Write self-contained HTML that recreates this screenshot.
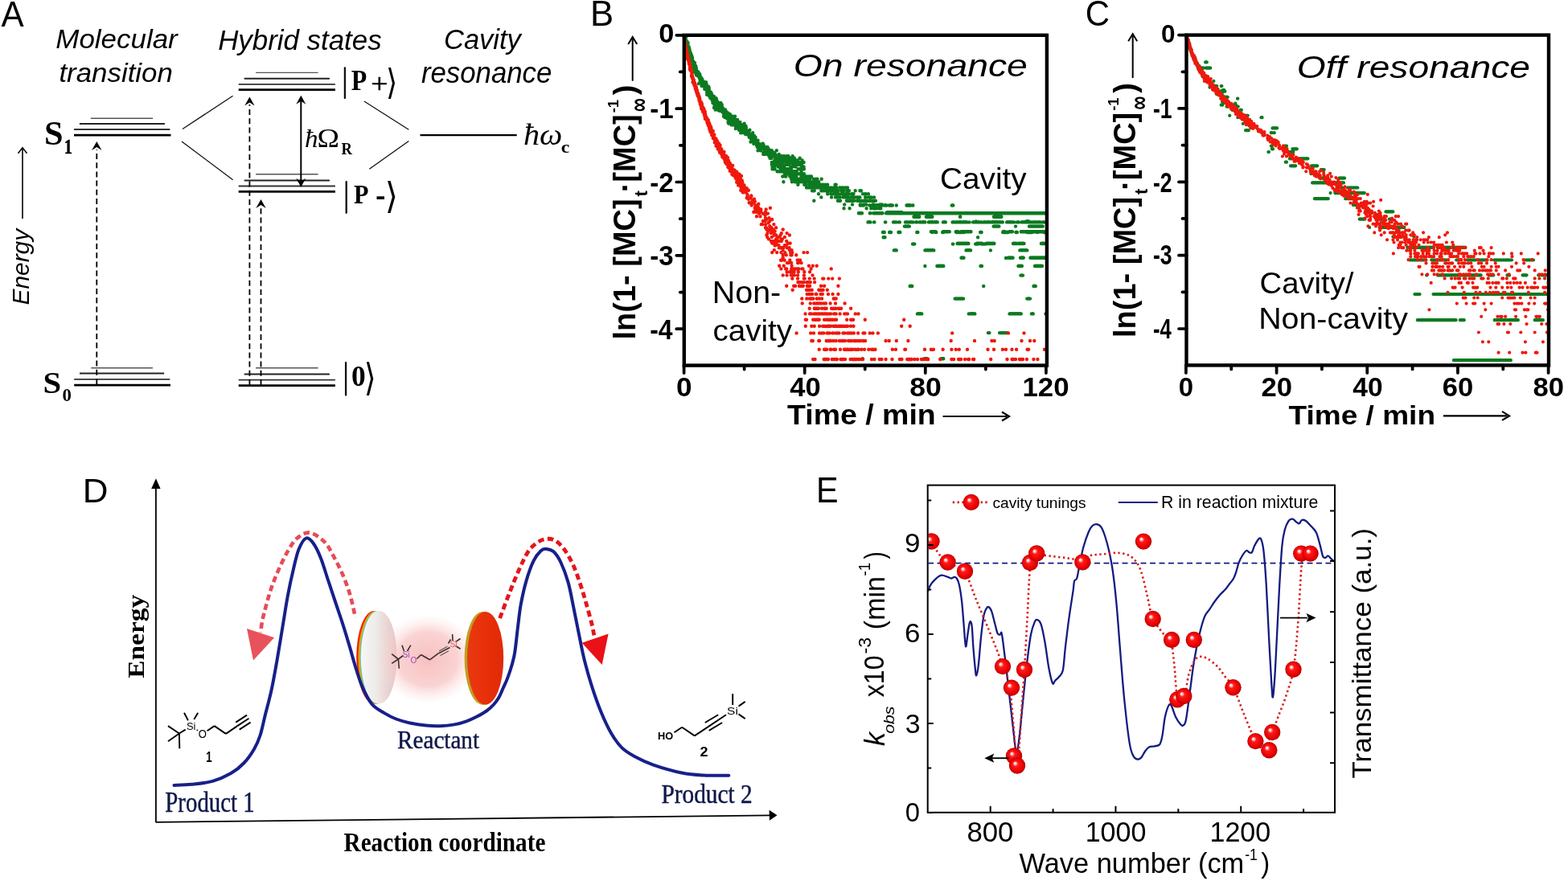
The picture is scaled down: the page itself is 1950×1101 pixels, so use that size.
<!DOCTYPE html>
<html><head><meta charset="utf-8"><title>Figure</title>
<style>html,body{margin:0;padding:0;background:#fff;overflow:hidden}svg{display:block}</style></head>
<body><svg width="1950" height="1101" viewBox="0 0 1950 1101">
<rect width="1950" height="1101" fill="#fff"/>
<text transform="translate(1.50,32.60) scale(0.9557,1)" font-family='"Liberation Sans", Arial, sans-serif' font-size="44.23" fill="#000">A</text>
<text transform="translate(69.35,60.07) scale(1.0271,1)" font-family='"Liberation Sans", Arial, sans-serif' font-size="34.00" font-style="italic" fill="#000">Molecular</text>
<text transform="translate(73.41,102.27) scale(1.0257,1)" font-family='"Liberation Sans", Arial, sans-serif' font-size="34.00" font-style="italic" fill="#000">transition</text>
<text transform="translate(271.15,62.32) scale(1.0200,1)" font-family='"Liberation Sans", Arial, sans-serif' font-size="34.20" font-style="italic" fill="#000">Hybrid states</text>
<text transform="translate(551.98,60.95)" font-family='"Liberation Sans", Arial, sans-serif' font-size="34.52" font-style="italic" fill="#000">Cavity</text>
<text transform="translate(523.96,103.43) scale(0.9543,1)" font-family='"Liberation Sans", Arial, sans-serif' font-size="36.44" font-style="italic" fill="#000">resonance</text>
<text transform="translate(36.36,379.47) rotate(-90) scale(0.9830,1)" font-family='"Liberation Sans", Arial, sans-serif' font-size="30.37" font-style="italic" fill="#000">Energy</text>
<line x1="28.00" y1="272.00" x2="28.00" y2="185.00" stroke="#000" stroke-width="1.6"/>
<path d="M22.50,190.80 L28.00,183.80 L33.50,190.80" fill="none" stroke="#000" stroke-width="1.5" stroke-linejoin="miter"/>
<line x1="112.80" y1="147.30" x2="190.10" y2="147.30" stroke="#555" stroke-width="1.4"/>
<line x1="98.90" y1="154.10" x2="204.90" y2="154.10" stroke="#222" stroke-width="2.0"/>
<line x1="92.00" y1="161.00" x2="211.40" y2="161.00" stroke="#333" stroke-width="1.8"/>
<line x1="92.00" y1="168.10" x2="212.50" y2="168.10" stroke="#000" stroke-width="2.8"/>
<line x1="113.20" y1="457.80" x2="190.00" y2="457.80" stroke="#555" stroke-width="1.4"/>
<line x1="99.00" y1="464.60" x2="204.20" y2="464.60" stroke="#222" stroke-width="2.0"/>
<line x1="92.20" y1="471.80" x2="211.30" y2="471.80" stroke="#333" stroke-width="1.8"/>
<line x1="92.20" y1="479.10" x2="212.00" y2="479.10" stroke="#000" stroke-width="2.8"/>
<line x1="318.10" y1="90.40" x2="395.60" y2="90.40" stroke="#555" stroke-width="1.4"/>
<line x1="303.70" y1="97.80" x2="409.90" y2="97.80" stroke="#222" stroke-width="2.0"/>
<line x1="296.70" y1="104.90" x2="416.90" y2="104.90" stroke="#333" stroke-width="1.8"/>
<line x1="296.70" y1="111.70" x2="416.90" y2="111.70" stroke="#000" stroke-width="2.8"/>
<line x1="318.10" y1="216.80" x2="395.60" y2="216.80" stroke="#555" stroke-width="1.4"/>
<line x1="303.70" y1="224.40" x2="409.90" y2="224.40" stroke="#222" stroke-width="2.0"/>
<line x1="296.70" y1="231.50" x2="416.90" y2="231.50" stroke="#333" stroke-width="1.8"/>
<line x1="296.70" y1="238.40" x2="416.90" y2="238.40" stroke="#000" stroke-width="2.8"/>
<line x1="318.10" y1="457.80" x2="395.60" y2="457.80" stroke="#555" stroke-width="1.4"/>
<line x1="303.70" y1="465.40" x2="409.90" y2="465.40" stroke="#222" stroke-width="2.0"/>
<line x1="296.70" y1="472.70" x2="416.90" y2="472.70" stroke="#333" stroke-width="1.8"/>
<line x1="296.70" y1="479.70" x2="416.90" y2="479.70" stroke="#000" stroke-width="2.8"/>
<line x1="120.30" y1="478.00" x2="120.30" y2="186.00" stroke="#000" stroke-width="1.8" stroke-dasharray="7,4.2"/>
<path d="M120.30,176.00 L126.50,187.00 L120.30,183.00 L114.10,187.00Z" fill="#000"/>
<line x1="310.40" y1="479.00" x2="310.40" y2="130.00" stroke="#000" stroke-width="1.8" stroke-dasharray="7,4.2"/>
<path d="M310.40,120.40 L316.60,131.40 L310.40,127.40 L304.20,131.40Z" fill="#000"/>
<line x1="324.50" y1="479.00" x2="324.50" y2="257.00" stroke="#000" stroke-width="1.8" stroke-dasharray="7,4.2"/>
<path d="M324.50,248.00 L330.70,259.00 L324.50,255.00 L318.30,259.00Z" fill="#000"/>
<line x1="374.30" y1="125.00" x2="374.30" y2="227.00" stroke="#000" stroke-width="2.0"/>
<path d="M374.30,118.80 L380.30,129.80 L374.30,125.80 L368.30,129.80Z" fill="#000"/>
<path d="M374.30,232.80 L380.30,221.80 L374.30,225.80 L368.30,221.80Z" fill="#000"/>
<line x1="227.00" y1="160.50" x2="289.60" y2="119.20" stroke="#111" stroke-width="1.3"/>
<line x1="226.00" y1="175.90" x2="289.60" y2="223.80" stroke="#111" stroke-width="1.3"/>
<line x1="452.90" y1="126.00" x2="508.30" y2="161.30" stroke="#111" stroke-width="1.3"/>
<line x1="459.40" y1="210.20" x2="508.30" y2="175.50" stroke="#111" stroke-width="1.3"/>
<line x1="522.50" y1="168.20" x2="642.70" y2="168.20" stroke="#000" stroke-width="2.2"/>
<text transform="translate(55.11,179.66) scale(1.0313,1)" font-family='"Liberation Serif", "Times New Roman", serif' font-size="41.16" font-weight="700" fill="#000">S</text>
<text transform="translate(79.70,190.70) scale(0.8311,1)" font-family='"Liberation Serif", "Times New Roman", serif' font-size="24.71" font-weight="700" fill="#000" stroke="#000" stroke-width="0.5">1</text>
<text transform="translate(53.49,489.09) scale(1.0492,1)" font-family='"Liberation Serif", "Times New Roman", serif' font-size="38.84" font-weight="700" fill="#000">S</text>
<text transform="translate(77.39,499.43) scale(0.9582,1)" font-family='"Liberation Serif", "Times New Roman", serif' font-size="23.85" font-weight="700" fill="#000">0</text>
<line x1="428.90" y1="84.40" x2="428.90" y2="122.10" stroke="#111" stroke-width="2.3" stroke-linecap="round"/>
<text transform="translate(479.93,116.94) scale(0.8376,1)" font-family='"DejaVu Sans", sans-serif' font-size="43.81" fill="#000">⟩</text>
<text transform="translate(436.70,112.30) scale(0.8974,1)" font-family='"Liberation Serif", "Times New Roman", serif' font-size="35.66" font-weight="700" fill="#000">P</text>
<text transform="translate(461.38,114.93) scale(1.0643,1)" font-family='"Liberation Serif", "Times New Roman", serif' font-size="34.48" fill="#000" stroke="#000" stroke-width="0.7">+</text>
<line x1="430.70" y1="226.10" x2="430.70" y2="264.80" stroke="#111" stroke-width="2.3" stroke-linecap="round"/>
<text transform="translate(478.73,259.48) scale(0.9310,1)" font-family='"DejaVu Sans", sans-serif' font-size="44.91" fill="#000">⟩</text>
<text transform="translate(440.03,253.10) scale(0.9239,1)" font-family='"Liberation Serif", "Times New Roman", serif' font-size="32.76" font-weight="700" fill="#000">P</text>
<rect x="468.5" y="244.3" width="9.5" height="3.7" fill="#000"/>
<line x1="430.10" y1="451.10" x2="430.10" y2="491.60" stroke="#111" stroke-width="2.3" stroke-linecap="round"/>
<text transform="translate(452.80,486.01) scale(0.8188,1)" font-family='"DejaVu Sans", sans-serif' font-size="46.90" fill="#000">⟩</text>
<text transform="translate(436.99,480.05)" font-family='"Liberation Serif", "Times New Roman", serif' font-size="35.35" font-weight="700" fill="#000">0</text>
<text transform="translate(378.96,182.50) scale(1.0266,1)" font-family='"Liberation Serif", "Times New Roman", serif' font-size="32.28" font-style="italic" fill="#000">ħ</text>
<text transform="translate(394.56,182.50) scale(1.0817,1)" font-family='"Liberation Serif", "Times New Roman", serif' font-size="34.23" fill="#000">Ω</text>
<text transform="translate(424.41,191.50) scale(0.8556,1)" font-family='"Liberation Serif", "Times New Roman", serif' font-size="21.79" font-weight="700" fill="#000">R</text>
<text transform="translate(650.95,180.21) scale(1.0689,1)" font-family='"Liberation Serif", "Times New Roman", serif' font-size="37.57" font-style="italic" fill="#000">ħω</text>
<text transform="translate(697.76,190.46) scale(1.0822,1)" font-family='"Liberation Serif", "Times New Roman", serif' font-size="22.00" font-weight="700" fill="#000">c</text>
<text transform="translate(733.89,32.30) scale(0.9912,1)" font-family='"Liberation Sans", Arial, sans-serif' font-size="44.09" fill="#000">B</text>
<path d="M850.7 44.2h0M850.9 46.1h0M851.1 45.1h0M851.3 44.2h0M851.5 50.0h0M851.5 46.6h0M851.5 45.1h0M852.1 46.6h0M852.1 44.7h0M852.2 53.1h0M852.3 47.5h0M852.4 44.7h0M852.7 50.0h0M852.9 49.5h0M852.9 47.5h0M852.9 44.7h0M853.0 46.6h0M853.2 54.2h0M853.5 52.1h0M853.6 54.2h0M853.8 51.6h0M853.9 56.3h0M853.9 51.0h0M854.0 52.1h0M854.2 54.2h0M854.4 58.5h0M854.4 54.2h0M854.5 53.6h0M854.5 52.6h0M854.7 52.1h0M854.8 53.1h0M854.8 52.6h0M855.1 55.2h0M855.2 54.2h0M855.3 59.0h0M855.3 57.4h0M855.3 56.3h0M855.4 54.7h0M855.6 62.4h0M855.6 53.1h0M855.7 59.6h0M855.8 57.9h0M855.9 60.7h0M855.9 59.6h0M856.5 62.4h0M856.5 57.9h0M856.6 58.5h0M856.7 60.7h0M856.8 63.6h0M856.9 63.0h0M856.9 61.8h0M856.9 60.1h0M856.9 59.0h0M857.0 66.5h0M857.0 64.8h0M857.2 64.2h0M857.4 64.8h0M857.5 61.3h0M857.7 63.6h0M857.8 63.0h0M857.9 69.0h0M857.9 67.2h0M858.0 67.8h0M858.3 69.0h0M858.5 70.2h0M858.6 69.6h0M858.6 67.2h0M858.9 69.6h0M858.9 68.4h0M859.0 65.9h0M859.2 71.5h0M859.2 69.0h0M859.3 74.1h0M859.4 70.9h0M859.4 70.2h0M859.5 71.5h0M859.7 75.4h0M859.7 74.8h0M859.9 72.8h0M859.9 72.1h0M859.9 71.5h0M860.1 74.1h0M860.1 73.4h0M860.2 69.0h0M860.3 74.8h0M860.3 72.8h0M860.3 71.5h0M860.4 75.4h0M860.4 74.1h0M861.0 71.5h0M861.1 79.5h0M861.2 82.3h0M861.2 74.1h0M861.3 80.9h0M861.4 79.5h0M861.4 77.4h0M861.4 76.8h0M861.6 83.8h0M861.6 76.1h0M861.6 75.4h0M861.9 81.6h0M862.0 76.8h0M862.2 78.1h0M862.3 85.2h0M862.3 83.8h0M862.6 82.3h0M862.8 86.7h0M862.8 86.0h0M862.9 78.1h0M863.0 82.3h0M863.0 80.2h0M863.0 79.5h0M863.0 77.4h0M863.3 82.3h0M863.4 80.9h0M863.7 89.8h0M863.8 85.2h0M863.8 82.3h0M863.9 83.8h0M864.0 89.8h0M864.0 81.6h0M864.0 78.1h0M864.1 84.5h0M864.6 88.2h0M864.8 90.6h0M864.9 87.5h0M864.9 81.6h0M865.0 84.5h0M865.2 89.0h0M865.3 90.6h0M865.3 86.7h0M865.5 83.0h0M865.6 88.2h0M865.8 90.6h0M865.8 86.7h0M865.9 93.0h0M865.9 85.2h0M866.0 91.4h0M866.1 88.2h0M866.1 87.5h0M866.4 88.2h0M866.5 93.8h0M867.3 91.4h0M867.4 90.6h0M867.5 89.0h0M867.7 93.0h0M867.9 93.8h0M867.9 90.6h0M868.0 92.2h0M868.2 89.8h0M868.3 92.2h0M868.3 90.6h0M868.5 93.8h0M868.5 89.8h0M868.7 94.6h0M868.8 104.1h0M868.8 92.2h0M869.5 96.2h0M869.6 95.4h0M869.9 93.0h0M870.1 97.1h0M870.1 96.2h0M870.1 95.4h0M870.3 92.2h0M870.4 98.8h0M870.4 97.9h0M870.4 97.1h0M870.4 94.6h0M870.5 96.2h0M870.6 101.4h0M870.8 99.6h0M870.8 98.8h0M870.8 96.2h0M870.9 97.9h0M870.9 97.1h0M871.0 101.4h0M871.0 95.4h0M871.3 103.2h0M871.3 95.4h0M871.4 100.5h0M871.9 98.8h0M872.1 97.1h0M872.4 99.6h0M872.6 106.9h0M872.9 104.1h0M872.9 97.9h0M873.0 101.4h0M873.1 105.0h0M873.2 99.6h0M873.3 102.3h0M873.3 101.4h0M873.3 98.8h0M873.8 101.4h0M873.9 104.1h0M873.9 100.5h0M874.5 106.9h0M874.5 105.9h0M874.5 101.4h0M874.9 104.1h0M874.9 101.4h0M875.1 106.9h0M875.1 102.3h0M875.7 105.0h0M876.2 103.2h0M876.3 110.7h0M876.3 108.7h0M876.4 105.9h0M876.5 107.8h0M876.5 104.1h0M876.7 106.9h0M877.1 110.7h0M877.1 105.9h0M877.2 109.7h0M877.4 106.9h0M877.7 104.1h0M877.7 103.2h0M878.0 102.3h0M878.1 109.7h0M878.2 108.7h0M878.5 110.7h0M878.6 107.8h0M878.6 106.9h0M878.7 109.7h0M878.7 105.0h0M879.1 114.7h0M879.1 108.7h0M879.2 117.8h0M879.2 111.7h0M879.3 113.7h0M879.4 111.7h0M879.5 112.7h0M879.6 110.7h0M879.8 112.7h0M879.9 113.7h0M880.1 109.7h0M880.2 115.7h0M880.2 108.7h0M880.3 111.7h0M880.4 108.7h0M880.5 112.7h0M880.9 116.8h0M880.9 114.7h0M880.9 112.7h0M881.0 111.7h0M881.2 107.8h0M881.3 113.7h0M881.3 110.7h0M881.4 116.8h0M881.4 114.7h0M881.7 117.8h0M881.8 109.7h0M882.0 116.8h0M882.0 114.7h0M882.1 112.7h0M882.2 117.8h0M882.3 119.9h0M882.3 116.8h0M882.3 115.7h0M882.6 117.8h0M882.7 113.7h0M882.8 118.9h0M882.8 116.8h0M882.8 114.7h0M883.0 117.8h0M883.4 122.1h0M883.5 119.9h0M883.8 116.8h0M883.9 117.8h0M883.9 114.7h0M884.1 115.7h0M884.3 118.9h0M884.5 121.0h0M884.6 119.9h0M884.6 115.7h0M884.7 117.8h0M884.8 119.9h0M884.8 118.9h0M884.9 116.8h0M885.0 122.1h0M885.0 117.8h0M885.4 119.9h0M885.6 124.4h0M885.6 123.3h0M885.6 122.1h0M885.7 121.0h0M885.9 118.9h0M886.1 119.9h0M886.2 121.0h0M886.4 127.9h0M886.4 126.7h0M886.4 123.3h0M886.8 122.1h0M887.3 121.0h0M887.3 119.9h0M887.5 124.4h0M887.9 127.9h0M887.9 125.5h0M887.9 122.1h0M887.9 121.0h0M887.9 119.9h0M888.0 134.0h0M888.2 129.0h0M888.3 130.2h0M888.3 125.5h0M888.3 123.3h0M888.4 126.7h0M888.5 129.0h0M888.5 124.4h0M888.7 127.9h0M888.8 126.7h0M888.8 124.4h0M888.9 125.5h0M888.9 122.1h0M889.0 127.9h0M889.7 136.5h0M889.7 129.0h0M889.7 123.3h0M889.8 130.2h0M889.8 125.5h0M890.0 131.5h0M890.1 127.9h0M890.3 127.9h0M890.3 126.7h0M890.5 125.5h0M890.5 122.1h0M890.6 124.4h0M890.8 131.5h0M891.0 129.0h0M891.0 123.3h0M891.6 131.5h0M891.6 126.7h0M891.6 125.5h0M891.7 130.2h0M891.8 131.5h0M891.8 129.0h0M891.8 127.9h0M891.9 134.0h0M892.0 126.7h0M892.1 132.7h0M892.3 136.5h0M892.4 130.2h0M892.5 134.0h0M892.5 131.5h0M892.6 132.7h0M892.8 134.0h0M893.2 131.5h0M893.2 130.2h0M893.3 129.0h0M893.5 131.5h0M893.8 136.5h0M893.8 132.7h0M893.8 131.5h0M893.9 129.0h0M893.9 127.9h0M894.1 135.2h0M894.1 130.2h0M894.3 135.2h0M894.3 134.0h0M894.3 132.7h0M894.3 129.0h0M894.5 137.8h0M894.6 131.5h0M895.0 132.7h0M895.1 135.2h0M895.2 136.5h0M895.5 132.7h0M895.6 134.0h0M895.6 131.5h0M896.0 135.2h0M896.0 134.0h0M896.3 135.2h0M896.3 132.7h0M896.4 127.9h0M896.5 137.8h0M896.5 134.0h0M896.9 136.5h0M897.0 135.2h0M897.0 134.0h0M897.3 137.8h0M897.4 135.2h0M897.8 130.2h0M898.0 137.8h0M898.1 136.5h0M898.1 135.2h0M898.3 139.2h0M898.3 137.8h0M898.7 136.5h0M898.7 135.2h0M898.7 134.0h0M899.0 136.5h0M899.0 135.2h0M899.1 137.8h0M899.3 139.2h0M899.6 140.5h0M899.7 137.8h0M900.0 144.7h0M900.0 137.8h0M900.1 141.9h0M900.1 139.2h0M900.2 140.5h0M900.5 140.5h0M900.6 141.9h0M900.7 143.3h0M901.0 136.5h0M901.1 140.5h0M901.4 146.1h0M901.4 140.5h0M901.5 143.3h0M901.5 139.2h0M901.7 141.9h0M901.9 143.3h0M902.0 144.7h0M902.0 141.9h0M902.0 136.5h0M902.3 139.2h0M902.3 137.8h0M902.4 144.7h0M902.5 146.1h0M902.6 143.3h0M902.8 140.5h0M903.1 144.7h0M903.1 143.3h0M903.3 140.5h0M903.5 146.1h0M903.5 141.9h0M903.6 139.2h0M904.0 141.9h0M904.1 144.7h0M904.1 143.3h0M904.2 147.5h0M904.2 140.5h0M904.4 143.3h0M904.4 141.9h0M904.4 140.5h0M904.5 144.7h0M905.0 143.3h0M905.1 146.1h0M905.2 140.5h0M905.4 143.3h0M905.5 152.0h0M905.5 144.7h0M906.1 153.6h0M906.1 147.5h0M906.2 146.1h0M906.2 143.3h0M906.3 149.0h0M906.3 147.5h0M906.4 146.1h0M906.5 144.7h0M906.8 150.5h0M907.0 149.0h0M907.1 147.5h0M907.1 146.1h0M907.5 144.7h0M907.7 153.6h0M907.7 147.5h0M907.8 144.7h0M907.8 141.9h0M907.9 143.3h0M908.0 149.0h0M908.5 147.5h0M908.6 152.0h0M908.6 144.7h0M908.7 149.0h0M908.9 144.7h0M909.1 152.0h0M909.4 152.0h0M909.4 149.0h0M909.5 155.2h0M909.7 147.5h0M910.0 153.6h0M910.2 150.5h0M910.2 149.0h0M910.4 153.6h0M910.5 147.5h0M910.5 144.7h0M910.6 150.5h0M910.7 149.0h0M910.8 152.0h0M910.8 146.1h0M911.1 150.5h0M911.1 147.5h0M911.3 144.7h0M911.4 153.6h0M911.4 149.0h0M911.5 155.2h0M911.6 152.0h0M911.6 150.5h0M911.7 146.1h0M912.0 152.0h0M912.0 147.5h0M912.1 150.5h0M912.1 149.0h0M912.3 153.6h0M912.3 150.5h0M912.7 152.0h0M912.9 150.5h0M913.2 147.5h0M913.3 152.0h0M913.4 150.5h0M913.5 155.2h0M913.6 153.6h0M913.6 149.0h0M913.8 150.5h0M914.0 153.6h0M914.1 144.7h0M914.3 155.2h0M914.3 153.6h0M914.7 152.0h0M914.7 150.5h0M914.7 149.0h0M914.9 160.1h0M914.9 156.8h0M915.0 155.2h0M915.0 152.0h0M915.3 153.6h0M915.6 155.2h0M915.6 152.0h0M915.8 155.2h0M915.9 158.4h0M915.9 156.8h0M915.9 152.0h0M916.0 153.6h0M916.3 152.0h0M916.6 158.4h0M916.7 153.6h0M916.8 155.2h0M916.9 156.8h0M917.2 149.0h0M917.5 155.2h0M917.6 153.6h0M917.6 152.0h0M917.7 156.8h0M917.9 153.6h0M918.1 156.8h0M918.4 158.4h0M918.5 156.8h0M918.7 153.6h0M918.8 156.8h0M918.8 152.0h0M919.0 161.8h0M919.0 155.2h0M919.3 156.8h0M919.4 158.4h0M919.4 153.6h0M919.8 160.1h0M919.9 158.4h0M920.1 155.2h0M920.3 158.4h0M920.3 152.0h0M920.5 153.6h0M920.7 155.2h0M921.1 165.3h0M921.2 163.5h0M921.2 156.8h0M921.3 161.8h0M921.3 160.1h0M921.4 158.4h0M921.4 156.8h0M921.6 165.3h0M922.0 163.5h0M922.0 160.1h0M922.0 158.4h0M922.2 161.8h0M922.2 155.2h0M922.4 163.5h0M922.6 160.1h0M922.6 156.8h0M922.8 158.4h0M923.4 156.8h0M923.5 160.1h0M923.8 156.8h0M924.0 161.8h0M924.3 161.8h0M924.6 158.4h0M924.8 158.4h0M925.0 165.3h0M925.1 163.5h0M925.2 161.8h0M925.2 160.1h0M925.6 161.8h0M925.6 153.6h0M925.6 163.5h0M926.8 160.1h0M927.2 167.1h0M927.2 165.3h0M927.5 163.5h0M927.5 156.8h0M927.9 158.4h0M928.3 161.8h0M928.7 167.1h0M928.7 165.3h0M929.4 165.3h0M930.9 165.3h0M931.3 168.9h0M931.7 170.8h0M931.7 163.5h0M932.4 161.8h0M933.5 176.6h0M933.9 172.7h0M933.9 170.8h0M934.3 167.1h0M935.4 170.8h0M935.8 174.6h0M936.2 165.3h0M936.5 170.8h0M936.9 168.9h0M937.3 178.7h0M937.7 176.6h0M938.0 168.9h0M938.4 174.6h0M938.8 176.6h0M939.2 178.7h0M939.2 174.6h0M939.5 172.7h0M939.5 170.8h0M939.9 174.6h0M940.3 178.7h0M940.7 176.6h0M941.0 180.7h0M941.4 176.6h0M941.8 182.9h0M941.8 180.7h0M942.2 176.6h0M942.5 187.3h0M942.5 178.7h0M942.5 174.6h0M943.3 182.9h0M943.3 178.7h0M944.0 182.9h0M944.0 178.7h0M944.4 185.0h0M944.4 180.7h0M945.2 185.0h0M945.2 182.9h0M945.2 180.7h0M945.9 187.3h0M946.3 182.9h0M947.0 185.0h0M947.0 182.9h0M947.0 180.7h0M948.2 178.7h0M948.5 185.0h0M948.9 182.9h0M948.9 178.7h0M949.3 191.9h0M949.3 189.6h0M949.7 185.0h0M949.7 180.7h0M950.0 191.9h0M950.0 182.9h0M951.2 191.9h0M951.5 189.6h0M951.5 187.3h0M951.5 182.9h0M951.9 185.0h0M953.0 189.6h0M953.4 187.3h0M953.8 185.0h0M954.5 191.9h0M954.5 182.9h0M954.9 187.3h0M955.7 185.0h0M956.4 194.3h0M956.4 191.9h0M956.4 189.6h0M957.2 191.9h0M957.2 189.6h0M957.5 196.8h0M957.9 189.6h0M957.9 187.3h0M958.7 194.3h0M958.7 187.3h0M959.0 189.6h0M959.4 196.8h0M959.8 191.9h0M959.8 187.3h0M960.5 191.9h0M960.9 189.6h0M961.7 194.3h0M962.4 194.3h0M962.8 189.6h0M963.2 199.4h0M963.6 191.9h0M964.3 196.8h0M964.3 191.9h0M965.1 196.8h0M965.4 202.0h0M965.8 199.4h0M965.8 196.8h0M965.8 194.3h0M965.8 187.3h0M966.6 194.3h0M966.9 202.0h0M967.3 199.4h0M967.3 196.8h0M967.7 194.3h0M968.1 202.0h0M968.1 199.4h0M968.1 196.8h0M968.4 194.3h0M968.8 191.9h0M969.2 196.8h0M969.6 204.7h0M969.6 202.0h0M969.6 199.4h0M969.9 194.3h0M970.3 199.4h0M970.7 202.0h0M970.7 196.8h0M971.1 199.4h0M971.4 194.3h0M972.6 202.0h0M972.6 196.8h0M972.9 194.3h0M973.3 204.7h0M973.7 199.4h0M973.7 196.8h0M974.1 194.3h0M974.4 196.8h0M975.6 199.4h0M975.6 194.3h0M976.7 196.8h0M977.1 204.7h0M977.1 202.0h0M978.6 196.8h0M978.6 194.3h0M978.9 204.7h0M979.3 199.4h0M979.7 202.0h0M979.7 196.8h0M980.4 196.8h0M980.4 194.3h0M980.8 204.7h0M980.8 199.4h0M981.6 196.8h0M982.7 202.0h0M982.7 196.8h0M983.4 202.0h0M983.4 196.8h0M983.8 199.4h0M984.2 207.5h0M984.6 202.0h0M984.6 199.4h0M985.3 204.7h0M985.3 196.8h0M985.7 199.4h0M985.7 194.3h0M987.2 202.0h0M987.9 196.8h0M988.3 204.7h0M988.7 202.0h0M989.4 207.5h0M989.4 199.4h0M990.2 202.0h0M990.9 202.0h0M991.3 199.4h0M991.7 202.0h0M992.1 204.7h0M992.1 199.4h0M992.4 202.0h0M993.2 204.7h0M993.2 202.0h0M993.6 210.3h0M994.7 202.0h0M994.7 196.8h0M995.1 210.3h0M995.1 204.7h0M995.8 202.0h0M996.9 207.5h0M996.9 204.7h0M996.9 202.0h0M997.7 199.4h0M998.1 202.0h0M998.8 202.0h0M999.6 207.5h0M999.6 202.0h0M999.9 210.3h0M959.8 204.7h0M959.8 202.0h0M960.5 210.3h0M960.5 207.5h0M960.5 204.7h0M961.3 210.3h0M961.7 204.7h0M962.0 202.0h0M962.4 207.5h0M962.8 204.7h0M963.2 207.5h0M963.6 210.3h0M964.3 204.7h0M964.7 199.4h0M965.4 199.4h0M965.4 196.8h0M966.2 202.0h0M966.6 213.3h0M966.6 204.7h0M967.3 213.3h0M967.7 207.5h0M968.1 204.7h0M968.4 207.5h0M969.2 207.5h0M969.9 213.3h0M969.9 204.7h0M969.9 202.0h0M970.7 210.3h0M970.7 207.5h0M971.1 213.3h0M971.4 207.5h0M971.8 210.3h0M971.8 202.0h0M972.6 213.3h0M972.6 210.3h0M972.9 207.5h0M972.9 204.7h0M972.9 202.0h0M973.3 219.5h0M973.7 213.3h0M974.4 226.2h0M975.2 213.3h0M975.2 210.3h0M975.2 207.5h0M975.9 216.3h0M975.9 210.3h0M976.7 219.5h0M976.7 216.3h0M977.1 213.3h0M977.1 210.3h0M977.4 219.5h0M977.4 216.3h0M977.8 213.3h0M977.8 210.3h0M978.2 216.3h0M978.6 210.3h0M978.9 216.3h0M978.9 213.3h0M979.3 210.3h0M979.7 216.3h0M980.1 213.3h0M980.4 216.3h0M980.4 210.3h0M980.8 213.3h0M982.3 219.5h0M983.1 216.3h0M983.4 207.5h0M983.8 213.3h0M983.8 210.3h0M984.2 222.8h0M984.2 219.5h0M984.2 216.3h0M984.9 226.2h0M985.3 219.5h0M985.3 216.3h0M985.7 207.5h0M986.1 216.3h0M986.4 222.8h0M986.4 213.3h0M987.2 219.5h0M987.9 222.8h0M987.9 216.3h0M987.9 213.3h0M988.7 226.2h0M988.7 219.5h0M988.7 216.3h0M988.7 213.3h0M989.4 222.8h0M989.4 219.5h0M989.8 213.3h0M990.2 226.2h0M990.2 219.5h0M990.6 222.8h0M990.6 213.3h0M990.9 226.2h0M991.3 216.3h0M991.7 222.8h0M992.1 216.3h0M992.4 229.7h0M992.4 226.2h0M992.4 222.8h0M992.8 210.3h0M993.2 226.2h0M993.2 222.8h0M993.9 226.2h0M993.9 222.8h0M993.9 216.3h0M994.7 222.8h0M995.1 226.2h0M995.4 216.3h0M996.6 219.5h0M996.6 216.3h0M996.6 213.3h0M996.6 210.3h0M997.7 222.8h0M998.1 226.2h0M999.6 222.8h0M999.9 226.2h0M999.9 216.3h0M1000.3 229.7h0M1000.3 219.5h0M1000.7 226.2h0M1000.7 222.8h0M1001.1 229.7h0M1001.8 219.5h0M1002.2 229.7h0M1002.2 226.2h0M1002.6 222.8h0M1003.0 233.4h0M1003.3 219.5h0M1004.5 233.4h0M1004.5 222.8h0M1004.8 226.2h0M1006.0 226.2h0M1006.0 219.5h0M1006.3 233.4h0M1006.3 229.7h0M1007.1 222.8h0M1007.5 233.4h0M1007.5 219.5h0M1008.2 226.2h0M1009.0 229.7h0M1009.0 219.5h0M1009.3 233.4h0M1009.7 229.7h0M1010.1 237.2h0M1010.5 229.7h0M1010.8 226.2h0M1011.6 222.8h0M1012.0 237.2h0M1012.3 249.8h0M1012.3 226.2h0M1012.7 237.2h0M1012.7 233.4h0M1013.1 229.7h0M1013.8 226.2h0M1014.6 229.7h0M1014.6 226.2h0M1014.6 222.8h0M1015.3 233.4h0M1015.3 226.2h0M1016.5 229.7h0M1016.5 222.8h0M1016.8 233.4h0M1017.2 226.2h0M1017.6 233.4h0M1018.0 241.2h0M1018.0 229.7h0M1018.3 226.2h0M1018.7 229.7h0M1019.1 233.4h0M1019.5 229.7h0M1019.8 233.4h0M1021.0 233.4h0M1021.3 245.4h0M1021.3 237.2h0M1021.7 222.8h0M1022.1 229.7h0M1022.8 237.2h0M1023.6 237.2h0M1023.6 233.4h0M1024.0 229.7h0M1024.3 233.4h0M1025.1 233.4h0M1026.2 237.2h0M1026.6 229.7h0M1027.3 233.4h0M1027.7 237.2h0M1028.5 237.2h0M1029.2 241.2h0M1029.2 229.7h0M1029.6 233.4h0M1030.3 237.2h0M1030.7 233.4h0M1031.1 237.2h0M1032.6 237.2h0M1033.3 241.2h0M1033.3 237.2h0M1033.7 233.4h0M1034.1 245.4h0M1036.0 241.2h0M1036.0 237.2h0M1036.7 237.2h0M1036.7 233.4h0M1037.1 241.2h0M1037.5 237.2h0M1038.2 237.2h0M1038.6 233.4h0M1038.6 229.7h0M1039.0 245.4h0M1039.4 237.2h0M1039.7 229.7h0M1040.1 241.2h0M1040.1 237.2h0M1040.1 233.4h0M1040.5 245.4h0M1040.9 241.2h0M1042.0 249.8h0M1042.0 237.2h0M1042.4 241.2h0M1043.1 241.2h0M1043.5 245.4h0M1044.2 233.4h0M1044.6 245.4h0M1045.0 249.8h0M1045.0 233.4h0M1046.1 241.2h0M1046.1 237.2h0M1046.9 241.2h0M1047.2 237.2h0M1047.6 233.4h0M1048.0 241.2h0M1048.0 237.2h0M1048.7 245.4h0M1048.7 241.2h0M1048.7 233.4h0M1049.1 237.2h0M1049.5 259.2h0M1049.9 241.2h0M1050.2 254.4h0M1050.2 245.4h0M1050.6 241.2h0M1051.0 245.4h0M1051.4 241.2h0M1051.7 233.4h0M1052.1 245.4h0M1052.1 241.2h0M1052.9 249.8h0M1052.9 245.4h0M1052.9 241.2h0M1053.2 237.2h0M1053.6 245.4h0M1053.6 241.2h0M1054.0 249.8h0M1054.0 233.4h0M1054.4 245.4h0M1054.4 241.2h0M1055.5 241.2h0M1055.9 237.2h0M1056.2 249.8h0M1056.2 245.4h0M1056.6 259.2h0M1057.0 249.8h0M1057.4 245.4h0M1058.5 249.8h0M1058.5 245.4h0M1059.2 241.2h0M1059.6 245.4h0M1060.0 254.4h0M1060.7 249.8h0M1060.7 241.2h0M1061.5 241.2h0M1061.9 245.4h0M1062.2 249.8h0M1063.7 237.2h0M1064.5 245.4h0M1066.0 249.8h0M1066.0 245.4h0M1066.7 245.4h0M1067.9 249.8h0M1068.6 249.8h0M1068.6 245.4h0M1069.4 245.4h0M1069.4 237.2h0M1069.7 254.4h0M1070.9 254.4h0M1070.9 237.2h0M1071.6 249.8h0M1073.1 241.2h0M1073.9 254.4h0M1074.6 249.8h0M1075.0 254.4h0M1075.8 241.2h0M1076.1 245.4h0M1076.5 254.4h0M1076.5 249.8h0M1076.5 241.2h0M1077.3 254.4h0M1077.3 245.4h0M1077.6 259.2h0M1079.1 249.8h0M1079.9 241.2h0M1081.0 245.4h0M1081.8 249.8h0M1082.1 245.4h0M1083.3 259.2h0M1083.3 245.4h0M1084.0 249.8h0M1085.5 254.4h0M1085.9 249.8h0M1086.3 254.4h0M1087.0 259.2h0M1087.0 245.4h0M1088.9 249.8h0M1089.6 259.2h0M1093.4 259.2h0M1094.5 254.4h0M1095.3 259.2h0M1096.8 254.4h0M1067.9 265.3h0M1068.6 265.3h0M1069.0 265.3h0M1069.4 265.3h0M1069.7 255.5h0M1070.1 265.3h0M1070.1 255.5h0M1070.5 265.3h0M1070.5 255.5h0M1070.9 265.3h0M1071.6 265.3h0M1072.0 265.3h0M1072.7 255.5h0M1073.1 255.5h0M1073.5 255.5h0M1073.9 255.5h0M1079.5 276.4h0M1079.9 276.4h0M1080.3 276.4h0M1081.0 276.4h0M1081.4 276.4h0M1081.4 255.5h0M1081.8 276.4h0M1081.8 265.3h0M1081.8 255.5h0M1082.5 276.4h0M1082.5 265.3h0M1084.4 255.5h0M1084.8 255.5h0M1085.5 255.5h0M1086.3 265.3h0M1087.0 276.4h0M1087.0 265.3h0M1087.0 255.5h0M1087.4 276.4h0M1087.4 265.3h0M1087.4 255.5h0M1087.8 265.3h0M1087.8 255.5h0M1088.5 265.3h0M1088.5 255.5h0M1088.9 265.3h0M1088.9 255.5h0M1089.3 265.3h0M1089.3 255.5h0M1090.0 265.3h0M1090.0 255.5h0M1090.4 265.3h0M1090.4 255.5h0M1090.8 265.3h0M1090.8 255.5h0M1091.5 265.3h0M1091.5 255.5h0M1091.9 265.3h0M1091.9 255.5h0M1092.3 265.3h0M1092.3 255.5h0M1093.0 265.3h0M1093.8 265.3h0M1093.8 255.5h0M1094.5 265.3h0M1094.9 265.3h0M1095.3 265.3h0M1096.0 265.3h0M1096.4 265.3h0M1096.8 265.3h0M1097.1 255.5h0M1097.5 265.3h0M1097.9 289.0h0M1098.3 289.0h0M1099.0 289.0h0M1099.4 289.0h0M1099.8 289.0h0M1100.1 255.5h0M1100.5 255.5h0M1100.9 276.4h0M1100.9 255.5h0M1101.3 276.4h0M1101.3 255.5h0M1102.0 265.3h0M1102.0 255.5h0M1102.4 255.5h0M1102.8 265.3h0M1103.5 265.3h0M1103.9 265.3h0M1105.0 265.3h0M1105.4 265.3h0M1105.8 265.3h0M1105.8 255.5h0M1106.1 289.0h0M1106.5 289.0h0M1106.5 255.5h0M1106.9 289.0h0M1106.9 265.3h0M1106.9 255.5h0M1107.3 289.0h0M1107.3 265.3h0M1107.3 255.5h0M1108.0 289.0h0M1108.0 255.5h0M1108.4 265.3h0M1108.4 255.5h0M1108.8 265.3h0M1109.5 255.5h0M1109.9 265.3h0M1109.9 255.5h0M1110.3 265.3h0M1111.0 276.4h0M1111.0 265.3h0M1111.4 276.4h0M1111.4 265.3h0M1111.8 276.4h0M1112.1 265.3h0M1112.5 265.3h0M1112.9 265.3h0M1113.3 276.4h0M1113.7 265.3h0M1114.0 276.4h0M1114.0 265.3h0M1114.4 276.4h0M1114.4 265.3h0M1114.8 265.3h0M1114.8 255.5h0M1115.5 265.3h0M1116.7 265.3h0M1117.0 265.3h0M1117.4 289.0h0M1117.8 289.0h0M1117.8 276.4h0M1118.5 289.0h0M1118.5 276.4h0M1118.5 265.3h0M1118.9 289.0h0M1118.9 276.4h0M1118.9 265.3h0M1119.3 289.0h0M1119.3 265.3h0M1120.4 265.3h0M1120.8 265.3h0M1121.5 265.3h0M1121.9 265.3h0M1122.3 265.3h0M1123.0 265.3h0M1123.4 265.3h0M1123.8 265.3h0M1124.5 265.3h0M1124.9 265.3h0M1125.3 265.3h0M1126.0 276.4h0M1126.0 265.3h0M1126.4 276.4h0M1126.4 265.3h0M1126.8 265.3h0M1127.5 265.3h0M1127.5 255.5h0M1127.9 276.4h0M1127.9 265.3h0M1127.9 255.5h0M1128.3 276.4h0M1128.3 265.3h0M1128.3 255.5h0M1129.0 276.4h0M1129.0 255.5h0M1129.4 265.3h0M1129.4 255.5h0M1129.8 265.3h0M1129.8 255.5h0M1130.5 265.3h0M1130.5 255.5h0M1130.9 265.3h0M1130.9 255.5h0M1131.3 276.4h0M1131.3 255.5h0M1131.7 265.3h0M1132.0 276.4h0M1132.0 265.3h0M1132.0 255.5h0M1132.4 276.4h0M1132.4 255.5h0M1132.8 276.4h0M1132.8 265.3h0M1133.5 276.4h0M1133.9 265.3h0M1134.3 265.3h0M1135.0 303.6h0M1135.0 265.3h0M1135.0 255.5h0M1135.4 303.6h0M1135.4 276.4h0M1135.4 265.3h0M1135.4 255.5h0M1135.8 303.6h0M1136.2 265.3h0M1136.5 303.6h0M1136.5 265.3h0M1136.9 303.6h0M1136.9 265.3h0M1137.3 303.6h0M1137.3 265.3h0M1138.0 265.3h0M1138.4 265.3h0M1138.8 265.3h0M1139.2 276.4h0M1139.5 276.4h0M1139.9 276.4h0M1139.9 265.3h0M1140.3 289.0h0M1140.3 276.4h0M1140.3 265.3h0M1141.0 289.0h0M1141.0 265.3h0M1141.4 289.0h0M1141.4 265.3h0M1141.8 265.3h0M1142.5 265.3h0M1142.9 265.3h0M1143.7 276.4h0M1143.7 265.3h0M1144.0 276.4h0M1144.0 265.3h0M1144.4 265.3h0M1144.8 276.4h0M1144.8 265.3h0M1145.5 265.3h0M1145.9 265.3h0M1146.3 265.3h0M1146.7 276.4h0M1147.0 265.3h0M1147.4 276.4h0M1147.4 265.3h0M1147.8 276.4h0M1147.8 265.3h0M1148.5 276.4h0M1148.5 265.3h0M1148.9 276.4h0M1148.9 265.3h0M1149.3 276.4h0M1149.3 265.3h0M1150.0 276.4h0M1150.0 265.3h0M1150.4 276.4h0M1150.8 265.3h0M1151.6 265.3h0M1151.9 265.3h0M1152.3 265.3h0M1153.1 265.3h0M1153.4 265.3h0M1153.8 265.3h0M1154.6 265.3h0M1154.9 276.4h0M1155.3 276.4h0M1155.3 265.3h0M1156.1 276.4h0M1156.1 265.3h0M1156.4 276.4h0M1156.4 265.3h0M1156.8 276.4h0M1156.8 265.3h0M1157.6 276.4h0M1157.9 276.4h0M1157.9 265.3h0M1158.7 276.4h0M1158.7 265.3h0M1159.1 276.4h0M1159.4 289.0h0M1159.4 276.4h0M1159.4 265.3h0M1159.8 276.4h0M1160.2 265.3h0M1160.9 265.3h0M1161.3 265.3h0M1161.7 276.4h0M1162.1 276.4h0M1162.1 265.3h0M1162.4 276.4h0M1162.8 276.4h0M1162.8 265.3h0M1163.6 289.0h0M1163.6 276.4h0M1163.6 265.3h0M1163.9 289.0h0M1163.9 276.4h0M1163.9 265.3h0M1164.3 289.0h0M1164.3 276.4h0M1164.3 265.3h0M1165.1 276.4h0M1165.1 265.3h0M1165.4 276.4h0M1165.4 265.3h0M1165.8 276.4h0M1165.8 265.3h0M1166.6 265.3h0M1167.3 265.3h0M1168.1 265.3h0M1168.8 265.3h0M1169.6 265.3h0M1169.9 265.3h0M1170.3 265.3h0M1171.1 265.3h0M1171.4 265.3h0M1171.8 265.3h0M1172.2 289.0h0M1172.6 289.0h0M1172.6 265.3h0M1172.9 289.0h0M1172.9 276.4h0M1172.9 265.3h0M1173.3 276.4h0M1173.3 265.3h0M1174.1 276.4h0M1174.1 265.3h0M1174.4 276.4h0M1174.4 265.3h0M1174.8 276.4h0M1175.2 265.3h0M1175.6 276.4h0M1175.6 265.3h0M1175.9 276.4h0M1175.9 265.3h0M1176.3 265.3h0M1177.1 265.3h0M1177.8 265.3h0M1178.6 265.3h0M1178.9 265.3h0M1179.7 265.3h0M1180.1 265.3h0M1180.4 265.3h0M1180.8 265.3h0M1181.9 265.3h0M1182.3 265.3h0M1183.1 265.3h0M1183.8 265.3h0M1183.8 255.5h0M1184.6 276.4h0M1184.6 255.5h0M1184.9 303.6h0M1184.9 265.3h0M1184.9 255.5h0M1185.3 303.6h0M1185.3 265.3h0M1185.3 255.5h0M1185.7 276.4h0M1186.1 276.4h0M1186.1 265.3h0M1186.4 276.4h0M1186.8 276.4h0M1186.8 265.3h0M1187.6 265.3h0M1187.9 265.3h0M1188.3 265.3h0M1189.1 276.4h0M1189.1 265.3h0M1189.5 289.0h0M1189.5 276.4h0M1189.5 265.3h0M1189.8 289.0h0M1189.8 276.4h0M1190.2 265.3h0M1190.6 289.0h0M1190.6 265.3h0M1191.0 289.0h0M1191.0 276.4h0M1191.0 265.3h0M1191.3 276.4h0M1191.3 265.3h0M1192.1 265.3h0M1192.5 265.3h0M1192.8 289.0h0M1192.8 265.3h0M1193.2 276.4h0M1193.6 289.0h0M1193.6 276.4h0M1194.0 289.0h0M1194.0 276.4h0M1194.0 265.3h0M1194.3 289.0h0M1194.3 276.4h0M1194.3 265.3h0M1195.1 289.0h0M1195.1 276.4h0M1195.1 265.3h0M1195.5 289.0h0M1195.5 276.4h0M1195.5 265.3h0M1195.8 265.3h0M1197.0 276.4h0M1197.0 265.3h0M1197.3 276.4h0M1197.3 265.3h0M1198.1 276.4h0M1198.1 265.3h0M1198.5 289.0h0M1198.5 276.4h0M1198.5 265.3h0M1198.8 289.0h0M1198.8 276.4h0M1199.2 265.3h0M1199.6 276.4h0M1199.6 265.3h0M1200.0 276.4h0M1200.0 265.3h0M1200.3 276.4h0M1200.7 265.3h0M1201.1 276.4h0M1201.5 276.4h0M1201.5 265.3h0M1201.8 276.4h0M1201.8 265.3h0M1202.6 276.4h0M1202.6 265.3h0M1203.0 265.3h0M1203.7 265.3h0M1204.1 265.3h0M1204.5 265.3h0M1205.2 265.3h0M1205.6 276.4h0M1205.6 265.3h0M1206.0 265.3h0M1206.7 265.3h0M1207.1 265.3h0M1207.5 265.3h0M1207.8 265.3h0M1208.6 265.3h0M1209.0 265.3h0M1209.3 265.3h0M1210.1 276.4h0M1210.1 265.3h0M1210.5 276.4h0M1210.5 265.3h0M1210.8 276.4h0M1210.8 265.3h0M1211.6 276.4h0M1211.6 265.3h0M1212.0 276.4h0M1212.0 265.3h0M1212.3 276.4h0M1212.3 265.3h0M1213.1 303.6h0M1213.1 265.3h0M1213.5 303.6h0M1213.5 265.3h0M1213.8 303.6h0M1213.8 265.3h0M1214.2 276.4h0M1214.6 303.6h0M1214.6 276.4h0M1214.6 265.3h0M1215.0 303.6h0M1215.0 276.4h0M1215.0 265.3h0M1215.3 303.6h0M1215.3 276.4h0M1215.3 265.3h0M1216.1 303.6h0M1216.1 276.4h0M1216.1 265.3h0M1216.5 276.4h0M1216.5 265.3h0M1216.8 276.4h0M1216.8 265.3h0M1217.6 276.4h0M1217.6 265.3h0M1218.0 276.4h0M1218.0 265.3h0M1218.3 276.4h0M1218.3 265.3h0M1219.1 289.0h0M1219.1 265.3h0M1219.5 289.0h0M1219.8 289.0h0M1219.8 265.3h0M1220.6 289.0h0M1220.6 276.4h0M1221.0 303.6h0M1221.0 276.4h0M1221.0 265.3h0M1221.3 303.6h0M1221.3 265.3h0M1222.1 303.6h0M1222.1 265.3h0M1222.5 303.6h0M1222.5 265.3h0M1222.8 303.6h0M1223.2 265.3h0M1223.6 303.6h0M1223.6 276.4h0M1224.0 303.6h0M1224.0 276.4h0M1224.0 265.3h0M1224.3 303.6h0M1224.3 276.4h0M1224.7 265.3h0M1225.1 303.6h0M1225.1 276.4h0M1225.1 265.3h0M1225.5 303.6h0M1225.5 276.4h0M1225.9 265.3h0M1226.6 265.3h0M1227.0 265.3h0M1227.4 276.4h0M1227.4 265.3h0M1228.1 276.4h0M1228.1 265.3h0M1228.5 276.4h0M1228.5 265.3h0M1228.9 276.4h0M1228.9 265.3h0M1229.6 276.4h0M1230.0 276.4h0M1230.0 265.3h0M1230.4 276.4h0M1230.4 265.3h0M1231.1 276.4h0M1231.1 265.3h0M1231.5 265.3h0M1231.9 276.4h0M1231.9 265.3h0M1233.0 276.4h0M1233.0 265.3h0M1233.4 265.3h0M1233.7 276.4h0M1234.1 276.4h0M1234.1 265.3h0M1234.5 276.4h0M1234.5 265.3h0M1234.9 276.4h0M1234.9 265.3h0M1235.6 276.4h0M1236.0 276.4h0M1236.0 265.3h0M1236.4 276.4h0M1236.4 265.3h0M1237.1 276.4h0M1237.1 265.3h0M1237.5 276.4h0M1237.5 265.3h0M1237.9 276.4h0M1237.9 265.3h0M1238.6 276.4h0M1239.0 276.4h0M1239.0 265.3h0M1239.4 276.4h0M1239.7 265.3h0M1240.1 276.4h0M1240.5 276.4h0M1240.5 265.3h0M1240.9 276.4h0M1240.9 265.3h0M1241.6 265.3h0M1242.0 265.3h0M1242.4 265.3h0M1242.7 276.4h0M1243.1 276.4h0M1243.1 265.3h0M1243.5 276.4h0M1243.5 265.3h0M1243.9 276.4h0M1243.9 265.3h0M1244.6 265.3h0M1245.0 265.3h0M1245.4 276.4h0M1245.4 265.3h0M1246.1 276.4h0M1246.1 265.3h0M1246.5 276.4h0M1246.5 265.3h0M1246.9 276.4h0M1247.2 289.0h0M1247.2 265.3h0M1247.6 289.0h0M1247.6 265.3h0M1248.0 289.0h0M1248.0 265.3h0M1248.4 289.0h0M1248.7 265.3h0M1249.1 289.0h0M1249.5 289.0h0M1249.5 265.3h0M1249.9 289.0h0M1249.9 265.3h0M1250.6 289.0h0M1251.0 321.0h0M1251.0 289.0h0M1251.0 265.3h0M1251.4 321.0h0M1251.4 289.0h0M1251.4 265.3h0M1252.1 289.0h0M1252.1 276.4h0M1252.1 265.3h0M1252.5 289.0h0M1252.5 276.4h0M1252.9 289.0h0M1252.9 276.4h0M1252.9 265.3h0M1253.6 289.0h0M1253.6 276.4h0M1253.6 265.3h0M1254.0 276.4h0M1254.0 265.3h0M1254.4 276.4h0M1254.4 265.3h0M1255.1 276.4h0M1255.1 265.3h0M1255.5 276.4h0M1255.5 265.3h0M1255.9 276.4h0M1255.9 265.3h0M1256.6 276.4h0M1256.6 265.3h0M1257.0 276.4h0M1257.0 265.3h0M1257.4 276.4h0M1257.4 265.3h0M1258.1 276.4h0M1258.1 265.3h0M1258.5 276.4h0M1258.9 276.4h0M1258.9 265.3h0M1259.6 265.3h0M1260.0 265.3h0M1260.4 276.4h0M1260.4 265.3h0M1261.1 276.4h0M1261.1 265.3h0M1261.9 265.3h0M1262.6 265.3h0M1263.0 265.3h0M1263.4 289.0h0M1263.4 265.3h0M1263.8 289.0h0M1263.8 265.3h0M1264.5 289.0h0M1264.5 265.3h0M1264.9 289.0h0M1264.9 276.4h0M1265.3 265.3h0M1266.0 276.4h0M1266.0 265.3h0M1266.4 276.4h0M1266.4 265.3h0M1266.8 276.4h0M1266.8 265.3h0M1267.5 265.3h0M1267.9 265.3h0M1268.3 265.3h0M1269.0 265.3h0M1269.4 265.3h0M1269.8 265.3h0M1270.5 276.4h0M1270.5 265.3h0M1270.9 276.4h0M1270.9 265.3h0M1271.3 276.4h0M1271.6 265.3h0M1272.0 276.4h0M1272.0 265.3h0M1272.4 276.4h0M1272.4 265.3h0M1272.8 265.3h0M1273.1 276.4h0M1273.5 276.4h0M1273.9 276.4h0M1273.9 265.3h0M1274.3 276.4h0M1274.3 265.3h0M1275.0 265.3h0M1275.4 265.3h0M1275.8 276.4h0M1276.1 265.3h0M1276.5 265.3h0M1276.9 276.4h0M1276.9 265.3h0M1277.3 289.0h0M1277.3 276.4h0M1277.3 265.3h0M1278.0 289.0h0M1278.0 276.4h0M1278.4 276.4h0M1278.4 265.3h0M1278.8 289.0h0M1278.8 276.4h0M1278.8 265.3h0M1279.5 289.0h0M1279.5 276.4h0M1279.5 265.3h0M1279.9 276.4h0M1280.3 265.3h0M1280.6 289.0h0M1281.0 289.0h0M1281.4 265.3h0M1282.1 265.3h0M1282.5 289.0h0M1282.5 276.4h0M1282.5 265.3h0M1282.9 289.0h0M1282.9 265.3h0M1283.3 289.0h0M1283.3 265.3h0M1283.6 276.4h0M1284.0 265.3h0M1284.4 265.3h0M1284.8 276.4h0M1284.8 265.3h0M1285.5 276.4h0M1285.5 265.3h0M1285.9 276.4h0M1285.9 265.3h0M1286.3 276.4h0M1286.3 265.3h0M1287.0 265.3h0M1287.4 265.3h0M1287.8 276.4h0M1287.8 265.3h0M1288.5 276.4h0M1288.9 276.4h0M1288.9 265.3h0M1289.3 276.4h0M1289.3 265.3h0M1290.0 289.0h0M1290.0 265.3h0M1290.4 289.0h0M1290.4 276.4h0M1290.8 265.3h0M1291.5 276.4h0M1291.5 265.3h0M1291.9 276.4h0M1291.9 265.3h0M1292.3 276.4h0M1292.3 265.3h0M1293.0 276.4h0M1293.0 265.3h0M1293.4 276.4h0M1293.4 265.3h0M1293.8 276.4h0M1293.8 265.3h0M1294.9 265.3h0M1295.3 265.3h0M1296.4 265.3h0M1296.8 276.4h0M1296.8 265.3h0M1297.5 276.4h0M1297.5 265.3h0M1297.9 276.4h0M1298.3 289.0h0M1298.3 276.4h0M1298.3 265.3h0M1299.0 289.0h0M1299.0 265.3h0M1299.8 265.3h0M1300.5 289.0h0M1300.5 276.4h0M1300.5 265.3h0M1300.9 289.0h0M1300.9 276.4h0M1300.9 265.3h0M1072.7 446.3h0M1098.6 295.3h0M1099.0 295.3h0M1099.4 295.3h0M1099.8 295.3h0M1100.5 295.3h0M1103.1 264.3h0M1103.5 264.3h0M1103.9 264.3h0M1104.3 264.3h0M1105.0 264.3h0M1105.4 264.3h0M1105.8 264.3h0M1106.5 264.3h0M1106.9 264.3h0M1107.3 264.3h0M1108.0 264.3h0M1108.4 264.3h0M1108.8 264.3h0M1109.5 264.3h0M1109.9 264.3h0M1110.3 264.3h0M1111.0 264.3h0M1111.4 264.3h0M1111.8 311.4h0M1111.8 264.3h0M1112.5 311.4h0M1112.5 264.3h0M1112.9 311.4h0M1112.9 264.3h0M1113.3 311.4h0M1113.3 264.3h0M1114.0 311.4h0M1114.0 264.3h0M1114.4 311.4h0M1114.4 264.3h0M1114.8 311.4h0M1114.8 264.3h0M1115.5 264.3h0M1115.9 264.3h0M1116.3 264.3h0M1117.0 264.3h0M1117.4 264.3h0M1117.8 264.3h0M1118.5 264.3h0M1118.9 264.3h0M1119.3 264.3h0M1120.0 264.3h0M1120.4 264.3h0M1120.8 264.3h0M1121.5 264.3h0M1124.9 281.6h0M1125.3 281.6h0M1126.0 281.6h0M1126.4 281.6h0M1126.8 281.6h0M1127.5 281.6h0M1127.9 281.6h0M1128.3 281.6h0M1129.0 281.6h0M1129.4 281.6h0M1129.8 281.6h0M1130.5 281.6h0M1130.9 281.6h0M1131.7 356.0h0M1132.0 356.0h0M1132.4 356.0h0M1132.8 356.0h0M1133.5 356.0h0M1133.9 356.0h0M1134.3 356.0h0M1136.5 269.7h0M1136.9 269.7h0M1137.3 269.7h0M1138.0 269.7h0M1138.4 269.7h0M1138.8 269.7h0M1139.5 269.7h0M1139.9 269.7h0M1140.3 269.7h0M1141.0 390.4h0M1141.0 269.7h0M1141.4 390.4h0M1141.4 269.7h0M1141.8 390.4h0M1141.8 269.7h0M1142.5 390.4h0M1142.5 269.7h0M1142.9 390.4h0M1142.9 269.7h0M1143.3 390.4h0M1143.3 269.7h0M1144.0 390.4h0M1144.4 390.4h0M1144.8 390.4h0M1145.5 390.4h0M1145.9 390.4h0M1146.3 390.4h0M1149.7 446.3h0M1150.0 446.3h0M1150.4 446.3h0M1150.4 331.0h0M1150.4 311.4h0M1150.8 446.3h0M1150.8 311.4h0M1151.6 446.3h0M1151.6 311.4h0M1151.9 446.3h0M1151.9 311.4h0M1151.9 269.7h0M1152.3 446.3h0M1152.3 311.4h0M1152.3 269.7h0M1153.1 446.3h0M1153.1 311.4h0M1153.1 269.7h0M1153.4 311.4h0M1153.4 269.7h0M1153.8 311.4h0M1153.8 269.7h0M1154.6 311.4h0M1154.6 269.7h0M1154.9 311.4h0M1154.9 269.7h0M1155.3 311.4h0M1155.3 269.7h0M1156.1 311.4h0M1156.1 269.7h0M1156.4 311.4h0M1156.4 269.7h0M1156.8 311.4h0M1156.8 269.7h0M1157.6 311.4h0M1157.6 269.7h0M1157.9 311.4h0M1157.9 288.2h0M1157.9 269.7h0M1158.3 311.4h0M1158.3 288.2h0M1158.3 269.7h0M1159.1 311.4h0M1159.1 288.2h0M1159.1 269.7h0M1159.4 311.4h0M1159.4 288.2h0M1159.4 269.7h0M1159.8 311.4h0M1159.8 288.2h0M1160.6 311.4h0M1160.6 288.2h0M1160.9 311.4h0M1160.9 288.2h0M1161.3 311.4h0M1161.3 288.2h0M1162.1 288.2h0M1162.4 288.2h0M1162.8 288.2h0M1163.6 288.2h0M1165.4 331.0h0M1165.8 331.0h0M1166.6 331.0h0M1166.9 331.0h0M1167.3 331.0h0M1168.1 331.0h0M1168.4 331.0h0M1168.8 331.0h0M1169.6 331.0h0M1169.9 331.0h0M1170.3 446.3h0M1170.3 331.0h0M1171.1 446.3h0M1171.1 331.0h0M1171.4 446.3h0M1171.4 331.0h0M1171.8 446.3h0M1171.8 331.0h0M1172.6 446.3h0M1172.6 331.0h0M1172.9 446.3h0M1172.9 331.0h0M1172.9 288.2h0M1173.3 446.3h0M1173.3 331.0h0M1173.3 288.2h0M1174.1 288.2h0M1174.4 288.2h0M1174.8 288.2h0M1175.6 288.2h0M1175.9 288.2h0M1176.3 288.2h0M1177.1 288.2h0M1177.4 288.2h0M1177.8 288.2h0M1178.6 288.2h0M1178.9 288.2h0M1179.3 288.2h0M1180.1 288.2h0M1180.4 288.2h0M1180.8 288.2h0M1187.6 371.6h0M1187.9 371.6h0M1188.3 371.6h0M1188.7 288.2h0M1189.1 371.6h0M1189.1 288.2h0M1189.5 371.6h0M1189.5 288.2h0M1189.8 371.6h0M1189.8 288.2h0M1190.6 371.6h0M1190.6 303.0h0M1190.6 288.2h0M1191.0 371.6h0M1191.0 303.0h0M1191.0 288.2h0M1191.3 371.6h0M1191.3 303.0h0M1191.3 288.2h0M1192.1 371.6h0M1192.1 303.0h0M1192.5 371.6h0M1192.5 303.0h0M1192.8 371.6h0M1192.8 303.0h0M1193.6 371.6h0M1193.6 303.0h0M1194.0 371.6h0M1194.0 303.0h0M1194.0 269.7h0M1194.3 371.6h0M1194.3 303.0h0M1194.3 269.7h0M1195.1 371.6h0M1195.1 303.0h0M1195.1 288.2h0M1195.5 371.6h0M1195.5 320.7h0M1195.5 303.0h0M1195.5 288.2h0M1195.8 371.6h0M1195.8 320.7h0M1195.8 303.0h0M1195.8 288.2h0M1196.6 371.6h0M1196.6 320.7h0M1196.6 303.0h0M1196.6 288.2h0M1197.0 371.6h0M1197.0 320.7h0M1197.0 303.0h0M1197.0 288.2h0M1197.3 371.6h0M1197.3 320.7h0M1197.3 303.0h0M1197.3 288.2h0M1198.1 371.6h0M1198.1 320.7h0M1198.1 303.0h0M1198.1 288.2h0M1198.5 320.7h0M1198.5 303.0h0M1198.5 288.2h0M1198.8 303.0h0M1198.8 288.2h0M1199.6 303.0h0M1199.6 288.2h0M1200.0 303.0h0M1200.0 288.2h0M1200.3 303.0h0M1200.3 288.2h0M1201.1 303.0h0M1201.1 288.2h0M1201.5 311.4h0M1201.5 303.0h0M1201.5 288.2h0M1201.8 311.4h0M1201.8 303.0h0M1201.8 288.2h0M1202.6 311.4h0M1202.6 303.0h0M1202.6 288.2h0M1203.0 311.4h0M1203.0 303.0h0M1203.0 288.2h0M1203.3 311.4h0M1203.3 303.0h0M1203.3 288.2h0M1204.1 311.4h0M1204.1 303.0h0M1204.1 288.2h0M1204.5 311.4h0M1204.5 303.0h0M1204.5 288.2h0M1204.8 390.4h0M1204.8 311.4h0M1204.8 288.2h0M1205.6 311.4h0M1205.6 288.2h0M1206.0 390.4h0M1206.0 311.4h0M1206.0 288.2h0M1206.3 390.4h0M1206.3 311.4h0M1206.3 288.2h0M1207.1 390.4h0M1207.1 311.4h0M1207.1 288.2h0M1207.5 390.4h0M1207.5 288.2h0M1207.8 390.4h0M1208.6 390.4h0M1209.0 390.4h0M1209.3 390.4h0M1210.1 390.4h0M1210.5 390.4h0M1210.8 390.4h0M1211.6 390.4h0M1212.0 390.4h0M1212.3 390.4h0M1213.8 275.5h0M1214.6 303.0h0M1215.0 303.0h0M1215.3 303.0h0M1216.1 303.0h0M1216.1 295.3h0M1216.5 303.0h0M1216.8 303.0h0M1217.6 303.0h0M1218.0 303.0h0M1218.3 303.0h0M1219.1 303.0h0M1219.5 331.0h0M1219.5 303.0h0M1219.8 331.0h0M1219.8 303.0h0M1220.6 331.0h0M1220.6 303.0h0M1221.0 331.0h0M1221.0 303.0h0M1221.3 303.0h0M1223.2 356.0h0M1226.6 303.0h0M1227.0 303.0h0M1227.4 303.0h0M1228.1 303.0h0M1228.5 303.0h0M1228.9 414.1h0M1228.9 303.0h0M1229.6 414.1h0M1229.6 303.0h0M1230.0 414.1h0M1230.0 303.0h0M1230.4 414.1h0M1230.4 303.0h0M1231.1 303.0h0M1231.5 303.0h0M1231.9 311.4h0M1231.9 303.0h0M1232.6 303.0h0M1233.0 303.0h0M1233.4 303.0h0M1234.1 303.0h0M1234.5 303.0h0M1234.9 303.0h0M1235.6 303.0h0M1235.6 281.6h0M1236.0 303.0h0M1236.0 281.6h0M1236.0 269.7h0M1236.4 303.0h0M1236.4 281.6h0M1236.4 269.7h0M1237.1 281.6h0M1237.1 269.7h0M1237.5 281.6h0M1237.5 269.7h0M1237.9 281.6h0M1237.9 269.7h0M1238.6 281.6h0M1238.6 269.7h0M1239.0 281.6h0M1239.0 269.7h0M1239.4 281.6h0M1239.4 269.7h0M1240.1 281.6h0M1240.1 269.7h0M1240.5 281.6h0M1240.5 269.7h0M1240.9 281.6h0M1240.9 269.7h0M1241.6 281.6h0M1241.6 269.7h0M1242.0 281.6h0M1242.0 269.7h0M1242.4 281.6h0M1242.4 269.7h0M1243.1 414.1h0M1243.1 269.7h0M1243.5 414.1h0M1243.5 269.7h0M1243.9 414.1h0M1243.9 269.7h0M1244.6 414.1h0M1244.6 269.7h0M1245.0 414.1h0M1245.0 269.7h0M1245.4 414.1h0M1245.4 269.7h0M1246.1 414.1h0M1246.5 414.1h0M1246.9 414.1h0M1247.6 414.1h0M1247.6 288.2h0M1248.0 414.1h0M1248.0 288.2h0M1248.4 414.1h0M1248.4 288.2h0M1249.1 414.1h0M1249.1 288.2h0M1249.5 414.1h0M1249.5 288.2h0M1249.9 414.1h0M1250.6 414.1h0M1251.0 414.1h0M1251.4 414.1h0M1252.1 414.1h0M1252.5 414.1h0M1252.9 414.1h0M1254.0 320.7h0M1254.4 320.7h0M1255.1 320.7h0M1255.1 288.2h0M1255.5 390.4h0M1255.5 320.7h0M1255.5 288.2h0M1255.9 390.4h0M1255.9 320.7h0M1255.9 288.2h0M1256.6 390.4h0M1256.6 320.7h0M1256.6 288.2h0M1257.0 390.4h0M1257.0 320.7h0M1257.0 288.2h0M1257.4 390.4h0M1257.4 320.7h0M1257.4 288.2h0M1258.1 390.4h0M1258.1 320.7h0M1258.1 288.2h0M1258.5 390.4h0M1258.5 320.7h0M1258.5 288.2h0M1258.9 390.4h0M1258.9 320.7h0M1258.9 288.2h0M1259.6 390.4h0M1259.6 320.7h0M1260.0 390.4h0M1260.0 303.0h0M1260.4 390.4h0M1260.4 303.0h0M1261.1 390.4h0M1261.1 303.0h0M1261.5 390.4h0M1261.5 303.0h0M1261.9 390.4h0M1261.9 303.0h0M1262.6 390.4h0M1262.6 303.0h0M1263.0 390.4h0M1263.0 303.0h0M1263.0 281.6h0M1263.4 390.4h0M1263.4 303.0h0M1263.8 390.4h0M1263.8 303.0h0M1264.5 390.4h0M1264.5 303.0h0M1264.9 390.4h0M1265.3 390.4h0M1266.0 390.4h0M1266.4 390.4h0M1266.4 331.0h0M1266.4 303.0h0M1266.8 390.4h0M1266.8 331.0h0M1266.8 303.0h0M1267.5 390.4h0M1267.5 331.0h0M1267.5 303.0h0M1267.9 390.4h0M1267.9 331.0h0M1267.9 303.0h0M1268.3 390.4h0M1268.3 331.0h0M1268.3 311.4h0M1268.3 303.0h0M1269.0 390.4h0M1269.0 331.0h0M1269.0 320.7h0M1269.0 311.4h0M1269.0 303.0h0M1269.4 390.4h0M1269.4 342.6h0M1269.4 331.0h0M1269.4 320.7h0M1269.4 311.4h0M1269.4 303.0h0M1269.8 390.4h0M1269.8 342.6h0M1269.8 331.0h0M1269.8 320.7h0M1269.8 311.4h0M1269.8 303.0h0M1269.8 288.2h0M1270.5 342.6h0M1270.5 331.0h0M1270.5 320.7h0M1270.5 311.4h0M1270.5 303.0h0M1270.5 288.2h0M1270.9 342.6h0M1270.9 331.0h0M1270.9 320.7h0M1270.9 311.4h0M1270.9 303.0h0M1270.9 288.2h0M1271.3 342.6h0M1271.3 320.7h0M1271.3 311.4h0M1271.3 303.0h0M1271.3 288.2h0M1272.0 342.6h0M1272.0 320.7h0M1272.0 311.4h0M1272.0 303.0h0M1272.0 288.2h0M1272.4 320.7h0M1272.4 311.4h0M1272.4 303.0h0M1272.4 288.2h0M1272.8 320.7h0M1272.8 311.4h0M1272.8 303.0h0M1272.8 288.2h0M1273.5 311.4h0M1273.5 303.0h0M1273.5 288.2h0M1273.9 311.4h0M1273.9 288.2h0M1274.3 311.4h0M1274.3 288.2h0M1275.0 311.4h0M1275.0 288.2h0M1275.4 311.4h0M1275.4 288.2h0M1275.8 311.4h0M1275.8 288.2h0M1276.5 311.4h0M1276.5 288.2h0M1276.5 275.5h0M1276.9 311.4h0M1276.9 288.2h0M1276.9 275.5h0M1277.3 371.6h0M1277.3 311.4h0M1277.3 288.2h0M1277.3 275.5h0M1278.0 371.6h0M1278.0 288.2h0M1278.0 275.5h0M1278.4 371.6h0M1278.4 288.2h0M1278.4 275.5h0M1278.8 371.6h0M1278.8 288.2h0M1278.8 275.5h0M1279.5 371.6h0M1279.5 288.2h0M1279.5 275.5h0M1279.9 371.6h0M1279.9 288.2h0M1279.9 281.6h0M1280.3 371.6h0M1280.3 288.2h0M1280.3 281.6h0M1281.0 371.6h0M1281.0 288.2h0M1281.0 281.6h0M1281.4 320.7h0M1281.4 288.2h0M1281.4 281.6h0M1281.8 320.7h0M1281.8 288.2h0M1281.8 281.6h0M1282.5 320.7h0M1282.5 288.2h0M1282.5 281.6h0M1282.9 390.4h0M1282.9 320.7h0M1282.9 288.2h0M1282.9 281.6h0M1283.3 390.4h0M1283.3 320.7h0M1283.3 288.2h0M1283.3 281.6h0M1284.0 390.4h0M1284.0 320.7h0M1284.0 288.2h0M1284.0 281.6h0M1284.4 390.4h0M1284.4 320.7h0M1284.4 288.2h0M1284.4 281.6h0M1284.8 390.4h0M1284.8 320.7h0M1284.8 288.2h0M1284.8 281.6h0M1285.5 356.0h0M1285.5 320.7h0M1285.5 288.2h0M1285.5 281.6h0M1285.9 356.0h0M1285.9 320.7h0M1285.9 288.2h0M1285.9 281.6h0M1286.3 356.0h0M1286.3 320.7h0M1286.3 288.2h0M1286.3 281.6h0M1287.0 356.0h0M1287.0 331.0h0M1287.0 320.7h0M1287.0 288.2h0M1287.0 281.6h0M1287.4 356.0h0M1287.4 331.0h0M1287.4 320.7h0M1287.4 288.2h0M1287.4 281.6h0M1287.8 356.0h0M1287.8 331.0h0M1287.8 320.7h0M1287.8 288.2h0M1287.8 281.6h0M1288.5 331.0h0M1288.5 320.7h0M1288.5 288.2h0M1288.5 281.6h0M1288.9 331.0h0M1288.9 320.7h0M1288.9 288.2h0M1288.9 281.6h0M1289.3 331.0h0M1289.3 320.7h0M1289.3 288.2h0M1289.3 281.6h0M1290.0 331.0h0M1290.0 320.7h0M1290.0 288.2h0M1290.0 281.6h0M1290.4 331.0h0M1290.4 320.7h0M1290.4 288.2h0M1290.4 281.6h0M1290.8 331.0h0M1290.8 320.7h0M1290.8 288.2h0M1290.8 281.6h0M1291.5 331.0h0M1291.5 320.7h0M1291.5 288.2h0M1291.5 281.6h0M1291.9 331.0h0M1291.9 320.7h0M1291.9 288.2h0M1291.9 281.6h0M1292.3 331.0h0M1292.3 320.7h0M1292.3 288.2h0M1292.3 281.6h0M1293.0 331.0h0M1293.0 320.7h0M1293.0 288.2h0M1293.0 281.6h0M1293.4 331.0h0M1293.4 320.7h0M1293.4 288.2h0M1293.4 281.6h0M1293.8 331.0h0M1293.8 320.7h0M1293.8 288.2h0M1293.8 281.6h0M1294.5 331.0h0M1294.5 320.7h0M1294.5 288.2h0M1294.5 281.6h0M1294.9 331.0h0M1294.9 320.7h0M1294.9 303.0h0M1294.9 288.2h0M1294.9 281.6h0M1295.3 331.0h0M1295.3 320.7h0M1295.3 303.0h0M1295.3 288.2h0M1295.3 281.6h0M1296.0 331.0h0M1296.0 320.7h0M1296.0 303.0h0M1296.0 288.2h0M1296.0 281.6h0M1296.4 320.7h0M1296.4 303.0h0M1296.4 288.2h0M1296.4 281.6h0M1296.8 320.7h0M1296.8 303.0h0M1296.8 288.2h0M1296.8 281.6h0M1297.5 320.7h0M1297.5 303.0h0M1297.5 288.2h0M1297.9 320.7h0M1297.9 303.0h0M1297.9 288.2h0M1298.3 320.7h0M1298.3 303.0h0M1298.3 288.2h0M1299.0 320.7h0M1299.0 303.0h0M1299.4 320.7h0M1299.4 303.0h0M1299.8 320.7h0M1300.5 390.4h0M1300.5 320.7h0M1300.9 390.4h0M1300.9 320.7h0" stroke="#0c7a20" stroke-width="4.4" stroke-linecap="round" fill="none"/>
<path d="M850.6 44.9h0M850.6 44.3h0M850.8 45.9h0M850.8 44.4h0M851.3 48.2h0M851.7 51.9h0M851.8 52.9h0M852.2 56.3h0M852.2 53.5h0M852.4 56.7h0M852.5 58.3h0M852.5 56.9h0M852.6 57.8h0M852.9 58.3h0M853.0 62.1h0M853.1 61.7h0M853.3 60.8h0M853.4 62.5h0M853.8 61.7h0M853.9 67.7h0M853.9 65.5h0M854.0 66.1h0M854.5 63.9h0M855.1 73.6h0M855.1 72.3h0M855.1 69.8h0M855.2 70.4h0M855.2 68.5h0M855.4 73.6h0M855.4 72.3h0M855.4 71.7h0M855.4 70.8h0M855.4 69.6h0M855.6 70.6h0M855.6 70.2h0M856.0 74.7h0M856.2 75.6h0M856.3 74.7h0M856.5 74.1h0M856.8 78.4h0M856.8 77.9h0M856.9 79.3h0M856.9 79.0h0M856.9 75.6h0M857.1 80.0h0M857.1 77.0h0M857.4 78.6h0M857.5 80.9h0M857.6 77.4h0M857.7 79.5h0M857.8 81.6h0M857.8 80.5h0M857.9 86.3h0M858.0 84.1h0M858.1 84.8h0M858.3 87.1h0M858.5 84.3h0M858.5 82.8h0M858.7 86.0h0M858.7 83.6h0M858.7 81.9h0M858.8 87.8h0M858.8 87.1h0M858.8 86.6h0M858.9 87.3h0M859.3 86.8h0M859.5 88.1h0M859.6 87.3h0M859.9 94.7h0M859.9 87.6h0M860.1 92.3h0M860.1 92.0h0M860.3 90.7h0M860.4 92.8h0M860.8 96.1h0M861.0 94.2h0M861.2 97.8h0M861.3 97.5h0M861.4 98.1h0M861.4 95.8h0M861.5 102.2h0M861.7 97.0h0M861.9 101.0h0M862.0 101.9h0M862.1 99.5h0M862.3 98.7h0M862.4 103.1h0M862.6 103.7h0M862.6 100.4h0M862.8 100.7h0M862.9 102.5h0M862.9 99.5h0M863.1 104.0h0M863.2 104.9h0M863.3 104.0h0M863.3 102.2h0M863.4 104.6h0M863.5 103.1h0M863.7 106.8h0M863.8 102.8h0M863.9 104.0h0M864.0 105.9h0M864.2 104.6h0M864.3 105.2h0M864.6 107.4h0M864.6 106.8h0M864.7 110.3h0M864.7 108.4h0M864.8 107.4h0M864.9 109.0h0M864.9 106.2h0M865.2 110.0h0M865.2 108.1h0M865.5 112.0h0M865.5 111.3h0M865.5 111.0h0M865.5 110.0h0M865.5 109.4h0M865.6 110.7h0M865.7 109.0h0M865.8 112.0h0M865.8 110.7h0M865.9 113.7h0M865.9 108.4h0M866.0 113.0h0M866.0 109.4h0M866.6 115.4h0M866.6 113.7h0M866.6 112.7h0M866.8 116.4h0M866.8 112.0h0M866.9 115.4h0M867.0 114.0h0M867.1 114.4h0M867.5 118.6h0M867.5 117.5h0M867.5 116.4h0M867.5 115.0h0M867.6 118.9h0M867.6 116.8h0M867.7 117.8h0M867.8 119.3h0M867.8 117.5h0M868.2 118.6h0M868.3 116.4h0M868.5 120.4h0M868.5 120.0h0M868.6 119.3h0M868.6 118.9h0M868.6 118.2h0M868.9 120.4h0M869.3 123.0h0M869.4 121.1h0M869.5 124.9h0M869.5 120.0h0M869.7 125.6h0M869.9 123.3h0M869.9 123.0h0M870.0 121.5h0M870.1 122.6h0M870.3 124.1h0M870.3 123.3h0M870.4 124.9h0M870.5 127.6h0M870.8 129.6h0M871.0 129.2h0M871.0 127.6h0M871.0 127.2h0M871.3 129.6h0M871.4 127.6h0M871.8 132.0h0M871.9 129.6h0M871.9 128.8h0M872.0 130.4h0M872.0 127.2h0M872.1 130.0h0M872.2 135.0h0M872.3 130.0h0M872.3 129.2h0M872.4 130.8h0M872.6 132.9h0M872.7 133.7h0M872.7 131.6h0M872.8 134.6h0M872.8 129.6h0M872.9 133.3h0M872.9 130.4h0M872.9 129.2h0M873.1 135.9h0M873.1 134.1h0M873.3 134.6h0M873.5 135.0h0M873.5 134.1h0M873.6 135.4h0M873.9 135.4h0M874.0 138.5h0M874.0 133.3h0M874.1 138.9h0M874.1 136.3h0M874.4 138.9h0M874.4 136.7h0M874.5 137.2h0M874.7 138.5h0M875.0 138.9h0M875.0 138.5h0M875.0 138.1h0M875.1 139.4h0M875.1 135.0h0M875.4 138.1h0M875.4 137.6h0M875.5 137.2h0M875.6 141.2h0M875.6 140.3h0M875.7 136.7h0M875.9 142.6h0M875.9 139.8h0M875.9 138.9h0M876.0 140.8h0M876.2 142.1h0M876.3 141.7h0M876.3 139.8h0M876.4 145.0h0M876.4 141.2h0M876.5 143.5h0M876.5 143.1h0M876.8 144.0h0M876.8 138.9h0M876.9 147.9h0M876.9 143.1h0M876.9 142.1h0M877.1 142.6h0M877.1 141.7h0M877.2 145.4h0M877.2 144.5h0M877.4 145.4h0M877.7 147.4h0M877.8 145.4h0M878.0 145.0h0M878.1 146.9h0M878.2 147.4h0M878.4 148.4h0M878.4 146.9h0M879.0 147.9h0M879.2 150.9h0M879.4 147.4h0M879.5 151.9h0M879.5 151.4h0M879.5 150.4h0M879.8 153.5h0M879.9 151.4h0M880.7 155.1h0M880.8 156.1h0M880.9 154.5h0M880.9 151.9h0M880.9 149.4h0M881.0 152.9h0M881.3 155.1h0M881.3 153.5h0M881.6 156.1h0M881.6 154.0h0M881.7 152.4h0M881.9 155.6h0M882.0 158.3h0M882.2 154.5h0M882.3 160.6h0M882.5 154.5h0M883.2 163.4h0M883.2 160.0h0M883.4 161.1h0M883.4 160.6h0M883.5 157.8h0M883.6 160.0h0M883.7 159.4h0M883.8 164.6h0M883.8 157.2h0M884.1 160.6h0M884.3 162.9h0M884.4 158.9h0M884.5 165.2h0M884.5 161.1h0M885.0 161.7h0M885.2 168.3h0M885.2 167.0h0M885.2 165.2h0M885.3 166.4h0M885.7 164.6h0M886.2 167.6h0M886.6 166.4h0M886.7 164.0h0M886.7 162.9h0M886.8 172.0h0M887.0 170.8h0M887.1 168.9h0M887.2 168.3h0M887.4 170.1h0M887.6 171.4h0M887.9 172.0h0M888.0 171.4h0M888.4 172.0h0M888.4 167.6h0M888.5 173.3h0M888.8 177.3h0M889.0 176.7h0M889.0 176.0h0M889.0 172.7h0M889.1 174.0h0M889.3 176.0h0M889.3 175.3h0M889.4 172.0h0M889.7 174.6h0M889.7 173.3h0M889.9 176.0h0M890.5 181.5h0M890.5 178.7h0M890.5 178.0h0M890.5 176.7h0M890.5 174.0h0M890.5 172.7h0M890.6 176.0h0M890.8 176.7h0M890.9 180.1h0M890.9 174.6h0M890.9 174.0h0M891.0 180.8h0M891.2 177.3h0M891.4 180.8h0M891.5 181.5h0M891.5 180.1h0M891.6 178.7h0M891.6 175.3h0M891.7 182.2h0M891.7 179.4h0M891.8 180.1h0M891.8 178.7h0M891.8 176.7h0M892.0 182.2h0M892.3 176.0h0M892.4 176.7h0M892.8 185.2h0M892.8 183.0h0M893.0 182.2h0M893.2 180.8h0M893.3 185.2h0M893.3 184.4h0M893.5 180.1h0M893.7 183.0h0M894.1 186.7h0M894.1 178.7h0M894.2 185.2h0M894.3 184.4h0M894.5 183.7h0M894.5 179.4h0M894.7 183.0h0M894.7 181.5h0M895.1 189.7h0M895.1 186.7h0M895.2 184.4h0M895.3 183.0h0M895.4 184.4h0M895.5 186.7h0M895.6 188.2h0M895.6 187.4h0M895.6 180.8h0M896.1 188.2h0M896.1 185.2h0M896.2 186.7h0M896.3 188.2h0M896.5 190.5h0M896.8 188.2h0M896.8 185.9h0M896.9 185.2h0M897.0 189.0h0M897.3 190.5h0M897.3 189.7h0M897.4 185.9h0M897.5 188.2h0M897.7 192.9h0M897.9 190.5h0M898.0 189.7h0M898.0 188.2h0M898.1 193.7h0M898.1 191.3h0M898.4 195.4h0M898.7 191.3h0M898.7 189.7h0M898.8 193.7h0M898.8 190.5h0M898.9 194.5h0M899.2 195.4h0M899.2 192.9h0M899.3 191.3h0M899.3 190.5h0M899.3 189.7h0M899.8 194.5h0M899.8 191.3h0M899.8 189.7h0M900.1 192.9h0M900.1 192.1h0M900.2 193.7h0M900.4 196.2h0M900.5 197.0h0M900.5 194.5h0M900.5 189.0h0M900.7 197.9h0M900.8 196.2h0M900.9 195.4h0M901.3 195.4h0M901.5 193.7h0M901.6 194.5h0M901.7 201.4h0M901.7 198.7h0M901.7 197.9h0M901.8 197.0h0M901.9 197.9h0M902.2 198.7h0M902.3 199.6h0M902.4 202.3h0M902.4 193.7h0M902.7 197.9h0M903.1 199.6h0M903.2 197.0h0M903.3 201.4h0M903.3 199.6h0M903.4 204.1h0M903.4 198.7h0M903.4 194.5h0M903.5 203.2h0M903.7 200.5h0M903.8 203.2h0M904.0 199.6h0M904.1 200.5h0M904.3 202.3h0M904.3 201.4h0M904.3 200.5h0M904.4 204.1h0M904.4 197.9h0M904.5 198.7h0M904.7 203.2h0M904.9 199.6h0M905.1 200.5h0M905.1 196.2h0M905.3 207.8h0M905.5 203.2h0M905.6 204.1h0M905.9 205.9h0M905.9 205.0h0M905.9 199.6h0M906.0 200.5h0M906.2 204.1h0M906.2 202.3h0M906.3 208.8h0M906.4 205.0h0M906.4 203.2h0M906.5 204.1h0M906.7 207.8h0M906.8 203.2h0M907.0 207.8h0M907.0 202.3h0M907.2 205.0h0M907.3 206.9h0M907.6 205.9h0M907.7 207.8h0M907.8 212.7h0M907.9 210.7h0M907.9 203.2h0M908.0 206.9h0M908.1 211.7h0M908.1 208.8h0M908.2 207.8h0M908.4 212.7h0M908.5 208.8h0M908.6 207.8h0M908.6 205.0h0M908.8 209.7h0M908.9 211.7h0M908.9 210.7h0M909.0 206.9h0M909.5 212.7h0M909.6 211.7h0M909.6 209.7h0M909.7 207.8h0M909.8 206.9h0M910.0 211.7h0M910.0 210.7h0M910.0 208.8h0M910.3 216.8h0M910.3 213.7h0M910.4 209.7h0M910.6 211.7h0M910.6 210.7h0M910.8 211.7h0M911.1 210.7h0M911.2 214.7h0M911.2 205.9h0M911.4 217.8h0M911.5 210.7h0M911.6 212.7h0M911.7 213.7h0M912.1 213.7h0M912.1 212.7h0M912.4 217.8h0M912.7 214.7h0M912.7 213.7h0M912.7 212.7h0M913.1 212.7h0M913.2 211.7h0M913.3 215.7h0M913.6 214.7h0M913.6 213.7h0M913.6 211.7h0M913.8 218.9h0M913.8 217.8h0M914.1 220.0h0M914.2 215.7h0M914.5 215.7h0M914.8 216.8h0M914.9 218.9h0M915.0 221.1h0M915.3 222.2h0M915.3 218.9h0M915.3 217.8h0M915.4 216.8h0M915.6 220.0h0M915.9 223.3h0M915.9 220.0h0M916.0 222.2h0M916.0 217.8h0M916.1 218.9h0M916.2 226.8h0M916.2 213.7h0M916.3 225.6h0M916.3 222.2h0M916.3 221.1h0M916.5 220.0h0M916.7 223.3h0M916.7 218.9h0M916.8 221.1h0M916.9 220.0h0M916.9 217.8h0M917.0 218.9h0M917.6 226.8h0M917.6 220.0h0M917.6 218.9h0M917.8 223.3h0M918.0 225.6h0M918.1 230.4h0M918.3 223.3h0M918.3 216.8h0M918.4 224.5h0M918.4 221.1h0M918.5 227.9h0M918.5 220.0h0M918.6 225.6h0M918.7 222.2h0M918.8 227.9h0M918.8 216.8h0M918.9 226.8h0M919.0 221.1h0M919.2 229.1h0M919.2 218.9h0M919.4 218.9h0M919.5 230.4h0M919.5 223.3h0M919.6 216.8h0M919.8 222.2h0M919.9 227.9h0M920.1 224.5h0M920.4 231.6h0M920.4 223.3h0M920.7 230.4h0M920.7 221.1h0M920.8 229.1h0M921.0 224.5h0M921.1 223.3h0M921.2 230.4h0M921.3 236.7h0M921.6 232.8h0M921.6 230.4h0M921.6 229.1h0M921.6 225.6h0M921.7 235.4h0M921.7 226.8h0M921.9 231.6h0M922.0 235.4h0M922.0 227.9h0M922.0 218.9h0M922.1 230.4h0M922.2 226.8h0M922.3 234.1h0M922.4 226.8h0M922.8 235.4h0M922.8 232.8h0M922.8 226.8h0M922.8 224.5h0M922.9 230.4h0M923.0 234.1h0M923.1 227.9h0M923.2 231.6h0M923.3 227.9h0M923.3 226.8h0M923.7 239.3h0M924.1 232.8h0M924.2 238.0h0M924.2 234.1h0M924.9 234.1h0M925.2 235.4h0M925.3 239.3h0M925.5 234.1h0M925.5 231.6h0M925.5 230.4h0M925.6 236.7h0M926.0 232.8h0M926.8 238.0h0M927.2 236.7h0M927.9 239.3h0M928.7 246.3h0M928.7 234.1h0M929.4 244.8h0M929.4 242.0h0M929.8 243.4h0M930.9 247.7h0M930.9 236.7h0M931.7 252.3h0M933.2 246.3h0M933.5 252.3h0M934.3 244.8h0M934.3 243.4h0M934.7 255.4h0M935.4 252.3h0M935.4 250.7h0M935.8 249.2h0M937.3 263.8h0M938.0 252.3h0M938.0 250.7h0M938.0 247.7h0M938.8 258.7h0M938.8 250.7h0M939.2 262.1h0M939.5 255.4h0M940.3 263.8h0M940.7 258.7h0M941.0 269.2h0M941.0 263.8h0M941.4 262.1h0M941.4 258.7h0M942.5 262.1h0M942.5 260.4h0M942.5 255.4h0M943.3 258.7h0M943.3 253.8h0M944.0 265.6h0M944.0 260.4h0M945.5 269.2h0M945.5 263.8h0M945.5 262.1h0M946.3 262.1h0M946.3 260.4h0M946.7 279.1h0M948.5 279.1h0M948.5 265.6h0M948.9 275.0h0M951.5 275.0h0M951.5 267.4h0M951.9 283.3h0M951.9 271.1h0M951.9 263.8h0M952.3 279.1h0M952.7 260.4h0M953.0 283.3h0M953.0 273.0h0M953.4 292.5h0M953.4 285.5h0M953.8 265.6h0M954.2 294.9h0M954.5 290.1h0M954.5 285.5h0M954.9 265.6h0M955.3 287.8h0M955.7 277.0h0M956.0 297.4h0M956.0 285.5h0M956.4 271.1h0M956.8 285.5h0M957.2 281.2h0M957.2 275.0h0M957.9 258.7h0M959.0 300.0h0M959.0 290.1h0M959.4 285.5h0M959.4 283.3h0M959.8 294.9h0M959.8 287.8h0M960.2 314.1h0M960.2 302.6h0M960.2 273.0h0M961.3 302.6h0M961.3 300.0h0M961.3 285.5h0M962.4 302.6h0M962.4 279.1h0M962.8 311.1h0M962.8 292.5h0M963.2 290.1h0M963.6 305.3h0M963.6 287.8h0M963.9 292.5h0M964.3 305.3h0M964.3 300.0h0M965.1 297.4h0M965.1 292.5h0M965.1 283.3h0M965.4 302.6h0M966.2 314.1h0M966.2 297.4h0M967.3 294.9h0M968.1 300.0h0M968.4 305.3h0M968.4 294.9h0M968.8 308.2h0M969.2 330.7h0M969.2 294.9h0M969.9 300.0h0M970.7 308.2h0M970.7 292.5h0M971.1 323.7h0M971.4 334.4h0M971.4 314.1h0M971.4 308.2h0M971.8 323.7h0M971.8 300.0h0M971.8 297.4h0M971.8 290.1h0M972.6 308.2h0M972.9 297.4h0M973.7 342.4h0M973.7 320.4h0M973.7 317.2h0M973.7 311.1h0M973.7 285.5h0M974.4 308.2h0M974.8 330.7h0M975.6 323.7h0M975.9 305.3h0M975.9 294.9h0M976.3 314.1h0M976.7 305.3h0M977.1 334.4h0M977.8 317.2h0M977.8 305.3h0M978.2 355.8h0M978.2 334.4h0M978.2 300.0h0M978.6 342.4h0M978.6 338.3h0M978.6 290.1h0M978.9 327.1h0M978.9 308.2h0M979.7 327.1h0M979.7 302.6h0M980.4 327.1h0M980.8 302.6h0M981.6 308.2h0M981.9 311.1h0M981.9 292.5h0M982.3 338.3h0M982.3 323.7h0M982.7 302.6h0M983.1 314.1h0M983.4 317.2h0M983.8 342.4h0M984.2 334.4h0M984.2 327.1h0M984.6 330.7h0M984.6 317.2h0M984.6 311.1h0M984.9 342.4h0M985.3 346.6h0M985.3 338.3h0M985.3 314.1h0M985.7 360.7h0M986.1 334.4h0M986.8 342.4h0M987.2 355.8h0M987.6 338.3h0M987.9 342.4h0M988.3 334.4h0M989.1 355.8h0M990.2 334.4h0M990.2 317.2h0M990.6 414.4h0M991.7 334.4h0M991.7 323.7h0M992.1 346.6h0M992.1 342.4h0M992.1 327.1h0M992.4 351.1h0M992.4 334.4h0M992.8 338.3h0M992.8 327.1h0M992.8 323.7h0M993.2 334.4h0M993.9 355.8h0M993.9 351.1h0M993.9 323.7h0M994.7 351.1h0M995.1 323.7h0M996.6 327.1h0M996.9 355.8h0M996.9 351.1h0M997.3 371.5h0M997.3 334.4h0M997.7 377.4h0M998.4 334.4h0M998.8 355.8h0M999.6 351.1h0M999.6 314.1h0M999.9 346.6h0M999.9 342.4h0M1000.3 338.3h0M1000.7 346.6h0M1001.5 390.4h0M1001.8 405.7h0M1001.8 397.8h0M1003.0 397.8h0M1003.0 360.7h0M1003.3 371.5h0M1003.3 351.1h0M1003.7 365.9h0M1003.7 355.8h0M1004.1 360.7h0M1004.1 351.1h0M1004.1 314.1h0M1004.5 355.8h0M1005.6 360.7h0M1005.6 351.1h0M1006.0 365.9h0M1006.0 330.7h0M1006.7 383.7h0M1006.7 346.6h0M1007.1 390.4h0M1007.1 371.5h0M1007.1 360.7h0M1007.1 355.8h0M1007.1 338.3h0M1007.5 365.9h0M1007.8 390.4h0M1007.8 377.4h0M1007.8 351.1h0M1008.2 414.4h0M1008.2 371.5h0M1008.6 390.4h0M1008.6 334.4h0M1009.3 424.0h0M1009.3 405.7h0M1009.3 371.5h0M1009.7 360.7h0M1010.1 365.9h0M1010.5 342.4h0M1010.8 424.0h0M1010.8 330.7h0M1011.2 447.0h0M1011.2 397.8h0M1011.2 371.5h0M1012.0 414.4h0M1012.3 390.4h0M1012.3 377.4h0M1012.7 405.7h0M1012.7 383.7h0M1012.7 346.6h0M1013.1 377.4h0M1013.1 351.1h0M1013.5 447.0h0M1013.5 397.8h0M1013.5 383.7h0M1014.2 390.4h0M1014.6 365.9h0M1015.0 397.8h0M1015.3 390.4h0M1015.3 365.9h0M1015.7 383.7h0M1015.7 377.4h0M1015.7 371.5h0M1015.7 330.7h0M1016.5 377.4h0M1016.8 397.8h0M1016.8 390.4h0M1017.6 397.8h0M1017.6 377.4h0M1018.0 383.7h0M1018.3 424.0h0M1018.3 390.4h0M1018.3 360.7h0M1018.7 434.8h0M1018.7 397.8h0M1018.7 371.5h0M1019.1 424.0h0M1019.1 414.4h0M1019.1 405.7h0M1019.5 377.4h0M1019.5 360.7h0M1020.2 390.4h0M1020.6 365.9h0M1020.6 360.7h0M1021.0 377.4h0M1021.0 355.8h0M1021.3 365.9h0M1021.7 390.4h0M1022.1 414.4h0M1022.1 383.7h0M1022.1 371.5h0M1022.5 390.4h0M1022.8 365.9h0M1023.2 405.7h0M1023.2 346.6h0M1023.6 360.7h0M1024.0 390.4h0M1024.3 414.4h0M1024.3 377.4h0M1024.3 346.6h0M1024.7 447.0h0M1025.1 434.8h0M1025.1 397.8h0M1025.1 390.4h0M1025.1 355.8h0M1025.5 405.7h0M1025.5 383.7h0M1025.8 447.0h0M1025.8 377.4h0M1026.2 390.4h0M1026.2 383.7h0M1026.6 447.0h0M1027.0 434.8h0M1027.0 377.4h0M1027.7 424.0h0M1027.7 397.8h0M1027.7 383.7h0M1028.1 434.8h0M1028.1 390.4h0M1028.5 414.4h0M1028.5 405.7h0M1028.8 447.0h0M1028.8 424.0h0M1028.8 360.7h0M1029.2 390.4h0M1029.6 405.7h0M1030.0 447.0h0M1030.0 397.8h0M1030.0 365.9h0M1030.3 424.0h0M1030.3 414.4h0M1030.3 405.7h0M1030.3 346.6h0M1031.1 405.7h0M1031.1 397.8h0M1031.5 424.0h0M1031.8 414.4h0M1031.8 390.4h0M1032.2 424.0h0M1032.2 397.8h0M1032.6 434.8h0M1032.6 377.4h0M1033.0 424.0h0M1033.0 405.7h0M1033.0 390.4h0M1033.3 434.8h0M1033.7 334.4h0M1034.1 383.7h0M1034.5 397.8h0M1034.8 447.0h0M1035.2 346.6h0M1035.6 447.0h0M1035.6 414.4h0M1035.6 397.8h0M1035.6 365.9h0M1036.3 424.0h0M1036.3 414.4h0M1036.3 405.7h0M1036.7 383.7h0M1036.7 371.5h0M1037.1 434.8h0M1037.1 390.4h0M1037.5 405.7h0M1037.8 447.0h0M1037.8 390.4h0M1038.2 397.8h0M1038.6 405.7h0M1038.6 371.5h0M1039.0 434.8h0M1039.0 377.4h0M1039.4 383.7h0M1039.7 447.0h0M1039.7 424.0h0M1039.7 414.4h0M1039.7 390.4h0M1039.7 371.5h0M1040.1 397.8h0M1040.5 405.7h0M1040.9 447.0h0M1041.6 414.4h0M1042.4 414.4h0M1042.4 365.9h0M1042.4 355.8h0M1042.7 383.7h0M1043.1 405.7h0M1043.5 414.4h0M1043.9 424.0h0M1043.9 346.6h0M1044.6 390.4h0M1045.0 434.8h0M1045.0 405.7h0M1045.0 383.7h0M1045.4 447.0h0M1046.1 424.0h0M1046.1 383.7h0M1046.9 447.0h0M1047.2 405.7h0M1048.0 424.0h0M1048.4 447.0h0M1048.4 414.4h0M1048.7 424.0h0M1048.7 405.7h0M1049.1 414.4h0M1049.9 434.8h0M1050.2 414.4h0M1050.2 390.4h0M1050.6 434.8h0M1050.6 377.4h0M1051.0 447.0h0M1051.0 424.0h0M1051.7 405.7h0M1051.7 390.4h0M1052.5 434.8h0M1053.2 397.8h0M1053.6 434.8h0M1054.0 414.4h0M1054.0 405.7h0M1054.0 390.4h0M1054.4 434.8h0M1055.1 424.0h0M1055.9 414.4h0M1057.0 424.0h0M1057.4 434.8h0M1057.4 414.4h0M1057.7 447.0h0M1058.1 434.8h0M1058.1 405.7h0M1058.1 397.8h0M1058.1 383.7h0M1058.5 424.0h0M1058.5 414.4h0M1059.6 397.8h0M1060.0 447.0h0M1060.4 434.8h0M1061.1 414.4h0M1061.1 397.8h0M1061.5 447.0h0M1061.5 405.7h0M1061.9 424.0h0M1061.9 414.4h0M1063.0 447.0h0M1063.4 424.0h0M1063.7 434.8h0M1063.7 390.4h0M1064.1 447.0h0M1064.9 424.0h0M1065.2 447.0h0M1066.7 434.8h0M1067.1 414.4h0M1067.5 447.0h0M1067.5 434.8h0M1067.5 390.4h0M1067.9 424.0h0M1068.2 447.0h0M1069.7 424.0h0M1071.2 447.0h0M1071.2 434.8h0M1073.1 447.0h0M1073.1 424.0h0M1073.5 414.4h0M1074.2 424.0h0M1075.0 434.8h0M1075.4 414.4h0M1075.8 397.8h0M1076.1 424.0h0M1080.3 434.8h0M1081.8 414.4h0M1084.0 447.0h0M1084.0 434.8h0M1084.8 434.8h0M1085.5 414.4h0M1085.9 434.8h0M1087.4 447.0h0M1088.5 434.8h0M1091.9 414.4h0M1093.8 447.0h0M1096.4 447.0h0M1101.6 447.0h0M1101.6 424.0h0M1105.8 424.0h0M1109.5 447.0h0M1109.9 434.8h0M1114.0 434.8h0M1114.8 424.0h0M1118.9 447.0h0M1120.8 447.0h0M1121.2 405.7h0M1121.5 447.0h0M1124.2 397.8h0M1125.3 434.8h0M1126.0 434.8h0M1128.3 447.0h0M1129.4 424.0h0M1129.8 447.0h0M1130.9 447.0h0M1131.7 405.7h0M1132.4 447.0h0M1133.5 447.0h0M1137.3 447.0h0M1141.0 447.0h0M1145.9 447.0h0M1147.0 447.0h0M1147.8 447.0h0M1149.7 447.0h0M1150.0 434.8h0M1152.7 447.0h0M1154.2 447.0h0M1157.9 434.8h0M1160.9 434.8h0M1169.2 447.0h0M1172.6 434.8h0M1182.7 424.0h0M1183.4 447.0h0M1183.4 434.8h0M1184.2 414.4h0M1186.1 447.0h0M1188.7 434.8h0M1192.1 447.0h0M1192.8 434.8h0M1193.6 447.0h0M1195.1 447.0h0M1200.0 447.0h0M1203.0 434.8h0M1204.1 447.0h0M1205.2 447.0h0M1210.1 447.0h0M1211.2 447.0h0M1212.0 424.0h0M1228.5 434.8h0M1232.2 447.0h0M1233.4 424.0h0M1236.0 434.8h0M1236.7 424.0h0M1246.9 434.8h0M1251.0 434.8h0M1252.5 447.0h0M1254.0 414.4h0M1258.5 447.0h0M1258.5 434.8h0M1259.2 447.0h0M1260.4 447.0h0M1263.0 447.0h0M1264.1 434.8h0M1267.9 447.0h0M1269.0 447.0h0M1270.5 447.0h0M1270.5 424.0h0M1272.0 447.0h0M1273.5 414.4h0M1276.9 447.0h0M1277.6 434.8h0M1279.1 434.8h0M1281.0 424.0h0M1285.5 447.0h0M1286.3 424.0h0M1290.4 447.0h0M1299.0 434.8h0" stroke="#f0180c" stroke-width="4.4" stroke-linecap="round" fill="none"/>
<rect x="850.8" y="43.8" width="451.10000000000014" height="410.8" fill="none" stroke="#000" stroke-width="4.4"/>
<line x1="850.60" y1="454.60" x2="850.60" y2="464.10" stroke="#000" stroke-width="3.74" stroke-linecap="round"/>
<line x1="1000.70" y1="454.60" x2="1000.70" y2="464.10" stroke="#000" stroke-width="3.74" stroke-linecap="round"/>
<line x1="1150.80" y1="454.60" x2="1150.80" y2="464.10" stroke="#000" stroke-width="3.74" stroke-linecap="round"/>
<line x1="1300.90" y1="454.60" x2="1300.90" y2="464.10" stroke="#000" stroke-width="3.74" stroke-linecap="round"/>
<line x1="925.65" y1="454.60" x2="925.65" y2="459.60" stroke="#000" stroke-width="3.74" stroke-linecap="round"/>
<line x1="1075.75" y1="454.60" x2="1075.75" y2="459.60" stroke="#000" stroke-width="3.74" stroke-linecap="round"/>
<line x1="1225.85" y1="454.60" x2="1225.85" y2="459.60" stroke="#000" stroke-width="3.74" stroke-linecap="round"/>
<line x1="841.30" y1="43.80" x2="850.80" y2="43.80" stroke="#000" stroke-width="3.74" stroke-linecap="round"/>
<line x1="841.30" y1="135.15" x2="850.80" y2="135.15" stroke="#000" stroke-width="3.74" stroke-linecap="round"/>
<line x1="841.30" y1="226.50" x2="850.80" y2="226.50" stroke="#000" stroke-width="3.74" stroke-linecap="round"/>
<line x1="841.30" y1="317.85" x2="850.80" y2="317.85" stroke="#000" stroke-width="3.74" stroke-linecap="round"/>
<line x1="841.30" y1="409.20" x2="850.80" y2="409.20" stroke="#000" stroke-width="3.74" stroke-linecap="round"/>
<line x1="845.80" y1="89.47" x2="850.80" y2="89.47" stroke="#000" stroke-width="3.74" stroke-linecap="round"/>
<line x1="845.80" y1="180.82" x2="850.80" y2="180.82" stroke="#000" stroke-width="3.74" stroke-linecap="round"/>
<line x1="845.80" y1="272.18" x2="850.80" y2="272.18" stroke="#000" stroke-width="3.74" stroke-linecap="round"/>
<line x1="845.80" y1="363.52" x2="850.80" y2="363.52" stroke="#000" stroke-width="3.74" stroke-linecap="round"/>
<text transform="translate(819.33,53.17) scale(1.0179,1)" font-family='"Liberation Sans", Arial, sans-serif' font-size="33.67" font-weight="700" fill="#000">0</text>
<text transform="translate(808.16,147.45) scale(0.9470,1)" font-family='"Liberation Sans", Arial, sans-serif' font-size="34.99" font-weight="700" fill="#000">-1</text>
<text transform="translate(808.16,238.80) scale(0.9470,1)" font-family='"Liberation Sans", Arial, sans-serif' font-size="34.99" font-weight="700" fill="#000">-2</text>
<text transform="translate(808.16,329.62) scale(0.9681,1)" font-family='"Liberation Sans", Arial, sans-serif' font-size="34.23" font-weight="700" fill="#000">-3</text>
<text transform="translate(808.20,421.50) scale(0.9128,1)" font-family='"Liberation Sans", Arial, sans-serif' font-size="34.99" font-weight="700" fill="#000">-4</text>
<text transform="translate(841.00,493.47) scale(1.0381,1)" font-family='"Liberation Sans", Arial, sans-serif' font-size="33.81" font-weight="700" fill="#000">0</text>
<text transform="translate(982.20,493.47) scale(1.0211,1)" font-family='"Liberation Sans", Arial, sans-serif' font-size="33.81" font-weight="700" fill="#000">40</text>
<text transform="translate(1131.19,493.47) scale(1.0518,1)" font-family='"Liberation Sans", Arial, sans-serif' font-size="33.81" font-weight="700" fill="#000">80</text>
<text transform="translate(1271.47,493.47) scale(1.0298,1)" font-family='"Liberation Sans", Arial, sans-serif' font-size="33.81" font-weight="700" fill="#000">120</text>
<text transform="translate(979.00,528.43) scale(1.0919,1)" font-family='"Liberation Sans", Arial, sans-serif' font-size="34.35" font-weight="700" fill="#000">Time / min</text>
<line x1="1172.60" y1="518.00" x2="1252.00" y2="518.00" stroke="#000" stroke-width="2.2"/><path d="M1246.0,512.5 L1255.0,518.0 L1246.0,523.5" fill="none" stroke="#000" stroke-width="2.2"/>
<text transform="translate(986.83,95.41) scale(1.2202,1)" font-family='"Liberation Sans", Arial, sans-serif' font-size="37.98" font-style="italic" fill="#000">On resonance</text>
<text transform="translate(1169.08,234.97) scale(1.0548,1)" font-family='"Liberation Sans", Arial, sans-serif' font-size="36.72" fill="#000">Cavity</text>
<text transform="translate(885.82,377.20) scale(1.0224,1)" font-family='"Liberation Sans", Arial, sans-serif' font-size="38.54" fill="#000">Non-</text>
<text transform="translate(886.49,424.24) scale(1.0213,1)" font-family='"Liberation Sans", Arial, sans-serif' font-size="37.77" fill="#000">cavity</text>
<g transform="translate(790.20,422.50) rotate(-90)" font-family='"Liberation Sans", Arial, sans-serif' font-weight="700" font-size="38.0"><text x="0" y="0">ln(1- [MC]</text><text x="177.9" y="15" font-size="22">t</text><text x="183.2" y="0">·[MC]</text><text transform="translate(283.6,15.82) scale(1,1.5)" font-size="23.6">∞</text><text x="282.2" y="-21.6" font-size="18.5">-1</text><text x="304.3" y="0">)</text></g>
<line x1="786.70" y1="100.70" x2="786.70" y2="48.00" stroke="#000" stroke-width="2.0"/>
<path d="M781.2,55.0 L786.7,46.0 L792.2,55.0" fill="none" stroke="#000" stroke-width="2"/>
<text transform="translate(1349.83,32.40) scale(0.9373,1)" font-family='"Liberation Sans", Arial, sans-serif' font-size="44.80" fill="#000">C</text>
<path d="M1475.2 44.9h0M1475.4 46.5h0M1475.6 45.7h0M1475.6 44.1h0M1476.1 46.5h0M1476.4 47.3h0M1476.4 46.5h0M1476.8 51.5h0M1476.8 48.1h0M1476.9 49.0h0M1477.1 50.7h0M1477.3 51.5h0M1477.3 49.8h0M1477.6 52.4h0M1477.6 50.7h0M1478.1 55.1h0M1478.4 55.1h0M1478.6 56.9h0M1478.6 53.3h0M1479.0 59.7h0M1479.0 57.8h0M1479.0 53.3h0M1479.1 58.8h0M1479.1 56.9h0M1479.3 55.1h0M1479.5 57.8h0M1479.6 58.8h0M1480.0 59.7h0M1480.0 57.8h0M1480.1 60.7h0M1480.3 62.6h0M1480.3 59.7h0M1480.6 61.6h0M1480.8 62.6h0M1480.8 60.7h0M1481.0 63.6h0M1481.2 61.6h0M1481.3 64.6h0M1481.5 62.6h0M1481.7 63.6h0M1482.2 65.6h0M1482.3 66.6h0M1482.7 67.6h0M1482.8 68.7h0M1483.0 66.6h0M1483.4 69.7h0M1483.5 68.7h0M1483.9 71.8h0M1483.9 68.7h0M1484.4 72.9h0M1484.4 70.8h0M1484.4 69.7h0M1484.7 71.8h0M1484.9 72.9h0M1485.0 71.8h0M1485.0 70.8h0M1485.2 74.0h0M1485.4 72.9h0M1485.5 75.2h0M1485.9 72.9h0M1486.2 75.2h0M1486.2 71.8h0M1486.4 77.4h0M1486.4 72.9h0M1486.6 76.3h0M1486.6 75.2h0M1486.9 78.6h0M1487.1 77.4h0M1487.1 75.2h0M1487.4 77.4h0M1487.7 78.6h0M1487.9 77.4h0M1488.1 78.6h0M1488.4 80.9h0M1488.4 78.6h0M1488.8 80.9h0M1489.3 82.2h0M1489.4 80.9h0M1489.6 79.8h0M1489.8 80.9h0M1489.9 82.2h0M1490.3 85.9h0M1490.3 84.6h0M1490.4 83.4h0M1490.4 82.2h0M1491.0 85.9h0M1491.0 84.6h0M1491.5 85.9h0M1491.5 83.4h0M1491.5 82.2h0M1491.6 87.1h0M1492.1 88.4h0M1492.3 88.4h0M1492.8 88.4h0M1493.3 88.4h0M1493.8 88.4h0M1493.8 84.6h0M1494.3 88.4h0M1494.3 84.6h0M1494.8 88.4h0M1494.8 84.6h0M1495.4 84.6h0M1495.5 95.2h0M1495.9 95.2h0M1495.9 84.6h0M1496.0 92.4h0M1496.4 95.2h0M1496.4 92.4h0M1496.4 84.6h0M1496.9 84.6h0M1499.1 77.4h0M1499.4 77.4h0M1499.6 84.6h0M1499.9 84.6h0M1499.9 77.4h0M1500.3 84.6h0M1500.3 77.4h0M1500.8 84.6h0M1500.8 77.4h0M1501.3 95.2h0M1501.3 84.6h0M1501.8 95.2h0M1501.8 84.6h0M1502.3 84.6h0M1502.8 84.6h0M1503.3 84.6h0M1503.8 84.6h0M1504.0 99.4h0M1504.3 99.4h0M1504.3 84.6h0M1504.5 108.7h0M1504.8 84.6h0M1505.3 84.6h0M1506.3 107.1h0M1508.0 107.1h0M1508.4 107.1h0M1508.9 107.1h0M1509.4 107.1h0M1509.4 100.9h0M1509.9 107.1h0M1510.4 107.1h0M1510.9 107.1h0M1511.4 107.1h0M1511.9 107.1h0M1512.3 107.1h0M1512.8 107.1h0M1513.1 117.2h0M1513.3 117.2h0M1513.3 107.1h0M1514.8 115.4h0M1515.1 113.7h0M1515.3 115.4h0M1515.3 113.7h0M1515.8 113.7h0M1516.3 113.7h0M1516.8 113.7h0M1517.3 113.7h0M1517.8 113.7h0M1518.0 115.4h0M1518.3 115.4h0M1518.3 113.7h0M1518.7 130.6h0M1518.8 130.6h0M1518.8 115.4h0M1518.8 107.1h0M1519.4 130.6h0M1519.4 115.4h0M1519.4 107.1h0M1519.9 130.6h0M1519.9 115.4h0M1520.0 126.5h0M1520.4 130.6h0M1520.4 126.5h0M1520.4 119.0h0M1520.7 112.0h0M1520.9 126.5h0M1520.9 119.0h0M1520.9 112.0h0M1521.0 113.7h0M1521.4 128.5h0M1521.4 126.5h0M1521.4 113.7h0M1521.4 112.0h0M1521.5 120.8h0M1521.9 128.5h0M1521.9 126.5h0M1521.9 120.8h0M1521.9 113.7h0M1521.9 112.0h0M1522.4 120.8h0M1522.4 113.7h0M1522.4 112.0h0M1522.9 120.8h0M1522.9 113.7h0M1523.4 126.5h0M1523.4 120.8h0M1523.4 113.7h0M1523.9 120.8h0M1524.3 120.8h0M1524.8 120.8h0M1525.3 120.8h0M1525.6 132.6h0M1525.8 132.6h0M1525.8 120.8h0M1526.3 132.6h0M1526.3 120.8h0M1526.8 132.6h0M1526.8 120.8h0M1529.2 143.8h0M1529.3 143.8h0M1530.2 130.6h0M1530.3 130.6h0M1530.8 130.6h0M1531.4 130.6h0M1531.9 130.6h0M1532.4 130.6h0M1532.5 136.9h0M1532.9 136.9h0M1532.9 134.8h0M1532.9 130.6h0M1533.4 136.9h0M1533.4 134.8h0M1533.4 130.6h0M1533.9 134.8h0M1534.4 134.8h0M1534.9 134.8h0M1536.3 128.5h0M1536.6 132.6h0M1536.8 132.6h0M1536.9 130.6h0M1537.3 132.6h0M1537.8 132.6h0M1538.3 132.6h0M1538.8 132.6h0M1539.0 122.7h0M1539.3 146.2h0M1539.3 132.6h0M1539.3 122.7h0M1539.8 132.6h0M1541.3 143.8h0M1541.8 143.8h0M1542.0 146.2h0M1542.3 146.2h0M1542.3 143.8h0M1542.5 136.9h0M1542.8 146.2h0M1542.8 143.8h0M1542.8 136.9h0M1543.4 146.2h0M1543.4 136.9h0M1543.9 146.2h0M1543.9 136.9h0M1544.4 146.2h0M1544.9 146.2h0M1545.4 146.2h0M1545.9 153.9h0M1545.9 146.2h0M1546.4 146.2h0M1548.3 143.8h0M1548.8 143.8h0M1549.1 162.2h0M1549.3 162.2h0M1549.3 143.8h0M1549.4 151.3h0M1549.8 162.2h0M1549.8 143.8h0M1550.3 162.2h0M1550.8 162.2h0M1550.8 143.8h0M1551.3 162.2h0M1551.3 143.8h0M1551.8 162.2h0M1551.8 143.8h0M1552.3 162.2h0M1552.8 162.2h0M1553.5 156.6h0M1553.8 156.6h0M1554.3 156.6h0M1554.8 156.6h0M1555.4 156.6h0M1568.4 146.2h0M1569.0 146.2h0M1569.6 146.2h0M1570.7 168.2h0M1571.2 168.2h0M1571.8 168.2h0M1572.4 168.2h0M1577.4 189.1h0M1578.0 189.1h0M1580.8 181.6h0M1580.8 165.2h0M1581.4 181.6h0M1581.4 165.2h0M1581.9 185.3h0M1581.9 181.6h0M1581.9 165.2h0M1582.5 185.3h0M1582.5 159.4h0M1583.1 185.3h0M1583.1 159.4h0M1583.6 159.4h0M1584.2 159.4h0M1584.8 165.2h0M1584.8 159.4h0M1585.3 159.4h0M1585.9 159.4h0M1586.5 159.4h0M1587.0 159.4h0M1587.6 159.4h0M1588.1 159.4h0M1598.3 181.6h0M1598.8 201.7h0M1598.8 181.6h0M1599.4 201.7h0M1599.4 181.6h0M1600.0 201.7h0M1600.0 185.3h0M1600.0 181.6h0M1600.5 189.1h0M1601.1 189.1h0M1601.7 189.1h0M1602.2 189.1h0M1602.8 189.1h0M1603.4 189.1h0M1603.9 197.3h0M1603.9 189.1h0M1604.5 197.3h0M1604.5 189.1h0M1605.0 206.3h0M1605.0 197.3h0M1605.0 189.1h0M1605.6 206.3h0M1605.6 197.3h0M1605.6 189.1h0M1606.2 206.3h0M1606.2 197.3h0M1606.2 189.1h0M1606.7 206.3h0M1606.7 197.3h0M1606.7 189.1h0M1607.3 206.3h0M1607.3 197.3h0M1607.3 189.1h0M1607.3 185.3h0M1607.9 206.3h0M1607.9 189.1h0M1607.9 185.3h0M1608.4 206.3h0M1608.4 189.1h0M1608.4 185.3h0M1609.0 206.3h0M1609.0 185.3h0M1609.6 206.3h0M1609.6 185.3h0M1610.1 206.3h0M1610.1 185.3h0M1610.7 206.3h0M1610.7 185.3h0M1611.2 206.3h0M1611.2 185.3h0M1611.8 185.3h0M1612.4 185.3h0M1612.9 185.3h0M1615.2 197.3h0M1615.8 197.3h0M1616.3 197.3h0M1616.9 197.3h0M1617.4 197.3h0M1618.0 197.3h0M1618.6 197.3h0M1619.1 197.3h0M1619.7 197.3h0M1620.3 197.3h0M1620.8 197.3h0M1621.4 197.3h0M1621.9 197.3h0M1622.5 197.3h0M1623.1 197.3h0M1623.6 197.3h0M1624.2 197.3h0M1624.8 197.3h0M1625.3 197.3h0M1625.9 197.3h0M1626.5 197.3h0M1630.4 216.2h0M1631.0 206.3h0M1631.5 206.3h0M1632.1 227.4h0M1632.1 206.3h0M1632.7 227.4h0M1632.7 206.3h0M1633.2 227.4h0M1633.2 206.3h0M1633.8 227.4h0M1633.8 216.2h0M1633.8 206.3h0M1634.3 227.4h0M1634.3 216.2h0M1634.3 206.3h0M1634.9 247.2h0M1634.9 227.4h0M1634.9 216.2h0M1635.5 247.2h0M1635.5 227.4h0M1635.5 216.2h0M1636.0 247.2h0M1636.0 227.4h0M1636.0 216.2h0M1636.0 206.3h0M1636.6 247.2h0M1636.6 227.4h0M1636.6 216.2h0M1636.6 206.3h0M1637.2 247.2h0M1637.2 227.4h0M1637.2 216.2h0M1637.2 206.3h0M1637.7 247.2h0M1637.7 227.4h0M1637.7 216.2h0M1637.7 206.3h0M1638.3 247.2h0M1638.3 227.4h0M1638.3 206.3h0M1638.8 247.2h0M1638.8 227.4h0M1639.4 247.2h0M1639.4 227.4h0M1640.0 247.2h0M1640.0 227.4h0M1640.5 247.2h0M1640.5 227.4h0M1641.1 247.2h0M1641.1 227.4h0M1641.1 221.6h0M1641.7 247.2h0M1641.7 227.4h0M1641.7 221.6h0M1642.2 247.2h0M1642.2 227.4h0M1642.2 221.6h0M1642.8 247.2h0M1642.8 227.4h0M1642.8 221.6h0M1642.8 211.1h0M1643.4 247.2h0M1643.4 227.4h0M1643.4 221.6h0M1643.4 211.1h0M1643.9 247.2h0M1643.9 227.4h0M1643.9 221.6h0M1643.9 211.1h0M1644.5 247.2h0M1644.5 227.4h0M1644.5 221.6h0M1644.5 211.1h0M1645.0 247.2h0M1645.0 227.4h0M1645.0 221.6h0M1645.0 211.1h0M1645.6 247.2h0M1645.6 227.4h0M1645.6 221.6h0M1645.6 211.1h0M1646.2 247.2h0M1646.2 227.4h0M1646.2 221.6h0M1646.2 211.1h0M1646.7 247.2h0M1646.7 227.4h0M1646.7 221.6h0M1646.7 211.1h0M1647.3 247.2h0M1647.3 227.4h0M1647.3 221.6h0M1647.9 247.2h0M1647.9 227.4h0M1647.9 221.6h0M1648.4 247.2h0M1648.4 227.4h0M1648.4 221.6h0M1649.0 247.2h0M1649.0 227.4h0M1649.0 221.6h0M1649.6 247.2h0M1649.6 227.4h0M1649.6 221.6h0M1650.1 247.2h0M1650.1 227.4h0M1650.1 221.6h0M1650.7 247.2h0M1650.7 227.4h0M1650.7 221.6h0M1651.2 247.2h0M1651.2 227.4h0M1651.2 221.6h0M1651.8 247.2h0M1651.8 227.4h0M1652.4 227.4h0M1652.9 227.4h0M1653.5 227.4h0M1654.1 227.4h0M1654.6 240.1h0M1654.6 227.4h0M1655.2 227.4h0M1655.8 227.4h0M1656.3 227.4h0M1656.9 227.4h0M1657.4 227.4h0M1658.0 227.4h0M1658.6 227.4h0M1659.1 227.4h0M1659.7 227.4h0M1660.3 240.1h0M1660.3 227.4h0M1660.8 240.1h0M1660.8 227.4h0M1661.4 240.1h0M1661.4 227.4h0M1661.9 240.1h0M1661.9 227.4h0M1662.5 240.1h0M1662.5 227.4h0M1663.1 240.1h0M1663.1 227.4h0M1663.6 240.1h0M1663.6 227.4h0M1664.2 240.1h0M1664.2 227.4h0M1664.8 240.1h0M1664.8 227.4h0M1665.3 240.1h0M1665.3 227.4h0M1665.3 221.6h0M1665.9 240.1h0M1665.9 227.4h0M1665.9 221.6h0M1666.5 227.4h0M1666.5 221.6h0M1667.0 233.5h0M1667.0 227.4h0M1667.0 221.6h0M1667.6 240.1h0M1667.6 233.5h0M1667.6 227.4h0M1667.6 221.6h0M1668.1 240.1h0M1668.1 233.5h0M1668.1 227.4h0M1668.1 221.6h0M1668.7 240.1h0M1668.7 233.5h0M1668.7 227.4h0M1668.7 221.6h0M1669.3 240.1h0M1669.3 233.5h0M1669.3 227.4h0M1669.3 221.6h0M1669.8 240.1h0M1669.8 227.4h0M1669.8 221.6h0M1670.4 240.1h0M1670.4 227.4h0M1670.4 221.6h0M1671.0 240.1h0M1671.0 227.4h0M1671.0 221.6h0M1671.5 240.1h0M1671.5 221.6h0M1672.1 221.6h0M1673.2 247.2h0M1673.8 247.2h0M1674.3 247.2h0M1676.0 247.2h0M1676.0 233.5h0M1676.6 247.2h0M1676.6 233.5h0M1677.2 247.2h0M1677.2 233.5h0M1677.7 247.2h0M1677.7 233.5h0M1678.3 247.2h0M1678.3 233.5h0M1678.9 247.2h0M1678.9 233.5h0M1679.4 247.2h0M1679.4 233.5h0M1680.0 247.2h0M1680.0 233.5h0M1680.5 247.2h0M1680.5 240.1h0M1680.5 233.5h0M1681.1 247.2h0M1681.1 240.1h0M1681.1 233.5h0M1681.7 247.2h0M1681.7 240.1h0M1681.7 233.5h0M1682.2 240.1h0M1682.2 233.5h0M1682.8 254.9h0M1682.8 240.1h0M1682.8 233.5h0M1683.4 254.9h0M1683.4 240.1h0M1683.4 233.5h0M1683.9 254.9h0M1683.9 240.1h0M1683.9 233.5h0M1684.5 254.9h0M1684.5 240.1h0M1684.5 233.5h0M1685.0 254.9h0M1685.0 240.1h0M1685.0 233.5h0M1685.6 254.9h0M1685.6 240.1h0M1685.6 233.5h0M1686.2 240.1h0M1686.2 233.5h0M1686.7 240.1h0M1686.7 233.5h0M1687.3 254.9h0M1687.3 240.1h0M1687.3 233.5h0M1687.9 254.9h0M1687.9 240.1h0M1687.9 233.5h0M1688.4 254.9h0M1688.4 240.1h0M1688.4 233.5h0M1689.0 254.9h0M1689.0 240.1h0M1689.6 254.9h0M1689.6 240.1h0M1690.1 254.9h0M1690.1 240.1h0M1690.7 272.6h0M1690.7 254.9h0M1690.7 240.1h0M1691.2 272.6h0M1691.2 254.9h0M1691.2 240.1h0M1691.8 272.6h0M1691.8 240.1h0M1692.4 272.6h0M1692.4 240.1h0M1692.9 272.6h0M1692.9 240.1h0M1693.5 272.6h0M1693.5 240.1h0M1694.1 272.6h0M1694.1 240.1h0M1694.6 272.6h0M1694.6 240.1h0M1695.2 272.6h0M1695.2 240.1h0M1695.8 272.6h0M1695.8 240.1h0M1696.3 272.6h0M1696.3 240.1h0M1696.9 272.6h0M1696.9 240.1h0M1697.4 272.6h0M1701.4 263.3h0M1703.1 282.9h0M1713.8 272.6h0M1714.3 272.6h0M1714.9 272.6h0M1715.5 282.9h0M1715.5 272.6h0M1716.0 282.9h0M1716.0 272.6h0M1716.6 282.9h0M1716.6 272.6h0M1717.2 282.9h0M1717.2 272.6h0M1717.7 282.9h0M1717.7 272.6h0M1718.3 282.9h0M1718.3 272.6h0M1718.9 282.9h0M1718.9 272.6h0M1719.4 282.9h0M1719.4 272.6h0M1720.0 282.9h0M1720.0 272.6h0M1720.5 282.9h0M1720.5 272.6h0M1721.1 282.9h0M1721.7 282.9h0M1722.2 282.9h0M1722.8 282.9h0M1723.4 282.9h0M1723.4 263.3h0M1723.9 282.9h0M1723.9 263.3h0M1724.5 282.9h0M1724.5 263.3h0M1725.0 282.9h0M1725.0 263.3h0M1725.6 282.9h0M1725.6 263.3h0M1726.2 282.9h0M1726.2 263.3h0M1726.7 282.9h0M1726.7 263.3h0M1727.3 282.9h0M1727.3 263.3h0M1727.9 282.9h0M1727.9 272.6h0M1727.9 263.3h0M1728.4 282.9h0M1728.4 272.6h0M1728.4 263.3h0M1729.0 282.9h0M1729.0 272.6h0M1729.0 263.3h0M1729.6 282.9h0M1729.6 272.6h0M1729.6 263.3h0M1730.1 282.9h0M1730.1 272.6h0M1730.1 263.3h0M1730.7 282.9h0M1730.7 272.6h0M1730.7 263.3h0M1731.2 282.9h0M1731.2 263.3h0M1731.8 282.9h0M1731.8 263.3h0M1732.4 294.5h0M1732.4 282.9h0M1732.4 263.3h0M1732.9 294.5h0M1732.9 282.9h0M1733.5 294.5h0M1733.5 282.9h0M1734.1 294.5h0M1734.1 282.9h0M1734.6 282.9h0M1735.2 282.9h0M1735.8 282.9h0M1736.3 282.9h0M1736.9 282.9h0M1737.4 282.9h0M1738.0 282.9h0M1738.6 282.9h0M1739.1 282.9h0M1739.7 294.5h0M1739.7 282.9h0M1740.3 294.5h0M1740.3 282.9h0M1740.8 294.5h0M1740.8 282.9h0M1741.4 294.5h0M1741.4 282.9h0M1742.0 294.5h0M1742.0 282.9h0M1742.5 294.5h0M1742.5 282.9h0M1743.1 282.9h0M1743.6 282.9h0M1744.2 282.9h0M1744.8 282.9h0M1745.3 282.9h0M1745.9 282.9h0M1746.5 282.9h0M1754.3 307.9h0M1754.9 307.9h0M1755.5 307.9h0M1756.0 307.9h0M1756.6 307.9h0M1747.0 294.5h0M1747.6 294.5h0M1748.1 294.5h0M1750.4 307.9h0M1751.0 307.9h0M1751.5 307.9h0M1752.1 307.9h0M1752.7 307.9h0M1753.2 323.5h0M1753.2 307.9h0M1753.8 323.5h0M1753.8 307.9h0M1754.3 323.5h0M1754.9 323.5h0M1755.5 323.5h0M1756.0 323.5h0M1756.6 323.5h0M1757.2 323.5h0M1757.2 307.9h0M1757.7 323.5h0M1757.7 307.9h0M1758.3 323.5h0M1758.3 307.9h0M1758.3 294.5h0M1758.9 323.5h0M1758.9 307.9h0M1759.4 366.0h0M1759.4 323.5h0M1759.4 307.9h0M1760.0 366.0h0M1760.0 323.5h0M1760.0 307.9h0M1760.5 366.0h0M1760.5 323.5h0M1760.5 307.9h0M1761.1 366.0h0M1761.1 323.5h0M1761.1 307.9h0M1761.7 366.0h0M1761.7 323.5h0M1761.7 307.9h0M1762.2 366.0h0M1762.2 323.5h0M1762.2 307.9h0M1762.8 398.2h0M1762.8 366.0h0M1762.8 323.5h0M1762.8 307.9h0M1763.4 398.2h0M1763.4 366.0h0M1763.4 323.5h0M1763.4 307.9h0M1763.9 398.2h0M1763.9 366.0h0M1763.9 323.5h0M1763.9 307.9h0M1764.5 398.2h0M1764.5 366.0h0M1764.5 323.5h0M1764.5 307.9h0M1765.1 398.2h0M1765.1 366.0h0M1765.1 323.5h0M1765.1 307.9h0M1765.6 398.2h0M1765.6 366.0h0M1765.6 323.5h0M1765.6 307.9h0M1766.2 398.2h0M1766.2 323.5h0M1766.2 307.9h0M1766.7 398.2h0M1766.7 323.5h0M1766.7 307.9h0M1767.3 398.2h0M1767.3 323.5h0M1767.3 307.9h0M1767.9 398.2h0M1767.9 323.5h0M1767.9 307.9h0M1768.4 398.2h0M1768.4 323.5h0M1768.4 307.9h0M1769.0 398.2h0M1769.0 323.5h0M1769.0 307.9h0M1769.6 398.2h0M1769.6 323.5h0M1769.6 307.9h0M1770.1 398.2h0M1770.1 323.5h0M1770.1 307.9h0M1770.7 398.2h0M1770.7 323.5h0M1770.7 307.9h0M1771.2 398.2h0M1771.2 323.5h0M1771.2 307.9h0M1771.8 398.2h0M1771.8 323.5h0M1771.8 307.9h0M1772.4 398.2h0M1772.4 323.5h0M1772.4 307.9h0M1772.9 398.2h0M1772.9 323.5h0M1772.9 307.9h0M1773.5 398.2h0M1773.5 323.5h0M1773.5 307.9h0M1774.1 398.2h0M1774.1 342.3h0M1774.1 307.9h0M1774.6 398.2h0M1774.6 342.3h0M1774.6 307.9h0M1775.2 398.2h0M1775.2 307.9h0M1775.8 398.2h0M1775.8 307.9h0M1776.3 398.2h0M1776.3 307.9h0M1776.9 398.2h0M1776.9 307.9h0M1777.4 398.2h0M1777.4 307.9h0M1778.0 398.2h0M1778.0 307.9h0M1778.6 398.2h0M1778.6 307.9h0M1779.1 398.2h0M1779.1 307.9h0M1779.7 398.2h0M1779.7 307.9h0M1780.3 398.2h0M1780.3 323.5h0M1780.3 307.9h0M1780.8 398.2h0M1780.8 323.5h0M1780.8 307.9h0M1781.4 398.2h0M1781.4 323.5h0M1781.4 307.9h0M1782.0 398.2h0M1782.0 323.5h0M1782.0 307.9h0M1782.5 398.2h0M1782.5 366.0h0M1782.5 323.5h0M1782.5 307.9h0M1783.1 398.2h0M1783.1 366.0h0M1783.1 323.5h0M1783.6 398.2h0M1783.6 366.0h0M1783.6 323.5h0M1784.2 398.2h0M1784.2 366.0h0M1784.2 323.5h0M1784.8 398.2h0M1784.8 366.0h0M1784.8 323.5h0M1785.3 398.2h0M1785.3 366.0h0M1785.3 323.5h0M1785.9 398.2h0M1785.9 366.0h0M1785.9 323.5h0M1786.5 398.2h0M1786.5 366.0h0M1786.5 323.5h0M1787.0 398.2h0M1787.0 366.0h0M1787.0 323.5h0M1787.6 398.2h0M1787.6 366.0h0M1787.6 342.3h0M1787.6 323.5h0M1787.6 307.9h0M1788.2 398.2h0M1788.2 366.0h0M1788.2 342.3h0M1788.2 323.5h0M1788.2 307.9h0M1788.7 398.2h0M1788.7 366.0h0M1788.7 342.3h0M1788.7 323.5h0M1788.7 307.9h0M1789.3 398.2h0M1789.3 366.0h0M1789.3 342.3h0M1789.3 323.5h0M1789.3 307.9h0M1789.8 398.2h0M1789.8 366.0h0M1789.8 342.3h0M1789.8 323.5h0M1789.8 307.9h0M1790.4 398.2h0M1790.4 366.0h0M1790.4 342.3h0M1790.4 323.5h0M1790.4 307.9h0M1791.0 398.2h0M1791.0 366.0h0M1791.0 342.3h0M1791.0 323.5h0M1791.0 307.9h0M1791.5 398.2h0M1791.5 366.0h0M1791.5 342.3h0M1791.5 323.5h0M1791.5 307.9h0M1792.1 398.2h0M1792.1 366.0h0M1792.1 342.3h0M1792.1 323.5h0M1792.1 307.9h0M1792.7 398.2h0M1792.7 366.0h0M1792.7 342.3h0M1792.7 323.5h0M1792.7 307.9h0M1793.2 398.2h0M1793.2 366.0h0M1793.2 342.3h0M1793.2 323.5h0M1793.2 307.9h0M1793.8 398.2h0M1793.8 366.0h0M1793.8 342.3h0M1793.8 307.9h0M1794.3 398.2h0M1794.3 366.0h0M1794.3 342.3h0M1794.3 307.9h0M1794.9 398.2h0M1794.9 366.0h0M1794.9 342.3h0M1794.9 323.5h0M1794.9 307.9h0M1795.5 398.2h0M1795.5 366.0h0M1795.5 342.3h0M1795.5 323.5h0M1795.5 307.9h0M1796.0 398.2h0M1796.0 366.0h0M1796.0 342.3h0M1796.0 323.5h0M1796.0 307.9h0M1796.6 398.2h0M1796.6 366.0h0M1796.6 342.3h0M1796.6 323.5h0M1796.6 307.9h0M1797.2 398.2h0M1797.2 366.0h0M1797.2 342.3h0M1797.2 323.5h0M1797.2 307.9h0M1797.7 398.2h0M1797.7 366.0h0M1797.7 342.3h0M1797.7 323.5h0M1797.7 307.9h0M1798.3 398.2h0M1798.3 366.0h0M1798.3 342.3h0M1798.3 323.5h0M1798.3 307.9h0M1798.9 398.2h0M1798.9 366.0h0M1798.9 342.3h0M1798.9 323.5h0M1798.9 307.9h0M1799.4 398.2h0M1799.4 366.0h0M1799.4 342.3h0M1799.4 307.9h0M1800.0 398.2h0M1800.0 366.0h0M1800.0 342.3h0M1800.0 307.9h0M1800.5 398.2h0M1800.5 366.0h0M1800.5 342.3h0M1800.5 307.9h0M1801.1 398.2h0M1801.1 366.0h0M1801.1 342.3h0M1801.1 307.9h0M1801.7 398.2h0M1801.7 366.0h0M1801.7 342.3h0M1801.7 307.9h0M1802.2 398.2h0M1802.2 366.0h0M1802.2 342.3h0M1802.2 307.9h0M1802.8 398.2h0M1802.8 366.0h0M1802.8 342.3h0M1802.8 307.9h0M1803.4 398.2h0M1803.4 366.0h0M1803.4 342.3h0M1803.4 307.9h0M1803.9 398.2h0M1803.9 366.0h0M1803.9 342.3h0M1803.9 307.9h0M1804.5 398.2h0M1804.5 366.0h0M1804.5 342.3h0M1804.5 307.9h0M1805.1 398.2h0M1805.1 366.0h0M1805.1 342.3h0M1805.1 307.9h0M1805.6 398.2h0M1805.6 366.0h0M1805.6 342.3h0M1805.6 307.9h0M1806.2 398.2h0M1806.2 366.0h0M1806.2 342.3h0M1806.2 307.9h0M1806.7 398.2h0M1806.7 366.0h0M1806.7 342.3h0M1806.7 307.9h0M1807.3 398.2h0M1807.3 366.0h0M1807.3 342.3h0M1807.3 307.9h0M1807.9 448.2h0M1807.9 398.2h0M1807.9 366.0h0M1807.9 342.3h0M1807.9 307.9h0M1808.4 448.2h0M1808.4 398.2h0M1808.4 366.0h0M1808.4 342.3h0M1808.4 307.9h0M1809.0 448.2h0M1809.0 398.2h0M1809.0 366.0h0M1809.0 342.3h0M1809.0 307.9h0M1809.6 448.2h0M1809.6 398.2h0M1809.6 366.0h0M1809.6 342.3h0M1809.6 307.9h0M1810.1 448.2h0M1810.1 398.2h0M1810.1 366.0h0M1810.1 342.3h0M1810.1 307.9h0M1810.7 448.2h0M1810.7 398.2h0M1810.7 366.0h0M1810.7 342.3h0M1810.7 307.9h0M1811.2 448.2h0M1811.2 366.0h0M1811.2 342.3h0M1811.2 323.5h0M1811.2 307.9h0M1811.8 448.2h0M1811.8 366.0h0M1811.8 342.3h0M1811.8 323.5h0M1811.8 307.9h0M1812.4 448.2h0M1812.4 366.0h0M1812.4 342.3h0M1812.4 323.5h0M1812.4 307.9h0M1812.9 448.2h0M1812.9 366.0h0M1812.9 342.3h0M1812.9 323.5h0M1812.9 307.9h0M1813.5 448.2h0M1813.5 366.0h0M1813.5 342.3h0M1813.5 323.5h0M1813.5 307.9h0M1814.1 448.2h0M1814.1 366.0h0M1814.1 342.3h0M1814.1 323.5h0M1814.1 307.9h0M1814.6 448.2h0M1814.6 366.0h0M1814.6 342.3h0M1814.6 323.5h0M1814.6 307.9h0M1815.2 448.2h0M1815.2 366.0h0M1815.2 342.3h0M1815.2 307.9h0M1815.8 448.2h0M1815.8 398.2h0M1815.8 366.0h0M1815.8 342.3h0M1815.8 307.9h0M1816.3 448.2h0M1816.3 398.2h0M1816.3 366.0h0M1816.3 342.3h0M1816.3 307.9h0M1816.9 448.2h0M1816.9 398.2h0M1816.9 366.0h0M1816.9 342.3h0M1816.9 307.9h0M1817.4 448.2h0M1817.4 398.2h0M1817.4 366.0h0M1817.4 342.3h0M1817.4 307.9h0M1818.0 448.2h0M1818.0 398.2h0M1818.0 366.0h0M1818.0 342.3h0M1818.0 307.9h0M1818.6 448.2h0M1818.6 398.2h0M1818.6 366.0h0M1818.6 342.3h0M1818.6 307.9h0M1819.1 448.2h0M1819.1 398.2h0M1819.1 366.0h0M1819.1 342.3h0M1819.1 307.9h0M1819.7 448.2h0M1819.7 398.2h0M1819.7 366.0h0M1819.7 342.3h0M1819.7 307.9h0M1820.3 448.2h0M1820.3 398.2h0M1820.3 366.0h0M1820.3 342.3h0M1820.3 307.9h0M1820.8 448.2h0M1820.8 398.2h0M1820.8 366.0h0M1820.8 342.3h0M1820.8 307.9h0M1821.4 448.2h0M1821.4 366.0h0M1821.4 342.3h0M1821.4 307.9h0M1822.0 448.2h0M1822.0 366.0h0M1822.0 342.3h0M1822.0 307.9h0M1822.5 448.2h0M1822.5 366.0h0M1822.5 342.3h0M1822.5 307.9h0M1823.1 448.2h0M1823.1 366.0h0M1823.1 342.3h0M1823.6 448.2h0M1823.6 366.0h0M1823.6 342.3h0M1824.2 448.2h0M1824.2 366.0h0M1824.2 342.3h0M1824.8 448.2h0M1824.8 366.0h0M1824.8 342.3h0M1824.8 323.5h0M1825.3 448.2h0M1825.3 366.0h0M1825.3 342.3h0M1825.3 323.5h0M1825.9 448.2h0M1825.9 366.0h0M1825.9 342.3h0M1825.9 323.5h0M1826.5 448.2h0M1826.5 366.0h0M1826.5 342.3h0M1826.5 323.5h0M1827.0 448.2h0M1827.0 342.3h0M1827.0 323.5h0M1827.6 448.2h0M1827.6 366.0h0M1827.6 342.3h0M1827.6 323.5h0M1828.2 448.2h0M1828.2 366.0h0M1828.2 342.3h0M1828.2 323.5h0M1828.7 448.2h0M1828.7 366.0h0M1828.7 342.3h0M1828.7 323.5h0M1829.3 448.2h0M1829.3 366.0h0M1829.3 342.3h0M1829.3 323.5h0M1829.8 448.2h0M1829.8 366.0h0M1829.8 342.3h0M1829.8 323.5h0M1830.4 448.2h0M1830.4 366.0h0M1830.4 342.3h0M1830.4 323.5h0M1831.0 448.2h0M1831.0 366.0h0M1831.0 342.3h0M1831.0 323.5h0M1831.5 448.2h0M1831.5 366.0h0M1831.5 342.3h0M1831.5 323.5h0M1832.1 448.2h0M1832.1 366.0h0M1832.1 342.3h0M1832.1 323.5h0M1832.7 448.2h0M1832.7 366.0h0M1832.7 342.3h0M1832.7 323.5h0M1833.2 448.2h0M1833.2 366.0h0M1833.2 342.3h0M1833.2 323.5h0M1833.8 448.2h0M1833.8 366.0h0M1833.8 342.3h0M1833.8 323.5h0M1834.3 448.2h0M1834.3 366.0h0M1834.3 342.3h0M1834.3 323.5h0M1834.9 448.2h0M1834.9 366.0h0M1834.9 342.3h0M1834.9 323.5h0M1835.5 448.2h0M1835.5 366.0h0M1835.5 342.3h0M1835.5 323.5h0M1836.0 448.2h0M1836.0 366.0h0M1836.0 342.3h0M1836.6 448.2h0M1836.6 366.0h0M1836.6 342.3h0M1837.2 448.2h0M1837.2 366.0h0M1837.2 342.3h0M1837.7 448.2h0M1837.7 366.0h0M1837.7 342.3h0M1838.3 448.2h0M1838.3 366.0h0M1838.3 342.3h0M1838.9 448.2h0M1838.9 366.0h0M1838.9 342.3h0M1838.9 323.5h0M1839.4 448.2h0M1839.4 366.0h0M1839.4 342.3h0M1839.4 323.5h0M1840.0 448.2h0M1840.0 366.0h0M1840.0 342.3h0M1840.0 323.5h0M1840.5 448.2h0M1840.5 366.0h0M1840.5 342.3h0M1840.5 323.5h0M1841.1 448.2h0M1841.1 366.0h0M1841.1 342.3h0M1841.1 323.5h0M1841.7 448.2h0M1841.7 366.0h0M1841.7 342.3h0M1841.7 323.5h0M1842.2 448.2h0M1842.2 366.0h0M1842.2 323.5h0M1842.8 448.2h0M1842.8 366.0h0M1842.8 323.5h0M1843.4 448.2h0M1843.4 366.0h0M1843.4 323.5h0M1843.9 448.2h0M1843.9 366.0h0M1843.9 323.5h0M1844.5 448.2h0M1844.5 366.0h0M1844.5 323.5h0M1845.1 448.2h0M1845.1 366.0h0M1845.1 323.5h0M1845.6 448.2h0M1845.6 366.0h0M1845.6 323.5h0M1846.2 448.2h0M1846.2 366.0h0M1846.2 323.5h0M1846.7 448.2h0M1846.7 366.0h0M1846.7 323.5h0M1847.3 448.2h0M1847.3 366.0h0M1847.3 323.5h0M1847.9 448.2h0M1847.9 366.0h0M1847.9 323.5h0M1848.4 448.2h0M1848.4 366.0h0M1848.4 323.5h0M1849.0 448.2h0M1849.0 366.0h0M1849.0 323.5h0M1849.6 448.2h0M1849.6 366.0h0M1849.6 323.5h0M1850.1 448.2h0M1850.1 366.0h0M1850.7 448.2h0M1850.7 366.0h0M1851.3 448.2h0M1851.3 366.0h0M1851.8 448.2h0M1851.8 366.0h0M1851.8 342.3h0M1852.4 448.2h0M1852.4 366.0h0M1852.4 342.3h0M1852.9 448.2h0M1852.9 366.0h0M1852.9 342.3h0M1853.5 448.2h0M1853.5 366.0h0M1853.5 342.3h0M1854.1 448.2h0M1854.1 366.0h0M1854.1 342.3h0M1854.6 448.2h0M1854.6 366.0h0M1854.6 342.3h0M1855.2 448.2h0M1855.2 366.0h0M1855.2 342.3h0M1855.8 448.2h0M1855.8 366.0h0M1855.8 342.3h0M1856.3 448.2h0M1856.3 366.0h0M1856.3 342.3h0M1856.9 448.2h0M1856.9 366.0h0M1856.9 342.3h0M1857.4 448.2h0M1857.4 366.0h0M1857.4 342.3h0M1858.0 448.2h0M1858.0 366.0h0M1858.0 323.5h0M1858.6 448.2h0M1858.6 398.2h0M1858.6 366.0h0M1858.6 323.5h0M1859.1 448.2h0M1859.1 398.2h0M1859.1 366.0h0M1859.1 323.5h0M1859.7 448.2h0M1859.7 398.2h0M1859.7 366.0h0M1859.7 323.5h0M1860.3 448.2h0M1860.3 398.2h0M1860.3 366.0h0M1860.3 323.5h0M1860.8 448.2h0M1860.8 398.2h0M1860.8 366.0h0M1860.8 323.5h0M1861.4 448.2h0M1861.4 398.2h0M1861.4 366.0h0M1861.4 323.5h0M1862.0 448.2h0M1862.0 398.2h0M1862.0 366.0h0M1862.0 323.5h0M1862.5 448.2h0M1862.5 398.2h0M1862.5 366.0h0M1862.5 323.5h0M1863.1 448.2h0M1863.1 398.2h0M1863.1 366.0h0M1863.1 323.5h0M1863.6 448.2h0M1863.6 398.2h0M1863.6 366.0h0M1863.6 323.5h0M1864.2 448.2h0M1864.2 398.2h0M1864.2 366.0h0M1864.2 323.5h0M1864.8 448.2h0M1864.8 398.2h0M1864.8 366.0h0M1864.8 323.5h0M1865.3 448.2h0M1865.3 398.2h0M1865.3 366.0h0M1865.3 323.5h0M1865.9 448.2h0M1865.9 398.2h0M1865.9 366.0h0M1865.9 323.5h0M1866.5 448.2h0M1866.5 398.2h0M1866.5 366.0h0M1866.5 323.5h0M1867.0 448.2h0M1867.0 398.2h0M1867.0 366.0h0M1867.0 323.5h0M1867.6 448.2h0M1867.6 398.2h0M1867.6 366.0h0M1867.6 323.5h0M1868.2 448.2h0M1868.2 398.2h0M1868.2 366.0h0M1868.2 323.5h0M1868.7 448.2h0M1868.7 398.2h0M1868.7 366.0h0M1868.7 323.5h0M1869.3 448.2h0M1869.3 398.2h0M1869.3 366.0h0M1869.3 323.5h0M1869.8 448.2h0M1869.8 398.2h0M1869.8 366.0h0M1869.8 323.5h0M1870.4 448.2h0M1870.4 398.2h0M1870.4 366.0h0M1870.4 323.5h0M1871.0 448.2h0M1871.0 398.2h0M1871.0 366.0h0M1871.0 323.5h0M1871.5 448.2h0M1871.5 398.2h0M1871.5 366.0h0M1871.5 323.5h0M1872.1 448.2h0M1872.1 398.2h0M1872.1 366.0h0M1872.1 323.5h0M1872.7 448.2h0M1872.7 398.2h0M1872.7 366.0h0M1872.7 323.5h0M1873.2 448.2h0M1873.2 398.2h0M1873.2 366.0h0M1873.2 323.5h0M1873.8 448.2h0M1873.8 398.2h0M1873.8 366.0h0M1873.8 323.5h0M1874.4 448.2h0M1874.4 398.2h0M1874.4 366.0h0M1874.4 342.3h0M1874.4 323.5h0M1874.9 448.2h0M1874.9 398.2h0M1874.9 366.0h0M1874.9 342.3h0M1874.9 323.5h0M1875.5 448.2h0M1875.5 398.2h0M1875.5 366.0h0M1875.5 342.3h0M1875.5 323.5h0M1876.0 448.2h0M1876.0 398.2h0M1876.0 366.0h0M1876.0 342.3h0M1876.0 323.5h0M1876.6 448.2h0M1876.6 398.2h0M1876.6 366.0h0M1876.6 342.3h0M1876.6 323.5h0M1877.2 448.2h0M1877.2 398.2h0M1877.2 366.0h0M1877.2 342.3h0M1877.2 323.5h0M1877.7 448.2h0M1877.7 398.2h0M1877.7 366.0h0M1877.7 323.5h0M1878.3 448.2h0M1878.3 398.2h0M1878.3 366.0h0M1878.3 323.5h0M1878.9 448.2h0M1878.9 398.2h0M1878.9 366.0h0M1878.9 323.5h0M1879.4 398.2h0M1879.4 366.0h0M1879.4 323.5h0M1880.0 398.2h0M1880.0 366.0h0M1880.0 323.5h0M1880.5 398.2h0M1880.5 366.0h0M1881.1 398.2h0M1881.1 366.0h0M1881.7 398.2h0M1881.7 366.0h0M1882.2 398.2h0M1882.2 366.0h0M1882.8 398.2h0M1882.8 366.0h0M1883.4 398.2h0M1883.4 366.0h0M1883.9 398.2h0M1883.9 366.0h0M1884.5 398.2h0M1884.5 366.0h0M1885.1 398.2h0M1885.1 366.0h0M1885.6 398.2h0M1885.6 366.0h0M1886.2 398.2h0M1886.2 366.0h0M1886.7 398.2h0M1886.7 366.0h0M1887.3 398.2h0M1887.3 366.0h0M1887.9 398.2h0M1887.9 366.0h0M1888.4 366.0h0M1889.0 366.0h0M1889.6 366.0h0M1890.1 366.0h0M1890.7 366.0h0M1891.3 366.0h0M1891.8 366.0h0M1892.4 366.0h0M1892.9 366.0h0M1893.5 366.0h0M1893.5 342.3h0M1894.1 366.0h0M1894.1 342.3h0M1894.6 366.0h0M1894.6 342.3h0M1895.2 366.0h0M1895.2 342.3h0M1895.8 366.0h0M1895.8 342.3h0M1896.3 366.0h0M1896.3 342.3h0M1896.9 366.0h0M1896.9 342.3h0M1897.4 366.0h0M1897.4 342.3h0M1897.4 323.5h0M1898.0 366.0h0M1898.0 342.3h0M1898.0 323.5h0M1898.6 366.0h0M1898.6 342.3h0M1898.6 323.5h0M1899.1 366.0h0M1899.1 323.5h0M1899.7 366.0h0M1899.7 323.5h0M1900.3 366.0h0M1900.3 323.5h0M1900.8 366.0h0M1900.8 323.5h0M1901.4 366.0h0M1901.4 323.5h0M1902.0 366.0h0M1902.0 323.5h0M1902.5 366.0h0M1902.5 323.5h0M1903.1 366.0h0M1903.1 323.5h0M1903.6 366.0h0M1903.6 323.5h0M1904.2 366.0h0M1904.2 323.5h0M1904.8 366.0h0M1904.8 323.5h0M1905.3 366.0h0M1905.3 323.5h0M1905.9 366.0h0M1905.9 323.5h0M1906.5 366.0h0M1906.5 323.5h0M1907.0 366.0h0M1907.0 323.5h0M1907.6 366.0h0M1908.2 366.0h0M1908.7 398.2h0M1908.7 366.0h0M1909.3 398.2h0M1909.3 366.0h0M1909.8 398.2h0M1909.8 366.0h0M1910.4 398.2h0M1910.4 366.0h0M1911.0 398.2h0M1911.0 366.0h0M1911.5 398.2h0M1911.5 366.0h0M1912.1 398.2h0M1912.1 366.0h0M1912.7 398.2h0M1912.7 366.0h0M1913.2 398.2h0M1913.2 366.0h0M1913.2 342.3h0M1913.8 398.2h0M1913.8 366.0h0M1913.8 342.3h0M1914.4 398.2h0M1914.4 366.0h0M1914.9 398.2h0M1914.9 366.0h0M1915.5 398.2h0M1915.5 366.0h0M1916.0 398.2h0M1916.0 366.0h0M1916.6 398.2h0M1916.6 366.0h0M1917.2 398.2h0M1917.2 366.0h0M1917.2 342.3h0M1917.7 398.2h0M1917.7 366.0h0M1917.7 342.3h0M1918.3 398.2h0M1918.3 366.0h0M1918.3 342.3h0M1918.9 398.2h0M1918.9 366.0h0M1918.9 342.3h0M1919.4 366.0h0M1919.4 342.3h0M1920.0 366.0h0M1920.0 342.3h0M1920.5 366.0h0M1920.5 342.3h0M1921.1 366.0h0M1921.1 342.3h0M1921.7 366.0h0M1921.7 342.3h0M1922.2 366.0h0M1922.2 342.3h0M1922.8 366.0h0M1922.8 342.3h0M1923.4 366.0h0M1923.4 342.3h0M1923.9 366.0h0M1923.9 342.3h0M1924.5 366.0h0M1924.5 342.3h0M1925.1 366.0h0M1925.1 342.3h0M1925.6 366.0h0M1925.6 342.3h0" stroke="#0c7a20" stroke-width="4.2" stroke-linecap="round" fill="none"/>
<path d="M1474.9 44.7h0M1475.1 47.3h0M1475.2 45.5h0M1475.4 47.3h0M1476.3 48.7h0M1476.8 50.1h0M1476.8 49.5h0M1477.1 49.1h0M1477.4 50.1h0M1477.4 49.7h0M1477.6 54.1h0M1477.8 52.9h0M1477.8 52.6h0M1477.9 51.8h0M1478.1 49.9h0M1478.3 54.4h0M1478.4 55.9h0M1478.4 55.2h0M1478.4 53.9h0M1478.6 57.0h0M1478.6 55.7h0M1478.6 53.7h0M1479.0 56.5h0M1479.1 59.0h0M1479.3 56.5h0M1479.5 58.3h0M1479.5 55.4h0M1479.6 58.8h0M1480.1 60.1h0M1480.5 60.1h0M1480.6 60.4h0M1480.8 62.0h0M1480.8 60.8h0M1481.0 60.4h0M1481.3 62.9h0M1481.5 64.9h0M1481.7 66.3h0M1481.8 64.9h0M1481.8 62.2h0M1482.2 65.8h0M1482.3 67.6h0M1482.3 66.1h0M1482.5 69.3h0M1482.7 66.3h0M1483.0 69.1h0M1483.4 70.4h0M1483.5 69.8h0M1484.0 72.4h0M1484.0 70.9h0M1484.2 72.2h0M1484.2 70.4h0M1484.4 70.6h0M1484.7 71.1h0M1484.9 74.3h0M1484.9 69.1h0M1485.0 75.1h0M1485.5 73.2h0M1485.7 75.1h0M1485.7 74.3h0M1485.7 72.2h0M1485.9 73.8h0M1485.9 71.6h0M1486.2 75.1h0M1486.4 79.0h0M1486.4 76.5h0M1486.4 74.3h0M1486.6 77.0h0M1486.7 77.9h0M1486.9 75.6h0M1487.1 79.0h0M1487.1 78.1h0M1487.2 76.7h0M1487.2 74.8h0M1487.9 78.7h0M1487.9 77.6h0M1488.3 77.9h0M1488.4 79.8h0M1488.8 81.8h0M1488.8 79.8h0M1488.8 78.4h0M1488.9 81.0h0M1488.9 79.5h0M1489.3 81.8h0M1489.3 81.6h0M1489.3 80.4h0M1489.8 84.8h0M1489.8 83.0h0M1490.3 83.9h0M1490.3 83.0h0M1490.8 84.2h0M1490.8 83.6h0M1491.0 87.2h0M1491.0 86.0h0M1491.0 84.8h0M1491.1 86.3h0M1491.8 87.9h0M1491.8 87.6h0M1491.8 85.4h0M1492.0 83.3h0M1492.1 89.8h0M1492.3 85.1h0M1492.5 86.6h0M1492.5 85.4h0M1492.5 83.9h0M1492.8 89.4h0M1492.8 86.9h0M1493.2 90.7h0M1493.3 88.5h0M1493.7 90.1h0M1493.8 90.4h0M1493.8 89.1h0M1493.8 87.6h0M1494.5 89.1h0M1494.8 93.3h0M1495.5 93.7h0M1495.7 92.7h0M1495.7 90.7h0M1495.7 89.1h0M1495.9 93.0h0M1496.0 90.1h0M1496.2 94.7h0M1496.2 92.3h0M1496.9 94.0h0M1496.9 93.7h0M1496.9 91.0h0M1497.0 94.7h0M1497.0 91.7h0M1497.2 95.7h0M1497.4 97.4h0M1497.4 91.0h0M1497.5 95.3h0M1497.9 100.9h0M1498.1 94.7h0M1498.1 93.7h0M1498.2 95.7h0M1498.4 94.3h0M1498.6 97.7h0M1498.6 95.0h0M1498.9 97.4h0M1499.1 94.7h0M1499.2 95.7h0M1499.6 94.0h0M1499.9 100.5h0M1500.1 97.4h0M1500.1 95.3h0M1500.3 97.0h0M1500.4 98.4h0M1500.6 99.8h0M1500.9 102.0h0M1501.1 99.5h0M1501.1 97.7h0M1501.4 97.4h0M1501.6 99.5h0M1501.6 98.8h0M1501.8 95.3h0M1501.9 100.2h0M1502.1 102.7h0M1502.1 98.8h0M1502.3 100.9h0M1502.3 96.3h0M1502.5 102.4h0M1502.5 101.3h0M1502.5 99.1h0M1502.5 98.1h0M1502.6 97.7h0M1502.6 97.0h0M1503.0 100.9h0M1503.0 99.5h0M1503.1 98.8h0M1503.3 99.1h0M1503.5 102.7h0M1503.6 99.8h0M1504.3 100.9h0M1504.5 103.5h0M1504.6 106.1h0M1505.0 102.0h0M1505.0 100.9h0M1505.0 100.5h0M1505.5 101.6h0M1505.7 105.3h0M1505.7 104.9h0M1505.7 103.1h0M1505.8 106.8h0M1505.8 103.8h0M1505.8 98.1h0M1506.0 105.7h0M1506.5 104.6h0M1506.7 108.4h0M1507.0 104.2h0M1507.0 103.5h0M1507.5 106.5h0M1507.5 105.3h0M1508.0 111.6h0M1508.4 108.0h0M1508.4 106.5h0M1508.5 110.0h0M1508.5 108.8h0M1508.5 108.4h0M1508.9 108.0h0M1509.0 105.7h0M1509.2 107.2h0M1509.5 109.2h0M1509.9 112.4h0M1509.9 110.8h0M1509.9 108.8h0M1510.4 110.0h0M1510.7 110.8h0M1510.9 112.8h0M1511.1 111.6h0M1511.1 110.8h0M1511.1 109.6h0M1511.1 109.2h0M1511.2 112.4h0M1511.4 112.0h0M1511.4 110.8h0M1511.7 110.4h0M1511.9 112.0h0M1511.9 110.8h0M1512.3 115.7h0M1512.8 112.0h0M1512.8 109.6h0M1512.9 112.8h0M1512.9 110.8h0M1513.4 114.4h0M1513.4 112.8h0M1513.4 112.4h0M1513.6 115.7h0M1514.1 114.0h0M1514.5 110.8h0M1514.6 116.1h0M1514.8 116.5h0M1514.8 112.8h0M1515.0 116.1h0M1515.5 118.3h0M1515.5 115.7h0M1515.6 114.4h0M1516.0 114.8h0M1516.1 117.8h0M1516.6 117.0h0M1517.0 118.7h0M1517.0 117.8h0M1517.5 117.0h0M1517.7 118.3h0M1517.8 115.7h0M1518.0 118.7h0M1518.2 122.7h0M1518.3 120.5h0M1518.5 119.1h0M1518.8 119.1h0M1518.8 118.7h0M1519.0 120.0h0M1519.4 119.1h0M1519.7 119.6h0M1520.0 122.7h0M1520.0 121.4h0M1520.2 120.5h0M1520.4 124.6h0M1520.7 119.6h0M1521.0 121.8h0M1521.5 123.2h0M1521.9 123.2h0M1521.9 122.7h0M1521.9 120.5h0M1522.2 125.5h0M1522.4 124.1h0M1522.6 123.2h0M1522.7 122.3h0M1522.7 121.8h0M1522.7 121.4h0M1522.9 125.0h0M1522.9 122.7h0M1523.1 124.6h0M1523.1 123.6h0M1523.1 123.2h0M1523.4 123.2h0M1523.6 126.0h0M1523.6 125.5h0M1523.9 124.1h0M1524.1 127.9h0M1524.4 125.5h0M1524.4 124.6h0M1524.6 127.4h0M1524.6 126.0h0M1525.1 125.5h0M1525.1 124.6h0M1525.3 126.9h0M1525.3 125.0h0M1525.8 129.8h0M1525.8 126.0h0M1526.1 126.9h0M1526.6 127.4h0M1526.6 125.0h0M1527.0 127.9h0M1527.1 128.8h0M1527.3 132.3h0M1527.8 130.8h0M1527.8 127.4h0M1528.3 132.3h0M1528.3 129.3h0M1528.3 127.9h0M1528.3 126.9h0M1528.5 131.3h0M1528.6 128.8h0M1529.2 130.8h0M1529.2 128.8h0M1529.3 130.3h0M1529.5 132.3h0M1529.7 129.3h0M1530.0 132.8h0M1530.2 131.3h0M1530.3 130.8h0M1530.5 132.3h0M1530.5 131.8h0M1530.7 131.3h0M1530.8 133.3h0M1531.0 135.4h0M1531.0 131.3h0M1531.2 131.8h0M1531.4 128.8h0M1531.5 129.8h0M1532.0 135.4h0M1532.0 132.8h0M1532.0 131.8h0M1532.0 130.3h0M1532.5 134.9h0M1532.5 131.8h0M1533.7 135.9h0M1533.9 134.9h0M1533.9 133.3h0M1534.1 132.3h0M1534.2 134.4h0M1534.6 134.9h0M1534.9 137.0h0M1535.2 132.3h0M1535.6 137.5h0M1535.6 137.0h0M1535.7 138.6h0M1535.9 135.4h0M1536.1 138.6h0M1536.6 139.2h0M1536.6 136.5h0M1536.9 141.9h0M1536.9 138.6h0M1536.9 138.1h0M1536.9 135.9h0M1536.9 134.4h0M1537.1 140.3h0M1537.4 135.9h0M1537.6 139.2h0M1537.9 138.1h0M1538.3 140.3h0M1538.3 139.2h0M1538.3 138.6h0M1538.3 135.9h0M1538.5 142.5h0M1538.5 137.5h0M1538.8 137.5h0M1539.1 139.7h0M1539.3 140.8h0M1539.8 141.9h0M1540.1 140.8h0M1540.3 144.8h0M1540.3 139.2h0M1540.5 140.8h0M1540.6 143.6h0M1540.8 143.1h0M1541.0 141.4h0M1541.0 139.2h0M1541.2 140.3h0M1541.3 144.8h0M1541.3 143.6h0M1541.5 140.8h0M1541.7 143.1h0M1541.8 141.9h0M1542.0 144.2h0M1542.0 142.5h0M1542.3 141.4h0M1542.7 144.8h0M1542.8 146.5h0M1543.0 142.5h0M1543.2 144.8h0M1543.2 143.1h0M1543.4 144.2h0M1543.5 142.5h0M1543.5 140.8h0M1543.7 145.4h0M1544.2 144.8h0M1544.5 148.3h0M1544.5 146.0h0M1544.7 141.9h0M1544.9 144.8h0M1545.7 146.5h0M1546.1 146.5h0M1546.2 144.8h0M1546.4 148.3h0M1546.4 146.5h0M1546.6 147.1h0M1546.6 144.2h0M1546.6 143.1h0M1546.7 148.9h0M1546.7 147.7h0M1546.9 144.2h0M1547.4 145.4h0M1547.9 148.9h0M1547.9 147.7h0M1548.1 147.1h0M1548.1 146.5h0M1548.3 152.0h0M1548.3 148.9h0M1548.3 148.3h0M1548.3 147.7h0M1548.4 146.5h0M1548.6 149.6h0M1548.8 148.9h0M1548.8 147.7h0M1548.8 144.8h0M1548.9 148.3h0M1549.3 149.6h0M1549.3 148.3h0M1549.4 147.7h0M1549.4 147.1h0M1549.8 152.0h0M1549.9 155.2h0M1550.1 150.2h0M1550.1 149.6h0M1550.1 148.9h0M1550.3 148.3h0M1550.5 150.2h0M1550.6 145.4h0M1550.8 152.7h0M1551.0 151.4h0M1551.0 150.8h0M1551.1 149.6h0M1551.5 151.4h0M1551.5 150.8h0M1551.6 150.2h0M1551.6 147.7h0M1552.1 153.3h0M1552.1 150.8h0M1552.3 150.2h0M1552.5 153.3h0M1552.6 154.6h0M1552.6 150.8h0M1553.2 149.6h0M1553.3 152.0h0M1553.5 152.7h0M1553.5 150.8h0M1553.7 151.4h0M1553.8 155.9h0M1554.2 148.9h0M1554.3 152.7h0M1554.5 155.9h0M1554.7 154.6h0M1554.7 153.9h0M1555.2 153.9h0M1555.4 159.2h0M1555.4 156.5h0M1555.5 152.0h0M1555.7 153.9h0M1555.7 152.7h0M1555.9 154.6h0M1556.2 152.7h0M1556.2 150.8h0M1556.4 154.6h0M1556.9 155.2h0M1557.2 156.5h0M1557.4 157.2h0M1557.4 155.9h0M1557.6 154.6h0M1557.7 156.5h0M1557.9 154.6h0M1558.1 156.5h0M1558.1 155.2h0M1558.2 159.9h0M1558.2 157.9h0M1558.2 155.9h0M1558.7 158.5h0M1558.9 153.9h0M1559.1 157.9h0M1559.1 157.2h0M1559.1 155.9h0M1559.4 153.9h0M1560.0 155.9h0M1560.5 158.5h0M1560.5 157.9h0M1560.5 156.5h0M1561.7 158.5h0M1561.7 157.9h0M1561.7 157.2h0M1563.4 157.2h0M1563.9 160.6h0M1565.0 163.4h0M1565.0 162.7h0M1566.2 163.4h0M1566.2 161.3h0M1566.7 162.7h0M1567.3 163.4h0M1568.4 164.8h0M1568.4 162.0h0M1569.6 165.6h0M1570.1 164.1h0M1570.7 168.5h0M1570.7 167.0h0M1571.2 164.8h0M1571.8 168.5h0M1572.4 167.0h0M1572.4 166.3h0M1572.4 164.1h0M1576.3 171.6h0M1576.3 168.5h0M1576.9 174.0h0M1578.0 171.6h0M1579.1 172.4h0M1579.1 170.0h0M1579.7 176.4h0M1581.4 172.4h0M1582.5 178.0h0M1583.1 176.4h0M1583.1 175.6h0M1583.6 179.7h0M1584.2 177.2h0M1584.8 174.0h0M1585.3 175.6h0M1585.9 179.7h0M1586.5 181.4h0M1586.5 177.2h0M1587.0 179.7h0M1587.0 174.8h0M1587.6 177.2h0M1588.1 175.6h0M1589.8 177.2h0M1590.4 184.1h0M1591.0 181.4h0M1591.0 180.6h0M1591.5 185.0h0M1591.5 183.2h0M1592.1 184.1h0M1593.8 185.0h0M1594.9 194.5h0M1594.9 184.1h0M1595.5 182.3h0M1596.0 187.7h0M1596.0 181.4h0M1597.2 191.5h0M1597.2 190.6h0M1597.2 185.0h0M1597.2 184.1h0M1597.7 189.6h0M1597.7 188.7h0M1598.3 186.8h0M1599.4 188.7h0M1600.0 194.5h0M1600.5 185.0h0M1601.1 187.7h0M1601.7 189.6h0M1602.2 192.5h0M1603.4 191.5h0M1604.5 194.5h0M1605.0 192.5h0M1606.2 194.5h0M1607.3 196.5h0M1607.3 194.5h0M1607.3 193.5h0M1608.4 197.5h0M1608.4 192.5h0M1609.6 200.7h0M1609.6 197.5h0M1610.7 200.7h0M1611.8 196.5h0M1611.8 195.5h0M1612.4 198.6h0M1612.9 197.5h0M1612.9 196.5h0M1613.5 199.6h0M1614.6 198.6h0M1615.8 202.9h0M1615.8 198.6h0M1616.3 200.7h0M1617.4 201.8h0M1617.4 198.6h0M1618.6 201.8h0M1619.1 205.1h0M1619.1 199.6h0M1619.7 204.0h0M1619.7 200.7h0M1620.3 208.5h0M1620.8 207.4h0M1620.8 201.8h0M1624.2 213.3h0M1624.8 208.5h0M1624.8 204.0h0M1625.9 208.5h0M1626.5 205.1h0M1627.0 207.4h0M1628.7 209.7h0M1629.8 213.3h0M1629.8 210.9h0M1629.8 209.7h0M1630.4 214.5h0M1632.1 215.8h0M1632.7 213.3h0M1632.7 209.7h0M1634.3 214.5h0M1634.9 218.4h0M1635.5 213.3h0M1636.0 217.1h0M1636.6 215.8h0M1636.6 213.3h0M1637.2 219.7h0M1639.4 219.7h0M1640.5 217.1h0M1641.1 219.7h0M1641.1 213.3h0M1641.7 218.4h0M1642.2 222.3h0M1642.8 212.1h0M1646.2 217.1h0M1646.2 214.5h0M1646.7 218.4h0M1647.3 223.7h0M1647.3 222.3h0M1648.4 225.1h0M1648.4 222.3h0M1649.0 223.7h0M1649.0 221.0h0M1650.7 227.9h0M1651.2 218.4h0M1651.8 226.5h0M1651.8 222.3h0M1652.4 229.4h0M1653.5 223.7h0M1654.1 226.5h0M1654.1 215.8h0M1655.8 230.9h0M1655.8 219.7h0M1656.3 226.5h0M1656.9 229.4h0M1657.4 233.9h0M1657.4 226.5h0M1658.6 227.9h0M1658.6 226.5h0M1659.7 237.0h0M1659.7 226.5h0M1660.8 235.5h0M1660.8 229.4h0M1661.4 237.0h0M1661.4 221.0h0M1662.5 232.4h0M1663.1 233.9h0M1663.6 238.6h0M1663.6 230.9h0M1664.2 223.7h0M1664.8 237.0h0M1664.8 230.9h0M1664.8 226.5h0M1665.3 233.9h0M1665.3 229.4h0M1666.5 238.6h0M1666.5 232.4h0M1667.0 227.9h0M1667.6 230.9h0M1668.7 241.9h0M1668.7 237.0h0M1669.8 240.3h0M1670.4 238.6h0M1671.0 243.6h0M1671.5 235.5h0M1672.1 238.6h0M1672.1 237.0h0M1672.7 243.6h0M1672.7 241.9h0M1672.7 232.4h0M1673.2 237.0h0M1673.8 241.9h0M1674.3 240.3h0M1674.3 238.6h0M1675.5 243.6h0M1675.5 241.9h0M1676.6 247.1h0M1676.6 243.6h0M1676.6 240.3h0M1677.7 241.9h0M1677.7 238.6h0M1677.7 235.5h0M1679.4 252.6h0M1679.4 243.6h0M1679.4 237.0h0M1681.1 247.1h0M1682.8 245.4h0M1683.4 252.6h0M1683.9 250.8h0M1683.9 238.6h0M1684.5 247.1h0M1685.0 243.6h0M1685.6 247.1h0M1685.6 241.9h0M1686.2 245.4h0M1686.7 248.9h0M1687.3 252.6h0M1687.9 258.5h0M1688.4 254.6h0M1688.4 241.9h0M1689.0 247.1h0M1689.6 266.9h0M1689.6 258.5h0M1689.6 254.6h0M1690.1 262.6h0M1690.7 260.5h0M1691.8 262.6h0M1691.8 247.1h0M1692.9 256.5h0M1692.9 252.6h0M1694.1 252.6h0M1694.6 256.5h0M1695.2 258.5h0M1696.3 254.6h0M1696.9 250.8h0M1697.4 271.5h0M1697.4 264.8h0M1697.4 258.5h0M1697.4 254.6h0M1697.4 252.6h0M1698.0 262.6h0M1698.6 258.5h0M1698.6 256.5h0M1699.1 266.9h0M1699.1 260.5h0M1699.1 254.6h0M1699.7 264.8h0M1699.7 250.8h0M1700.3 269.2h0M1700.8 258.5h0M1700.8 241.9h0M1701.4 281.3h0M1701.4 252.6h0M1702.5 273.8h0M1702.5 264.8h0M1702.5 260.5h0M1703.6 266.9h0M1703.6 262.6h0M1704.2 273.8h0M1704.2 271.5h0M1704.2 269.2h0M1704.2 252.6h0M1704.8 262.6h0M1705.9 262.6h0M1706.5 264.8h0M1707.6 278.7h0M1707.6 256.5h0M1708.1 250.8h0M1708.7 269.2h0M1709.3 289.4h0M1709.8 264.8h0M1710.4 271.5h0M1710.4 266.9h0M1711.0 281.3h0M1711.0 278.7h0M1711.0 269.2h0M1711.5 273.8h0M1712.7 276.3h0M1713.2 278.7h0M1713.2 271.5h0M1713.2 269.2h0M1713.2 266.9h0M1713.8 273.8h0M1714.3 266.9h0M1714.9 262.6h0M1715.5 269.2h0M1716.0 286.6h0M1716.0 283.9h0M1716.0 278.7h0M1716.6 281.3h0M1716.6 266.9h0M1716.6 264.8h0M1717.2 283.9h0M1717.2 271.5h0M1717.2 269.2h0M1717.2 248.9h0M1717.7 292.3h0M1717.7 281.3h0M1717.7 276.3h0M1720.5 278.7h0M1720.5 271.5h0M1721.1 276.3h0M1721.7 289.4h0M1721.7 273.8h0M1721.7 271.5h0M1721.7 269.2h0M1722.8 281.3h0M1722.8 278.7h0M1723.4 273.8h0M1723.9 281.3h0M1723.9 269.2h0M1724.5 278.7h0M1725.0 298.3h0M1726.2 283.9h0M1727.3 283.9h0M1727.3 278.7h0M1728.4 281.3h0M1728.4 276.3h0M1729.0 289.4h0M1729.6 281.3h0M1730.7 276.3h0M1731.2 289.4h0M1731.2 273.8h0M1731.2 271.5h0M1732.4 298.3h0M1732.4 283.9h0M1732.9 315.4h0M1732.9 289.4h0M1732.9 281.3h0M1733.5 301.5h0M1734.1 295.2h0M1734.1 292.3h0M1734.1 283.9h0M1734.1 273.8h0M1734.6 281.3h0M1734.6 278.7h0M1735.2 289.4h0M1735.8 269.2h0M1736.3 283.9h0M1736.3 276.3h0M1736.9 295.2h0M1736.9 286.6h0M1738.0 298.3h0M1738.6 289.4h0M1738.6 278.7h0M1739.1 308.2h0M1739.1 292.3h0M1739.1 269.2h0M1739.7 304.8h0M1739.7 286.6h0M1740.3 292.3h0M1740.3 289.4h0M1740.8 295.2h0M1741.4 304.8h0M1741.4 301.5h0M1742.0 278.7h0M1742.5 295.2h0M1743.1 308.2h0M1743.6 301.5h0M1743.6 289.4h0M1743.6 281.3h0M1744.2 292.3h0M1745.3 308.2h0M1745.3 289.4h0M1746.5 295.2h0M1746.5 289.4h0M1747.0 298.3h0M1747.6 301.5h0M1747.6 295.2h0M1748.1 298.3h0M1748.1 286.6h0M1748.1 278.7h0M1748.7 304.8h0M1748.7 295.2h0M1748.7 292.3h0M1749.3 311.7h0M1749.3 278.7h0M1750.4 298.3h0M1751.0 286.6h0M1751.5 323.2h0M1751.5 301.5h0M1752.7 301.5h0M1752.7 298.3h0M1752.7 286.6h0M1753.2 311.7h0M1753.2 308.2h0M1753.8 301.5h0M1754.3 319.2h0M1754.3 315.4h0M1754.3 311.7h0M1754.3 304.8h0M1754.3 292.3h0M1755.5 308.2h0M1755.5 292.3h0M1756.0 301.5h0M1756.6 304.8h0M1756.6 292.3h0M1757.2 301.5h0M1757.2 289.4h0M1757.7 298.3h0M1758.3 301.5h0M1758.9 292.3h0M1759.4 315.4h0M1759.4 311.7h0M1759.4 304.8h0M1759.4 298.3h0M1760.0 319.2h0M1760.5 315.4h0M1760.5 298.3h0M1761.1 308.2h0M1761.1 301.5h0M1761.7 319.2h0M1762.2 315.4h0M1762.2 298.3h0M1762.2 295.2h0M1762.8 323.2h0M1763.4 319.2h0M1763.9 315.4h0M1764.5 331.8h0M1764.5 304.8h0M1765.6 331.8h0M1766.7 298.3h0M1767.3 323.2h0M1767.3 319.2h0M1768.4 341.3h0M1768.4 311.7h0M1769.6 315.4h0M1770.1 289.4h0M1770.7 319.2h0M1770.7 301.5h0M1770.7 298.3h0M1771.2 311.7h0M1772.9 323.2h0M1772.9 298.3h0M1773.5 327.4h0M1773.5 319.2h0M1773.5 311.7h0M1774.6 315.4h0M1775.2 341.3h0M1775.2 311.7h0M1775.2 298.3h0M1775.8 308.2h0M1775.8 301.5h0M1776.9 315.4h0M1776.9 295.2h0M1777.4 385.3h0M1777.4 319.2h0M1777.4 311.7h0M1779.1 319.2h0M1779.7 351.9h0M1779.7 301.5h0M1780.3 319.2h0M1780.8 336.4h0M1781.4 331.8h0M1781.4 327.4h0M1783.1 336.4h0M1783.1 319.2h0M1783.1 308.2h0M1783.1 301.5h0M1783.6 341.3h0M1783.6 327.4h0M1783.6 315.4h0M1783.6 311.7h0M1783.6 304.8h0M1784.8 327.4h0M1785.3 331.8h0M1785.9 304.8h0M1786.5 331.8h0M1787.0 327.4h0M1787.0 315.4h0M1787.6 341.3h0M1787.6 331.8h0M1787.6 323.2h0M1787.6 311.7h0M1787.6 304.8h0M1788.7 308.2h0M1789.3 336.4h0M1789.8 304.8h0M1789.8 295.2h0M1790.4 336.4h0M1790.4 331.8h0M1790.4 319.2h0M1791.5 315.4h0M1791.5 308.2h0M1791.5 304.8h0M1792.1 336.4h0M1792.1 323.2h0M1792.7 319.2h0M1792.7 315.4h0M1793.2 311.7h0M1793.8 341.3h0M1793.8 336.4h0M1793.8 308.2h0M1793.8 304.8h0M1794.3 331.8h0M1794.3 323.2h0M1794.3 311.7h0M1796.0 336.4h0M1796.0 308.2h0M1796.6 346.4h0M1797.2 327.4h0M1797.2 315.4h0M1797.2 311.7h0M1797.2 292.3h0M1798.9 327.4h0M1798.9 311.7h0M1798.9 301.5h0M1800.0 289.4h0M1800.5 363.8h0M1800.5 336.4h0M1800.5 331.8h0M1801.1 323.2h0M1801.1 315.4h0M1801.7 331.8h0M1801.7 311.7h0M1802.2 336.4h0M1802.2 327.4h0M1802.8 315.4h0M1803.4 336.4h0M1803.4 319.2h0M1805.1 346.4h0M1805.1 327.4h0M1805.1 319.2h0M1805.1 315.4h0M1805.1 308.2h0M1806.2 336.4h0M1806.2 327.4h0M1806.2 301.5h0M1806.7 357.7h0M1807.3 304.8h0M1807.9 319.2h0M1807.9 311.7h0M1809.0 331.8h0M1809.6 357.7h0M1809.6 346.4h0M1811.2 319.2h0M1811.2 311.7h0M1811.2 308.2h0M1811.8 377.6h0M1811.8 336.4h0M1812.4 311.7h0M1812.9 319.2h0M1813.5 346.4h0M1813.5 336.4h0M1814.1 327.4h0M1814.1 315.4h0M1814.6 351.9h0M1814.6 341.3h0M1814.6 323.2h0M1814.6 308.2h0M1815.2 346.4h0M1815.2 311.7h0M1815.8 331.8h0M1815.8 323.2h0M1816.3 341.3h0M1816.9 351.9h0M1817.4 323.2h0M1818.0 327.4h0M1818.0 315.4h0M1818.0 308.2h0M1818.6 357.7h0M1819.7 370.5h0M1819.7 327.4h0M1819.7 315.4h0M1820.3 341.3h0M1820.3 331.8h0M1820.3 319.2h0M1820.8 363.8h0M1820.8 346.4h0M1820.8 327.4h0M1822.0 327.4h0M1822.0 323.2h0M1822.0 315.4h0M1822.0 308.2h0M1822.5 370.5h0M1822.5 346.4h0M1823.6 377.6h0M1823.6 341.3h0M1824.2 315.4h0M1824.8 351.9h0M1825.3 319.2h0M1825.9 351.9h0M1825.9 327.4h0M1826.5 341.3h0M1826.5 319.2h0M1827.0 336.4h0M1827.6 346.4h0M1828.2 341.3h0M1828.7 336.4h0M1829.3 327.4h0M1829.3 319.2h0M1830.4 331.8h0M1831.0 346.4h0M1831.5 351.9h0M1832.1 377.6h0M1832.1 357.7h0M1832.7 336.4h0M1832.7 319.2h0M1833.2 370.5h0M1833.2 346.4h0M1833.8 336.4h0M1833.8 311.7h0M1834.3 377.6h0M1834.3 357.7h0M1834.3 315.4h0M1835.5 363.8h0M1835.5 315.4h0M1836.0 341.3h0M1837.2 357.7h0M1837.7 370.5h0M1837.7 323.2h0M1838.9 413.5h0M1838.9 327.4h0M1840.0 336.4h0M1840.0 308.2h0M1840.5 363.8h0M1840.5 315.4h0M1841.7 308.2h0M1842.2 393.8h0M1842.2 346.4h0M1842.2 327.4h0M1842.8 331.8h0M1843.9 425.3h0M1843.9 336.4h0M1844.5 346.4h0M1844.5 311.7h0M1845.6 377.6h0M1845.6 331.8h0M1845.6 315.4h0M1847.3 385.3h0M1847.3 336.4h0M1847.9 363.8h0M1849.0 327.4h0M1849.0 323.2h0M1849.6 351.9h0M1849.6 336.4h0M1850.1 341.3h0M1850.7 346.4h0M1851.3 425.3h0M1851.3 319.2h0M1851.8 351.9h0M1851.8 315.4h0M1852.4 336.4h0M1852.9 363.8h0M1852.9 341.3h0M1853.5 357.7h0M1853.5 315.4h0M1854.1 336.4h0M1854.6 377.6h0M1854.6 331.8h0M1854.6 323.2h0M1854.6 308.2h0M1856.3 351.9h0M1856.3 341.3h0M1856.9 363.8h0M1856.9 315.4h0M1859.7 327.4h0M1860.3 363.8h0M1860.3 357.7h0M1860.3 351.9h0M1860.8 336.4h0M1860.8 331.8h0M1861.4 351.9h0M1862.5 403.1h0M1862.5 393.8h0M1863.1 363.8h0M1863.6 438.7h0M1863.6 351.9h0M1863.6 341.3h0M1863.6 331.8h0M1864.2 403.1h0M1865.9 393.8h0M1867.6 393.8h0M1868.2 370.5h0M1868.2 357.7h0M1868.2 346.4h0M1869.3 346.4h0M1869.8 363.8h0M1869.8 315.4h0M1870.4 403.1h0M1871.5 363.8h0M1872.1 393.8h0M1872.1 336.4h0M1873.8 346.4h0M1874.4 351.9h0M1874.9 413.5h0M1874.9 357.7h0M1875.5 370.5h0M1876.0 413.5h0M1876.6 341.3h0M1877.2 438.7h0M1878.3 403.1h0M1878.3 370.5h0M1878.3 351.9h0M1879.4 357.7h0M1880.0 363.8h0M1880.0 331.8h0M1880.0 315.4h0M1880.5 319.2h0M1881.1 370.5h0M1881.1 363.8h0M1882.2 346.4h0M1882.8 351.9h0M1883.4 377.6h0M1883.4 370.5h0M1883.9 385.3h0M1884.5 346.4h0M1885.1 393.8h0M1885.1 385.3h0M1885.6 327.4h0M1886.7 377.6h0M1886.7 351.9h0M1887.3 336.4h0M1889.0 377.6h0M1889.6 357.7h0M1890.1 336.4h0M1890.7 370.5h0M1890.7 351.9h0M1891.3 413.5h0M1891.8 315.4h0M1892.4 377.6h0M1893.5 438.7h0M1893.5 357.7h0M1894.6 323.2h0M1895.2 327.4h0M1895.8 385.3h0M1896.9 425.3h0M1896.9 351.9h0M1897.4 438.7h0M1897.4 393.8h0M1898.6 403.1h0M1898.6 385.3h0M1899.7 357.7h0M1900.3 385.3h0M1900.8 363.8h0M1901.4 377.6h0M1901.4 331.8h0M1903.6 370.5h0M1904.2 357.7h0M1905.3 323.2h0M1905.9 357.7h0M1908.2 377.6h0M1908.7 413.5h0M1908.7 370.5h0M1908.7 357.7h0M1908.7 351.9h0M1908.7 346.4h0M1908.7 336.4h0M1909.8 438.7h0M1910.4 393.8h0M1911.5 438.7h0M1911.5 393.8h0M1912.1 357.7h0M1912.7 315.4h0M1913.8 393.8h0M1914.4 346.4h0M1914.4 341.3h0M1914.9 393.8h0M1917.2 403.1h0M1917.7 341.3h0M1918.9 425.3h0M1919.4 357.7h0M1921.1 377.6h0M1921.1 363.8h0M1921.1 346.4h0M1921.7 341.3h0M1921.7 336.4h0M1922.2 357.7h0M1922.8 377.6h0M1923.4 403.1h0M1923.9 413.5h0M1925.1 385.3h0M1925.6 351.9h0" stroke="#f0180c" stroke-width="4.2" stroke-linecap="round" fill="none"/>
<rect x="1475.5" y="43.6" width="450.5" height="410.79999999999995" fill="none" stroke="#000" stroke-width="4.4"/>
<line x1="1474.90" y1="454.40" x2="1474.90" y2="463.90" stroke="#000" stroke-width="3.74" stroke-linecap="round"/>
<line x1="1587.58" y1="454.40" x2="1587.58" y2="463.90" stroke="#000" stroke-width="3.74" stroke-linecap="round"/>
<line x1="1700.26" y1="454.40" x2="1700.26" y2="463.90" stroke="#000" stroke-width="3.74" stroke-linecap="round"/>
<line x1="1812.94" y1="454.40" x2="1812.94" y2="463.90" stroke="#000" stroke-width="3.74" stroke-linecap="round"/>
<line x1="1925.62" y1="454.40" x2="1925.62" y2="463.90" stroke="#000" stroke-width="3.74" stroke-linecap="round"/>
<line x1="1531.24" y1="454.40" x2="1531.24" y2="459.40" stroke="#000" stroke-width="3.74" stroke-linecap="round"/>
<line x1="1643.92" y1="454.40" x2="1643.92" y2="459.40" stroke="#000" stroke-width="3.74" stroke-linecap="round"/>
<line x1="1756.60" y1="454.40" x2="1756.60" y2="459.40" stroke="#000" stroke-width="3.74" stroke-linecap="round"/>
<line x1="1869.28" y1="454.40" x2="1869.28" y2="459.40" stroke="#000" stroke-width="3.74" stroke-linecap="round"/>
<line x1="1466.00" y1="43.60" x2="1475.50" y2="43.60" stroke="#000" stroke-width="3.74" stroke-linecap="round"/>
<line x1="1466.00" y1="134.95" x2="1475.50" y2="134.95" stroke="#000" stroke-width="3.74" stroke-linecap="round"/>
<line x1="1466.00" y1="226.30" x2="1475.50" y2="226.30" stroke="#000" stroke-width="3.74" stroke-linecap="round"/>
<line x1="1466.00" y1="317.65" x2="1475.50" y2="317.65" stroke="#000" stroke-width="3.74" stroke-linecap="round"/>
<line x1="1466.00" y1="409.00" x2="1475.50" y2="409.00" stroke="#000" stroke-width="3.74" stroke-linecap="round"/>
<line x1="1470.50" y1="89.28" x2="1475.50" y2="89.28" stroke="#000" stroke-width="3.74" stroke-linecap="round"/>
<line x1="1470.50" y1="180.62" x2="1475.50" y2="180.62" stroke="#000" stroke-width="3.74" stroke-linecap="round"/>
<line x1="1470.50" y1="271.98" x2="1475.50" y2="271.98" stroke="#000" stroke-width="3.74" stroke-linecap="round"/>
<line x1="1470.50" y1="363.32" x2="1475.50" y2="363.32" stroke="#000" stroke-width="3.74" stroke-linecap="round"/>
<text transform="translate(1444.01,52.51) scale(1.0090,1)" font-family='"Liberation Sans", Arial, sans-serif' font-size="31.30" font-weight="700" fill="#000">0</text>
<text transform="translate(1433.97,147.25) scale(0.7617,1)" font-family='"Liberation Sans", Arial, sans-serif' font-size="34.99" font-weight="700" fill="#000">-1</text>
<text transform="translate(1433.97,238.60) scale(0.7617,1)" font-family='"Liberation Sans", Arial, sans-serif' font-size="34.99" font-weight="700" fill="#000">-2</text>
<text transform="translate(1433.97,329.42) scale(0.7787,1)" font-family='"Liberation Sans", Arial, sans-serif' font-size="34.23" font-weight="700" fill="#000">-3</text>
<text transform="translate(1434.00,421.30) scale(0.7342,1)" font-family='"Liberation Sans", Arial, sans-serif' font-size="34.99" font-weight="700" fill="#000">-4</text>
<text transform="translate(1465.87,493.48) scale(0.9892,1)" font-family='"Liberation Sans", Arial, sans-serif' font-size="33.39" font-weight="700" fill="#000">0</text>
<text transform="translate(1568.50,493.48) scale(1.0361,1)" font-family='"Liberation Sans", Arial, sans-serif' font-size="33.39" font-weight="700" fill="#000">20</text>
<text transform="translate(1682.26,493.48) scale(1.0059,1)" font-family='"Liberation Sans", Arial, sans-serif' font-size="33.39" font-weight="700" fill="#000">40</text>
<text transform="translate(1793.86,493.48) scale(1.0361,1)" font-family='"Liberation Sans", Arial, sans-serif' font-size="33.39" font-weight="700" fill="#000">60</text>
<text transform="translate(1906.54,493.48) scale(1.0361,1)" font-family='"Liberation Sans", Arial, sans-serif' font-size="33.39" font-weight="700" fill="#000">80</text>
<text transform="translate(1602.60,528.24) scale(1.0906,1)" font-family='"Liberation Sans", Arial, sans-serif' font-size="33.96" font-weight="700" fill="#000">Time / min</text>
<line x1="1794.90" y1="517.40" x2="1874.00" y2="517.40" stroke="#000" stroke-width="2.2"/><path d="M1868.0,511.9 L1877.0,517.4 L1868.0,522.9" fill="none" stroke="#000" stroke-width="2.2"/>
<text transform="translate(1612.83,96.90) scale(1.2036,1)" font-family='"Liberation Sans", Arial, sans-serif' font-size="38.40" font-style="italic" fill="#000">Off resonance</text>
<text transform="translate(1566.51,365.10) scale(1.0604,1)" font-family='"Liberation Sans", Arial, sans-serif' font-size="36.09" fill="#000">Cavity/</text>
<text transform="translate(1565.23,408.74) scale(1.0412,1)" font-family='"Liberation Sans", Arial, sans-serif' font-size="37.77" fill="#000">Non-cavity</text>
<g transform="translate(1412.20,420.00) rotate(-90)" font-family='"Liberation Sans", Arial, sans-serif' font-weight="700" font-size="38.0"><text x="0" y="0">ln(1- [MC]</text><text x="177.9" y="15" font-size="22">t</text><text x="183.2" y="0">·[MC]</text><text transform="translate(283.6,15.82) scale(1,1.5)" font-size="23.6">∞</text><text x="282.2" y="-21.6" font-size="18.5">-1</text><text x="304.3" y="0">)</text></g>
<line x1="1408.70" y1="96.95" x2="1408.70" y2="44.25" stroke="#000" stroke-width="2.0"/>
<path d="M1403.2,51.2 L1408.7,42.2 L1414.2,51.2" fill="none" stroke="#000" stroke-width="2"/>
<text transform="translate(102.86,624.70) scale(1.0518,1)" font-family='"Liberation Sans", Arial, sans-serif' font-size="41.81" fill="#000">D</text>
<line x1="193.90" y1="1023.00" x2="193.90" y2="606.00" stroke="#000" stroke-width="1.8"/>
<path d="M193.9,595.3 L199.6,608 L188.2,608 Z" fill="#000"/>
<line x1="193.90" y1="1022.80" x2="957.00" y2="1014.40" stroke="#000" stroke-width="1.8"/>
<path d="M966.5,1014.2 L956.6,1007.8 L956.9,1020.8 Z" fill="#000"/>
<text transform="translate(178.66,843.82) rotate(-90) scale(1.1633,1)" font-family='"Liberation Serif", "Times New Roman", serif' font-size="28.74" font-weight="700" fill="#000">Energy</text>
<text transform="translate(427.54,1058.89) scale(0.8904,1)" font-family='"Liberation Serif", "Times New Roman", serif' font-size="32.83" font-weight="700" fill="#000">Reaction coordinate</text>
<text transform="translate(205.25,1009.65) scale(0.8180,1)" font-family='"Liberation Serif", "Times New Roman", serif' font-size="35.34" fill="#101848" stroke="#101848" stroke-width="0.45">Product 1</text>
<text transform="translate(822.44,999.08) scale(0.8902,1)" font-family='"Liberation Serif", "Times New Roman", serif' font-size="32.97" fill="#101848" stroke="#101848" stroke-width="0.45">Product 2</text>
<text transform="translate(494.04,930.80) scale(0.9160,1)" font-family='"Liberation Serif", "Times New Roman", serif' font-size="31.85" fill="#101848" stroke="#101848" stroke-width="0.45">Reactant</text>
<path d="M441.00,763.70 C440.05,759.73 437.77,748.03 435.30,739.90 C432.83,731.77 429.60,722.85 426.20,714.90 C422.80,706.95 418.68,699.00 414.90,692.20 C411.12,685.40 408.43,679.02 403.50,674.10 C398.57,669.18 390.97,663.47 385.30,662.70 C379.63,661.93 374.03,665.72 369.50,669.50 C364.97,673.28 361.88,678.97 358.10,685.40 C354.32,691.83 350.20,700.53 346.80,708.10 C343.40,715.67 340.35,723.23 337.70,730.80 C335.05,738.37 332.80,746.68 330.90,753.50 C329.00,760.32 327.43,766.12 326.30,771.70 C325.17,777.28 324.47,784.45 324.10,787.00" fill="none" stroke="#e64b58" stroke-width="4.6" stroke-dasharray="7.5,4.5"/>
<path d="M307,781.9 L341.1,793.2 L315,821.6 Z" fill="#e8525c"/>
<path d="M621.60,769.20 C623.68,763.72 630.13,746.33 634.10,736.30 C638.07,726.27 641.62,717.33 645.40,709.00 C649.18,700.67 653.02,691.97 656.80,686.30 C660.58,680.63 664.32,677.65 668.10,675.00 C671.88,672.35 675.72,670.78 679.50,670.40 C683.28,670.02 687.02,670.42 690.80,672.70 C694.58,674.98 698.42,678.80 702.20,684.10 C705.98,689.40 710.10,696.93 713.50,704.50 C716.90,712.07 719.95,721.55 722.60,729.50 C725.25,737.45 727.13,744.27 729.40,752.20 C731.67,760.13 734.50,769.97 736.20,777.10 C737.90,784.23 739.03,792.02 739.60,795.00" fill="none" stroke="#e5141e" stroke-width="4.8" stroke-dasharray="7.5,4.5"/>
<path d="M723.7,799.8 L756.6,788.5 L748.7,827.1 Z" fill="#ea1118"/>
<defs>
<radialGradient id="glow" cx="0.5" cy="0.5" r="0.5"><stop offset="0" stop-color="#f7b4b4" stop-opacity="0.85"/><stop offset="0.6" stop-color="#f8c0c0" stop-opacity="0.7"/><stop offset="1" stop-color="#fde0e0" stop-opacity="0"/></radialGradient>
<linearGradient id="lm" x1="0" y1="0" x2="1" y2="0"><stop offset="0" stop-color="#f6f6f6"/><stop offset="0.4" stop-color="#eeebe8"/><stop offset="0.7" stop-color="#ead6d4"/><stop offset="1" stop-color="#e3c2c2"/></linearGradient>
<linearGradient id="rm" x1="0" y1="0" x2="1" y2="0"><stop offset="0" stop-color="#e83a10"/><stop offset="0.5" stop-color="#e8300a"/><stop offset="1" stop-color="#e02a08"/></linearGradient>
</defs>
<ellipse cx="465.0" cy="817.7" rx="21.8" ry="57.7" fill="#f01c08"/>
<ellipse cx="466.4" cy="817.7" rx="21.8" ry="57.7" fill="#f23a06"/>
<ellipse cx="467.4" cy="817.7" rx="21.8" ry="57.7" fill="#f09000"/>
<ellipse cx="468.2" cy="817.7" rx="21.8" ry="57.7" fill="#d8c800"/>
<ellipse cx="469.0" cy="817.7" rx="21.8" ry="57.7" fill="#70b850"/>
<ellipse cx="469.8" cy="817.7" rx="21.8" ry="57.7" fill="#8fc0e8"/>
<ellipse cx="470.6" cy="817.7" rx="21.8" ry="57.7" fill="#f4f4f8"/>
<ellipse cx="471.8" cy="817.7" rx="21.8" ry="57.7" fill="url(#lm)"/>
<ellipse cx="532" cy="820" rx="62" ry="56" fill="url(#glow)"/>
<ellipse cx="600.2" cy="818.8" rx="22.6" ry="57.9" fill="#c0a020"/>
<ellipse cx="603.6" cy="818.8" rx="22.6" ry="57.9" fill="url(#rm)"/>
<path d="M216.50,976.90 C220.10,976.72 230.13,976.63 238.10,975.80 C246.07,974.97 256.12,974.18 264.30,971.90 C272.48,969.62 280.65,965.92 287.20,962.10 C293.75,958.28 298.80,954.02 303.60,949.00 C308.40,943.98 312.68,937.67 316.00,932.00 C319.32,926.33 321.22,922.00 323.50,915.00 C325.78,908.00 327.33,899.52 329.70,890.00 C332.07,880.48 335.23,869.30 337.70,857.90 C340.17,846.50 342.23,834.47 344.50,821.60 C346.77,808.73 349.03,794.32 351.30,780.70 C353.57,767.08 355.83,752.00 358.10,739.90 C360.37,727.80 362.63,717.57 364.90,708.10 C367.17,698.63 369.05,689.53 371.70,683.10 C374.35,676.67 377.77,670.63 380.80,669.50 C383.83,668.37 386.87,672.13 389.90,676.30 C392.93,680.47 395.98,686.93 399.00,694.50 C402.02,702.07 404.98,712.62 408.00,721.70 C411.02,730.78 414.07,739.92 417.10,749.00 C420.13,758.08 423.30,767.13 426.20,776.20 C429.10,785.27 431.73,794.10 434.50,803.40 C437.27,812.70 440.08,823.40 442.80,832.00 C445.52,840.60 447.52,847.67 450.80,855.00 C454.08,862.33 457.90,870.60 462.50,876.00 C467.10,881.40 473.37,884.32 478.40,887.40 C483.43,890.48 487.43,892.48 492.70,894.50 C497.97,896.52 503.78,898.15 510.00,899.50 C516.22,900.85 523.83,901.97 530.00,902.60 C536.17,903.23 541.17,903.50 547.00,903.30 C552.83,903.10 559.50,902.40 565.00,901.40 C570.50,900.40 575.33,898.95 580.00,897.30 C584.67,895.65 588.83,893.63 593.00,891.50 C597.17,889.37 601.50,887.00 605.00,884.50 C608.50,882.00 611.42,879.33 614.00,876.50 C616.58,873.67 618.58,870.83 620.50,867.50 C622.42,864.17 623.72,860.48 625.50,856.50 C627.28,852.52 629.40,848.30 631.20,843.60 C633.00,838.90 634.80,833.60 636.30,828.30 C637.80,823.00 638.92,819.85 640.20,811.80 C641.48,803.75 642.75,789.93 644.00,780.00 C645.25,770.07 645.95,761.77 647.70,752.20 C649.45,742.63 651.85,731.68 654.50,722.60 C657.15,713.52 660.58,703.93 663.60,697.70 C666.62,691.47 669.95,687.67 672.60,685.20 C675.25,682.73 676.85,682.72 679.50,682.90 C682.15,683.08 685.48,683.45 688.50,686.30 C691.52,689.15 694.57,693.57 697.60,700.00 C700.63,706.43 704.05,715.45 706.70,724.90 C709.35,734.35 711.23,745.73 713.50,756.70 C715.77,767.67 718.03,779.73 720.30,790.70 C722.57,801.67 724.45,811.90 727.10,822.50 C729.75,833.10 732.78,843.72 736.20,854.30 C739.62,864.88 743.63,876.38 747.60,886.00 C751.57,895.62 755.68,904.60 760.00,912.00 C764.32,919.40 768.50,925.48 773.50,930.40 C778.50,935.32 783.50,937.97 790.00,941.50 C796.50,945.03 802.85,948.27 812.50,951.60 C822.15,954.93 837.48,959.35 847.90,961.50 C858.32,963.65 865.27,963.95 875.00,964.50 C884.73,965.05 901.08,964.75 906.30,964.80" fill="none" stroke="#17208a" stroke-width="4" stroke-linecap="round"/>
<line x1="487.20" y1="813.60" x2="495.40" y2="820.00" stroke="#3a3030" stroke-width="1.6"/>
<line x1="487.20" y1="825.40" x2="495.40" y2="820.00" stroke="#3a3030" stroke-width="1.6"/>
<line x1="495.40" y1="820.00" x2="496.30" y2="831.80" stroke="#3a3030" stroke-width="1.6"/>
<line x1="495.40" y1="820.00" x2="501.50" y2="815.50" stroke="#3a3030" stroke-width="1.6"/>
<line x1="500.00" y1="802.70" x2="502.50" y2="810.00" stroke="#3a3030" stroke-width="1.6"/>
<line x1="510.80" y1="802.70" x2="506.50" y2="810.00" stroke="#3a3030" stroke-width="1.6"/>
<line x1="518.50" y1="819.50" x2="523.60" y2="814.50" stroke="#3a3030" stroke-width="1.6"/>
<line x1="523.60" y1="814.50" x2="534.50" y2="820.80" stroke="#3a3030" stroke-width="1.6"/>
<line x1="534.50" y1="820.80" x2="545.40" y2="812.70" stroke="#3a3030" stroke-width="1.6"/>
<line x1="545.40" y1="812.70" x2="559.50" y2="805.50" stroke="#3a3030" stroke-width="1.6"/>
<line x1="557.50" y1="800.50" x2="560.50" y2="795.50" stroke="#3a3030" stroke-width="1.6"/>
<line x1="562.60" y1="789.00" x2="563.00" y2="797.00" stroke="#3a3030" stroke-width="1.6"/>
<line x1="572.60" y1="794.50" x2="566.50" y2="798.50" stroke="#3a3030" stroke-width="1.6"/>
<line x1="572.60" y1="807.20" x2="566.50" y2="803.50" stroke="#3a3030" stroke-width="1.6"/>
<line x1="546.20" y1="809.80" x2="556.50" y2="804.20" stroke="#3a3030" stroke-width="1.0"/>
<line x1="547.60" y1="815.50" x2="557.90" y2="809.90" stroke="#3a3030" stroke-width="1.0"/>
<text x="500.8" y="817.8" font-family='"Liberation Sans", Arial, sans-serif' font-size="10" fill="#9a48c0">Si</text>
<text x="510.6" y="825" font-family='"Liberation Sans", Arial, sans-serif' font-size="10" fill="#9a48c0">O</text>
<text x="559.5" y="804.5" font-family='"Liberation Sans", Arial, sans-serif' font-size="10" fill="#e0606a">Si</text>
<line x1="209.00" y1="903.10" x2="222.90" y2="912.50" stroke="#000" stroke-width="1.9"/>
<line x1="209.00" y1="922.30" x2="222.90" y2="912.50" stroke="#000" stroke-width="1.9"/>
<line x1="222.90" y1="912.50" x2="223.30" y2="931.30" stroke="#000" stroke-width="1.9"/>
<line x1="222.90" y1="912.50" x2="230.70" y2="907.60" stroke="#000" stroke-width="1.9"/>
<line x1="233.90" y1="896.20" x2="229.00" y2="886.80" stroke="#000" stroke-width="1.9"/>
<line x1="241.30" y1="895.00" x2="246.20" y2="886.80" stroke="#000" stroke-width="1.9"/>
<line x1="257.60" y1="909.20" x2="266.60" y2="903.10" stroke="#000" stroke-width="1.9"/>
<line x1="266.60" y1="903.10" x2="280.90" y2="912.90" stroke="#000" stroke-width="1.9"/>
<line x1="280.90" y1="912.90" x2="295.20" y2="903.10" stroke="#000" stroke-width="1.9"/>
<line x1="295.20" y1="903.10" x2="309.50" y2="893.70" stroke="#000" stroke-width="1.9"/>
<line x1="293.20" y1="898.60" x2="307.10" y2="889.60" stroke="#000" stroke-width="1.9"/>
<line x1="297.70" y1="907.60" x2="311.60" y2="898.60" stroke="#000" stroke-width="1.9"/>
<text transform="translate(231.90,907.80) scale(0.9856,1)" font-family='"Liberation Sans", Arial, sans-serif' font-size="13.07" fill="#000">Si</text>
<circle cx="245.4" cy="908.4" r="0.9" fill="#000"/>
<text transform="translate(246.79,917.98) scale(0.9225,1)" font-family='"Liberation Sans", Arial, sans-serif' font-size="14.19" fill="#000">O</text>
<text transform="translate(256.37,947.70) scale(0.7099,1)" font-family='"Liberation Sans", Arial, sans-serif' font-size="18.63" font-weight="700" fill="#000">1</text>
<line x1="838.40" y1="911.30" x2="848.20" y2="904.80" stroke="#000" stroke-width="1.9"/>
<line x1="848.20" y1="904.80" x2="863.80" y2="915.40" stroke="#000" stroke-width="1.9"/>
<line x1="863.80" y1="915.40" x2="880.00" y2="904.60" stroke="#000" stroke-width="1.9"/>
<line x1="880.00" y1="904.60" x2="903.00" y2="889.20" stroke="#000" stroke-width="1.9"/>
<line x1="876.80" y1="899.00" x2="893.20" y2="889.20" stroke="#000" stroke-width="1.9"/>
<line x1="881.70" y1="908.90" x2="898.10" y2="899.00" stroke="#000" stroke-width="1.9"/>
<line x1="911.20" y1="877.00" x2="911.20" y2="863.10" stroke="#000" stroke-width="1.9"/>
<line x1="918.50" y1="878.60" x2="926.70" y2="872.90" stroke="#000" stroke-width="1.9"/>
<line x1="918.50" y1="888.40" x2="926.70" y2="894.10" stroke="#000" stroke-width="1.9"/>
<text transform="translate(818.00,920.09) scale(0.9365,1)" font-family='"Liberation Sans", Arial, sans-serif' font-size="13.63" font-weight="700" fill="#000">HO</text>
<text transform="translate(904.11,889.00) scale(1.1886,1)" font-family='"Liberation Sans", Arial, sans-serif' font-size="13.07" fill="#000">Si</text>
<text transform="translate(870.54,940.70) scale(1.0374,1)" font-family='"Liberation Sans", Arial, sans-serif' font-size="17.35" font-weight="700" fill="#000">2</text>
<defs><radialGradient id="sph" cx="0.5" cy="0.5" r="0.5" fx="0.35" fy="0.34">
<stop offset="0" stop-color="#ffffff"/><stop offset="0.13" stop-color="#ffd0d0"/><stop offset="0.32" stop-color="#ff1a1a"/><stop offset="0.8" stop-color="#e80000"/><stop offset="1" stop-color="#b00000"/></radialGradient>
<clipPath id="ec"><rect x="1154.7" y="604.6" width="504.3" height="405.2"/></clipPath></defs>
<text transform="translate(1015.07,625.00) scale(0.9343,1)" font-family='"Liberation Sans", Arial, sans-serif' font-size="44.23" fill="#000">E</text>
<g clip-path="url(#ec)"><path d="M1153.80,737.00 C1154.23,735.68 1154.92,731.75 1156.40,729.10 C1157.88,726.45 1160.32,723.33 1162.70,721.10 C1165.08,718.87 1168.05,716.23 1170.70,715.70 C1173.35,715.17 1176.48,717.27 1178.60,717.90 C1180.72,718.53 1182.07,719.50 1183.40,719.50 C1184.73,719.50 1185.53,717.90 1186.60,717.90 C1187.67,717.90 1188.75,717.90 1189.80,719.50 C1190.85,721.10 1191.85,722.73 1192.90,727.50 C1193.95,732.27 1195.20,740.42 1196.10,748.10 C1197.00,755.78 1197.60,765.12 1198.30,773.60 C1199.00,782.08 1199.77,793.97 1200.30,799.00 C1200.83,804.03 1200.98,805.38 1201.50,803.80 C1202.02,802.22 1202.70,794.27 1203.40,789.50 C1204.10,784.73 1205.05,777.85 1205.70,775.20 C1206.35,772.55 1206.78,772.80 1207.30,773.60 C1207.82,774.40 1208.28,774.70 1208.80,780.00 C1209.32,785.30 1209.75,796.93 1210.40,805.40 C1211.05,813.87 1212.07,824.97 1212.70,830.80 C1213.33,836.63 1213.52,840.92 1214.20,840.40 C1214.88,839.88 1215.83,835.65 1216.80,827.70 C1217.77,819.75 1218.93,802.78 1220.00,792.70 C1221.07,782.62 1222.15,773.03 1223.20,767.20 C1224.25,761.37 1225.25,759.72 1226.30,757.70 C1227.35,755.68 1228.33,754.57 1229.50,755.10 C1230.67,755.63 1231.97,757.28 1233.30,760.90 C1234.63,764.52 1236.28,772.30 1237.50,776.80 C1238.72,781.30 1239.55,785.78 1240.60,787.90 C1241.65,790.02 1243.00,789.67 1243.80,789.50 C1244.60,789.33 1244.87,785.85 1245.40,786.90 C1245.93,787.95 1246.20,790.07 1247.00,795.80 C1247.80,801.53 1248.87,810.17 1250.20,821.30 C1251.53,832.43 1253.42,848.82 1255.00,862.60 C1256.58,876.38 1258.22,891.80 1259.70,904.00 C1261.18,916.20 1262.57,933.68 1263.90,935.80 C1265.23,937.92 1266.27,927.83 1267.70,916.70 C1269.13,905.57 1270.92,884.37 1272.50,869.00 C1274.08,853.63 1275.62,837.75 1277.20,824.50 C1278.78,811.25 1280.40,797.98 1282.00,789.50 C1283.60,781.02 1285.47,776.68 1286.80,773.60 C1288.13,770.52 1288.68,770.47 1290.00,771.00 C1291.32,771.53 1293.12,772.13 1294.70,776.80 C1296.28,781.47 1297.90,790.00 1299.50,799.00 C1301.10,808.00 1302.72,822.32 1304.30,830.80 C1305.88,839.28 1307.68,847.25 1309.00,849.90 C1310.32,852.55 1310.87,848.02 1312.20,846.70 C1313.53,845.38 1315.40,844.12 1317.00,842.00 C1318.60,839.88 1320.48,840.10 1321.80,834.00 C1323.12,827.90 1323.58,816.53 1324.90,805.40 C1326.22,794.27 1328.10,778.87 1329.70,767.20 C1331.30,755.53 1333.43,742.82 1334.50,735.40 C1335.57,727.98 1335.32,725.35 1336.10,722.70 C1336.88,720.05 1338.15,722.68 1339.20,719.50 C1340.25,716.32 1341.07,709.97 1342.40,703.60 C1343.73,697.23 1345.33,688.18 1347.20,681.30 C1349.07,674.42 1351.75,666.80 1353.60,662.30 C1355.45,657.80 1356.62,656.00 1358.30,654.30 C1359.98,652.60 1361.83,651.83 1363.70,652.10 C1365.57,652.37 1367.75,653.42 1369.50,655.90 C1371.25,658.38 1372.62,662.23 1374.20,667.00 C1375.78,671.77 1377.40,677.33 1379.00,684.50 C1380.60,691.67 1382.22,698.87 1383.80,710.00 C1385.38,721.13 1386.92,734.30 1388.50,751.30 C1390.08,768.30 1391.68,792.22 1393.30,812.00 C1394.92,831.78 1396.30,851.27 1398.20,870.00 C1400.10,888.73 1402.80,912.60 1404.70,924.40 C1406.60,936.20 1407.97,937.42 1409.60,940.80 C1411.23,944.18 1412.87,944.43 1414.50,944.70 C1416.13,944.97 1417.77,944.15 1419.40,942.40 C1421.03,940.65 1422.65,936.38 1424.30,934.20 C1425.95,932.02 1427.38,930.28 1429.30,929.30 C1431.22,928.32 1433.63,928.85 1435.80,928.30 C1437.97,927.75 1440.67,928.28 1442.30,926.00 C1443.93,923.72 1444.50,920.32 1445.60,914.60 C1446.70,908.88 1447.53,897.97 1448.90,891.70 C1450.27,885.43 1452.43,879.18 1453.80,877.00 C1455.17,874.82 1455.73,876.15 1457.10,878.60 C1458.47,881.05 1460.10,887.88 1462.00,891.70 C1463.90,895.52 1466.87,899.75 1468.50,901.50 C1470.13,903.25 1470.72,903.28 1471.80,902.20 C1472.88,901.12 1473.63,902.20 1475.00,895.00 C1476.37,887.80 1478.35,871.00 1480.00,859.00 C1481.65,847.00 1483.00,834.45 1484.90,823.00 C1486.80,811.55 1489.22,799.57 1491.40,790.30 C1493.58,781.03 1495.82,772.85 1498.00,767.40 C1500.18,761.95 1502.33,760.87 1504.50,757.60 C1506.67,754.33 1508.82,750.80 1511.00,747.80 C1513.18,744.80 1515.42,742.07 1517.60,739.60 C1519.78,737.13 1522.20,735.18 1524.10,733.00 C1526.00,730.82 1527.37,728.67 1529.00,726.50 C1530.63,724.33 1532.53,722.45 1533.90,720.00 C1535.27,717.55 1536.10,715.08 1537.20,711.80 C1538.30,708.52 1539.13,703.85 1540.50,700.30 C1541.87,696.75 1543.77,693.05 1545.40,690.50 C1547.03,687.95 1548.93,685.55 1550.30,685.00 C1551.67,684.45 1552.52,686.83 1553.60,687.20 C1554.68,687.57 1555.72,688.55 1556.80,687.20 C1557.88,685.85 1558.73,681.82 1560.10,679.10 C1561.47,676.38 1563.63,672.27 1565.00,670.90 C1566.37,669.53 1567.22,668.45 1568.30,670.90 C1569.38,673.35 1570.42,676.07 1571.50,685.60 C1572.58,695.13 1573.70,710.10 1574.80,728.10 C1575.90,746.10 1577.00,772.88 1578.10,793.60 C1579.20,814.32 1580.58,840.13 1581.40,852.40 C1582.22,864.67 1582.35,868.83 1583.00,867.20 C1583.65,865.57 1584.48,854.87 1585.30,842.60 C1586.12,830.33 1586.92,812.68 1587.90,793.60 C1588.88,774.52 1590.12,747.18 1591.20,728.10 C1592.28,709.02 1593.32,690.55 1594.40,679.10 C1595.48,667.65 1596.33,664.58 1597.70,659.40 C1599.07,654.22 1600.97,650.28 1602.60,648.00 C1604.23,645.72 1605.87,645.43 1607.50,645.70 C1609.13,645.97 1611.03,648.67 1612.40,649.60 C1613.77,650.53 1614.60,651.73 1615.70,651.30 C1616.80,650.87 1617.63,647.55 1619.00,647.00 C1620.37,646.45 1622.00,646.75 1623.90,648.00 C1625.80,649.25 1628.22,652.05 1630.40,654.50 C1632.58,656.95 1635.08,658.60 1637.00,662.70 C1638.92,666.80 1640.53,674.18 1641.90,679.10 C1643.27,684.02 1644.12,689.75 1645.20,692.20 C1646.28,694.65 1647.32,693.92 1648.40,693.80 C1649.48,693.68 1650.50,691.23 1651.70,691.50 C1652.90,691.77 1654.30,694.20 1655.60,695.40 C1656.90,696.60 1658.85,698.15 1659.50,698.70" fill="none" stroke="#141c80" stroke-width="2.3"/>
<line x1="1154" y1="700.6" x2="1660" y2="700.6" stroke="#141c80" stroke-width="1.8" stroke-dasharray="7,4.5"/>
<path d="M1153.80,671.80 C1154.33,672.07 1154.47,670.22 1157.00,673.40 C1159.53,676.58 1165.40,686.55 1169.00,690.90 C1172.60,695.25 1175.13,697.12 1178.60,699.50 C1182.07,701.88 1186.25,703.35 1189.80,705.20 C1193.35,707.05 1195.93,703.97 1199.90,710.60 C1203.87,717.23 1208.67,732.92 1213.60,745.00 C1218.53,757.08 1224.73,771.43 1229.50,783.10 C1234.27,794.77 1239.28,807.32 1242.20,815.00 C1245.12,822.68 1244.87,823.37 1247.00,829.20 C1249.13,835.03 1252.88,839.12 1255.00,850.00 C1257.12,860.88 1258.45,881.17 1259.70,894.50 C1260.95,907.83 1261.60,920.42 1262.50,930.00 C1263.40,939.58 1264.18,953.33 1265.10,952.00 C1266.02,950.67 1267.02,934.83 1268.00,922.00 C1268.98,909.17 1270.00,889.83 1271.00,875.00 C1272.00,860.17 1272.92,850.50 1274.00,833.00 C1275.08,815.50 1276.50,788.83 1277.50,770.00 C1278.50,751.17 1279.25,731.67 1280.00,720.00 C1280.75,708.33 1280.50,705.17 1282.00,700.00 C1283.50,694.83 1286.08,690.52 1289.00,689.00 C1291.92,687.48 1293.50,690.07 1299.50,690.90 C1305.50,691.73 1318.12,693.20 1325.00,694.00 C1331.88,694.80 1335.52,696.22 1340.80,695.70 C1346.08,695.18 1351.40,691.97 1356.70,690.90 C1362.00,689.83 1367.30,689.83 1372.60,689.30 C1377.90,688.77 1383.42,687.50 1388.50,687.70 C1393.58,687.90 1399.03,688.67 1403.10,690.50 C1407.17,692.33 1410.18,695.15 1412.90,698.70 C1415.62,702.25 1417.22,705.25 1419.40,711.80 C1421.58,718.35 1424.08,729.83 1426.00,738.00 C1427.92,746.17 1429.65,755.47 1430.90,760.80 C1432.15,766.13 1431.05,765.63 1433.50,770.00 C1435.95,774.37 1441.85,782.33 1445.60,787.00 C1449.35,791.67 1453.55,791.45 1456.00,798.00 C1458.45,804.55 1458.87,814.23 1460.30,826.30 C1461.73,838.37 1462.52,863.75 1464.60,870.40 C1466.68,877.05 1470.52,871.37 1472.80,866.20 C1475.08,861.03 1476.28,846.60 1478.30,839.40 C1480.32,832.20 1482.72,826.72 1484.90,823.00 C1487.08,819.28 1488.68,817.75 1491.40,817.10 C1494.12,816.45 1497.38,817.03 1501.20,819.10 C1505.02,821.17 1510.48,825.58 1514.30,829.50 C1518.12,833.42 1520.83,838.35 1524.10,842.60 C1527.37,846.85 1530.08,847.37 1533.90,855.00 C1537.72,862.63 1542.37,877.22 1547.00,888.40 C1551.63,899.58 1557.53,915.17 1561.70,922.10 C1565.87,929.03 1568.57,931.90 1572.00,930.00 C1575.43,928.10 1579.38,917.08 1582.30,910.70 C1585.22,904.32 1586.65,899.23 1589.50,891.70 C1592.35,884.17 1596.23,875.32 1599.40,865.50 C1602.57,855.68 1606.05,847.52 1608.50,832.80 C1610.95,818.08 1612.52,797.37 1614.10,777.20 C1615.68,757.03 1617.02,726.33 1618.00,711.80 C1618.98,697.27 1619.67,693.63 1620.00,690.00" fill="none" stroke="#d81c1c" stroke-width="2.6" stroke-dasharray="2.4,3.4"/>
<circle cx="1158.5" cy="673.5" r="10.2" fill="url(#sph)"/>
<circle cx="1178.6" cy="699.5" r="10.2" fill="url(#sph)"/>
<circle cx="1200" cy="710.7" r="10.2" fill="url(#sph)"/>
<circle cx="1247" cy="829.1" r="10.2" fill="url(#sph)"/>
<circle cx="1258" cy="855.6" r="10.2" fill="url(#sph)"/>
<circle cx="1261" cy="940.5" r="10.2" fill="url(#sph)"/>
<circle cx="1265" cy="952.5" r="10.2" fill="url(#sph)"/>
<circle cx="1274" cy="833" r="10.2" fill="url(#sph)"/>
<circle cx="1281" cy="700" r="10.2" fill="url(#sph)"/>
<circle cx="1289.2" cy="688.5" r="10.2" fill="url(#sph)"/>
<circle cx="1346.3" cy="699.4" r="10.2" fill="url(#sph)"/>
<circle cx="1422" cy="673.6" r="10.2" fill="url(#sph)"/>
<circle cx="1433.7" cy="770" r="10.2" fill="url(#sph)"/>
<circle cx="1457.1" cy="796" r="10.2" fill="url(#sph)"/>
<circle cx="1464.3" cy="870.2" r="10.2" fill="url(#sph)"/>
<circle cx="1472.3" cy="866" r="10.2" fill="url(#sph)"/>
<circle cx="1484.8" cy="796" r="10.2" fill="url(#sph)"/>
<circle cx="1533.5" cy="855.3" r="10.2" fill="url(#sph)"/>
<circle cx="1561.4" cy="922.1" r="10.2" fill="url(#sph)"/>
<circle cx="1578.3" cy="933.3" r="10.2" fill="url(#sph)"/>
<circle cx="1582.2" cy="911" r="10.2" fill="url(#sph)"/>
<circle cx="1608.5" cy="832.8" r="10.2" fill="url(#sph)"/>
<circle cx="1618.2" cy="688.6" r="10.2" fill="url(#sph)"/>
<circle cx="1629.6" cy="688.6" r="10.2" fill="url(#sph)"/>
</g>
<rect x="1153.7" y="603.6" width="506.29999999999995" height="407.19999999999993" fill="none" stroke="#000" stroke-width="2"/>
<line x1="1153.70" y1="1011.00" x2="1160.70" y2="1011.00" stroke="#000" stroke-width="2"/>
<line x1="1153.70" y1="900.00" x2="1160.70" y2="900.00" stroke="#000" stroke-width="2"/>
<line x1="1153.70" y1="789.00" x2="1160.70" y2="789.00" stroke="#000" stroke-width="2"/>
<line x1="1153.70" y1="678.00" x2="1160.70" y2="678.00" stroke="#000" stroke-width="2"/>
<line x1="1153.70" y1="955.50" x2="1158.20" y2="955.50" stroke="#000" stroke-width="2"/>
<line x1="1153.70" y1="844.50" x2="1158.20" y2="844.50" stroke="#000" stroke-width="2"/>
<line x1="1153.70" y1="733.50" x2="1158.20" y2="733.50" stroke="#000" stroke-width="2"/>
<line x1="1153.70" y1="622.50" x2="1158.20" y2="622.50" stroke="#000" stroke-width="2"/>
<line x1="1231.70" y1="1010.80" x2="1231.70" y2="1002.80" stroke="#000" stroke-width="2"/>
<line x1="1387.46" y1="1010.80" x2="1387.46" y2="1002.80" stroke="#000" stroke-width="2"/>
<line x1="1543.22" y1="1010.80" x2="1543.22" y2="1002.80" stroke="#000" stroke-width="2"/>
<line x1="1309.58" y1="1010.80" x2="1309.58" y2="1006.20" stroke="#000" stroke-width="2"/>
<line x1="1465.34" y1="1010.80" x2="1465.34" y2="1006.20" stroke="#000" stroke-width="2"/>
<line x1="1621.10" y1="1010.80" x2="1621.10" y2="1006.20" stroke="#000" stroke-width="2"/>
<line x1="1660.00" y1="635.50" x2="1654.00" y2="635.50" stroke="#000" stroke-width="2"/>
<line x1="1660.00" y1="698.00" x2="1654.00" y2="698.00" stroke="#000" stroke-width="2"/>
<line x1="1660.00" y1="761.20" x2="1654.00" y2="761.20" stroke="#000" stroke-width="2"/>
<line x1="1660.00" y1="824.00" x2="1654.00" y2="824.00" stroke="#000" stroke-width="2"/>
<line x1="1660.00" y1="886.50" x2="1654.00" y2="886.50" stroke="#000" stroke-width="2"/>
<line x1="1660.00" y1="949.20" x2="1654.00" y2="949.20" stroke="#000" stroke-width="2"/>
<line x1="1234.00" y1="943.20" x2="1254.50" y2="943.20" stroke="#000" stroke-width="1.9"/>
<path d="M1224.3,943.2 L1236.3,937.6 L1233.8,943.2 L1236.3,948.8 Z" fill="#000"/>
<line x1="1592.00" y1="768.60" x2="1626.00" y2="768.60" stroke="#000" stroke-width="1.9"/>
<path d="M1636.5,768.6 L1624.5,763 L1627,768.6 L1624.5,774.2 Z" fill="#000"/>
<line x1="1184.7" y1="624.9" x2="1229" y2="624.9" stroke="#d81c1c" stroke-width="2.6" stroke-dasharray="2.4,3.4"/>
<circle cx="1207.9" cy="624.9" r="10.2" fill="url(#sph)"/>
<text transform="translate(1234.50,631.87) scale(1.0156,1)" font-family='"Liberation Sans", Arial, sans-serif' font-size="18.89" fill="#000">cavity tunings</text>
<line x1="1390.80" y1="625.00" x2="1439.80" y2="625.00" stroke="#141c80" stroke-width="2.2"/>
<text transform="translate(1443.93,632.26) scale(0.9811,1)" font-family='"Liberation Sans", Arial, sans-serif' font-size="21.73" fill="#000">R in reaction mixture</text>
<text transform="translate(1125.06,687.47) scale(1.0264,1)" font-family='"Liberation Sans", Arial, sans-serif' font-size="34.09" fill="#000">9</text>
<text transform="translate(1125.06,799.48) scale(1.0566,1)" font-family='"Liberation Sans", Arial, sans-serif' font-size="33.11" fill="#000">6</text>
<text transform="translate(1125.64,911.78) scale(1.0268,1)" font-family='"Liberation Sans", Arial, sans-serif' font-size="32.97" fill="#000">3</text>
<text transform="translate(1125.67,1022.08) scale(0.9905,1)" font-family='"Liberation Sans", Arial, sans-serif' font-size="33.11" fill="#000">0</text>
<text transform="translate(1202.41,1046.94) scale(0.9676,1)" font-family='"Liberation Sans", Arial, sans-serif' font-size="35.90" fill="#000">800</text>
<text transform="translate(1349.67,1046.94) scale(0.9476,1)" font-family='"Liberation Sans", Arial, sans-serif' font-size="35.90" fill="#000">1000</text>
<text transform="translate(1504.47,1046.94) scale(0.9476,1)" font-family='"Liberation Sans", Arial, sans-serif' font-size="35.90" fill="#000">1200</text>
<text transform="translate(1267.50,1086.27)" font-family='"Liberation Sans", Arial, sans-serif' font-size="34.41" fill="#000">Wave number (cm</text>
<text transform="translate(1548.15,1069.70) scale(0.8370,1)" font-family='"Liberation Sans", Arial, sans-serif' font-size="21.05" fill="#000">-1</text>
<text transform="translate(1568.20,1086.27) scale(0.9505,1)" font-family='"Liberation Sans", Arial, sans-serif' font-size="34.41" fill="#000">)</text>
<text transform="translate(1100.00,928.04) rotate(-90) scale(0.9866,1)" font-family='"Liberation Sans", Arial, sans-serif' font-size="34.72" font-style="italic" fill="#000">k</text>
<text transform="translate(1112.03,912.87) rotate(-90) scale(1.2215,1)" font-family='"Liberation Sans", Arial, sans-serif' font-size="17.47" font-style="italic" fill="#000">obs</text>
<text transform="translate(1099.45,867.20) rotate(-90) scale(0.9038,1)" font-family='"Liberation Sans", Arial, sans-serif' font-size="35.48" fill="#000">x10</text>
<text transform="translate(1082.85,813.42) rotate(-90) scale(1.0452,1)" font-family='"Liberation Sans", Arial, sans-serif' font-size="22.12" fill="#000">-3</text>
<text transform="translate(1099.63,783.19) rotate(-90) scale(0.9819,1)" font-family='"Liberation Sans", Arial, sans-serif' font-size="34.62" fill="#000">(min</text>
<text transform="translate(1082.40,716.58) rotate(-90) scale(0.9334,1)" font-family='"Liberation Sans", Arial, sans-serif' font-size="20.05" fill="#000">-1</text>
<text transform="translate(1099.63,695.40) rotate(-90) scale(0.7907,1)" font-family='"Liberation Sans", Arial, sans-serif' font-size="34.62" fill="#000">)</text>
<text transform="translate(1704.69,968.45) rotate(-90) scale(1.0754,1)" font-family='"Liberation Sans", Arial, sans-serif' font-size="32.52" fill="#000">Transmittance (a.u.)</text>
</svg></body></html>
